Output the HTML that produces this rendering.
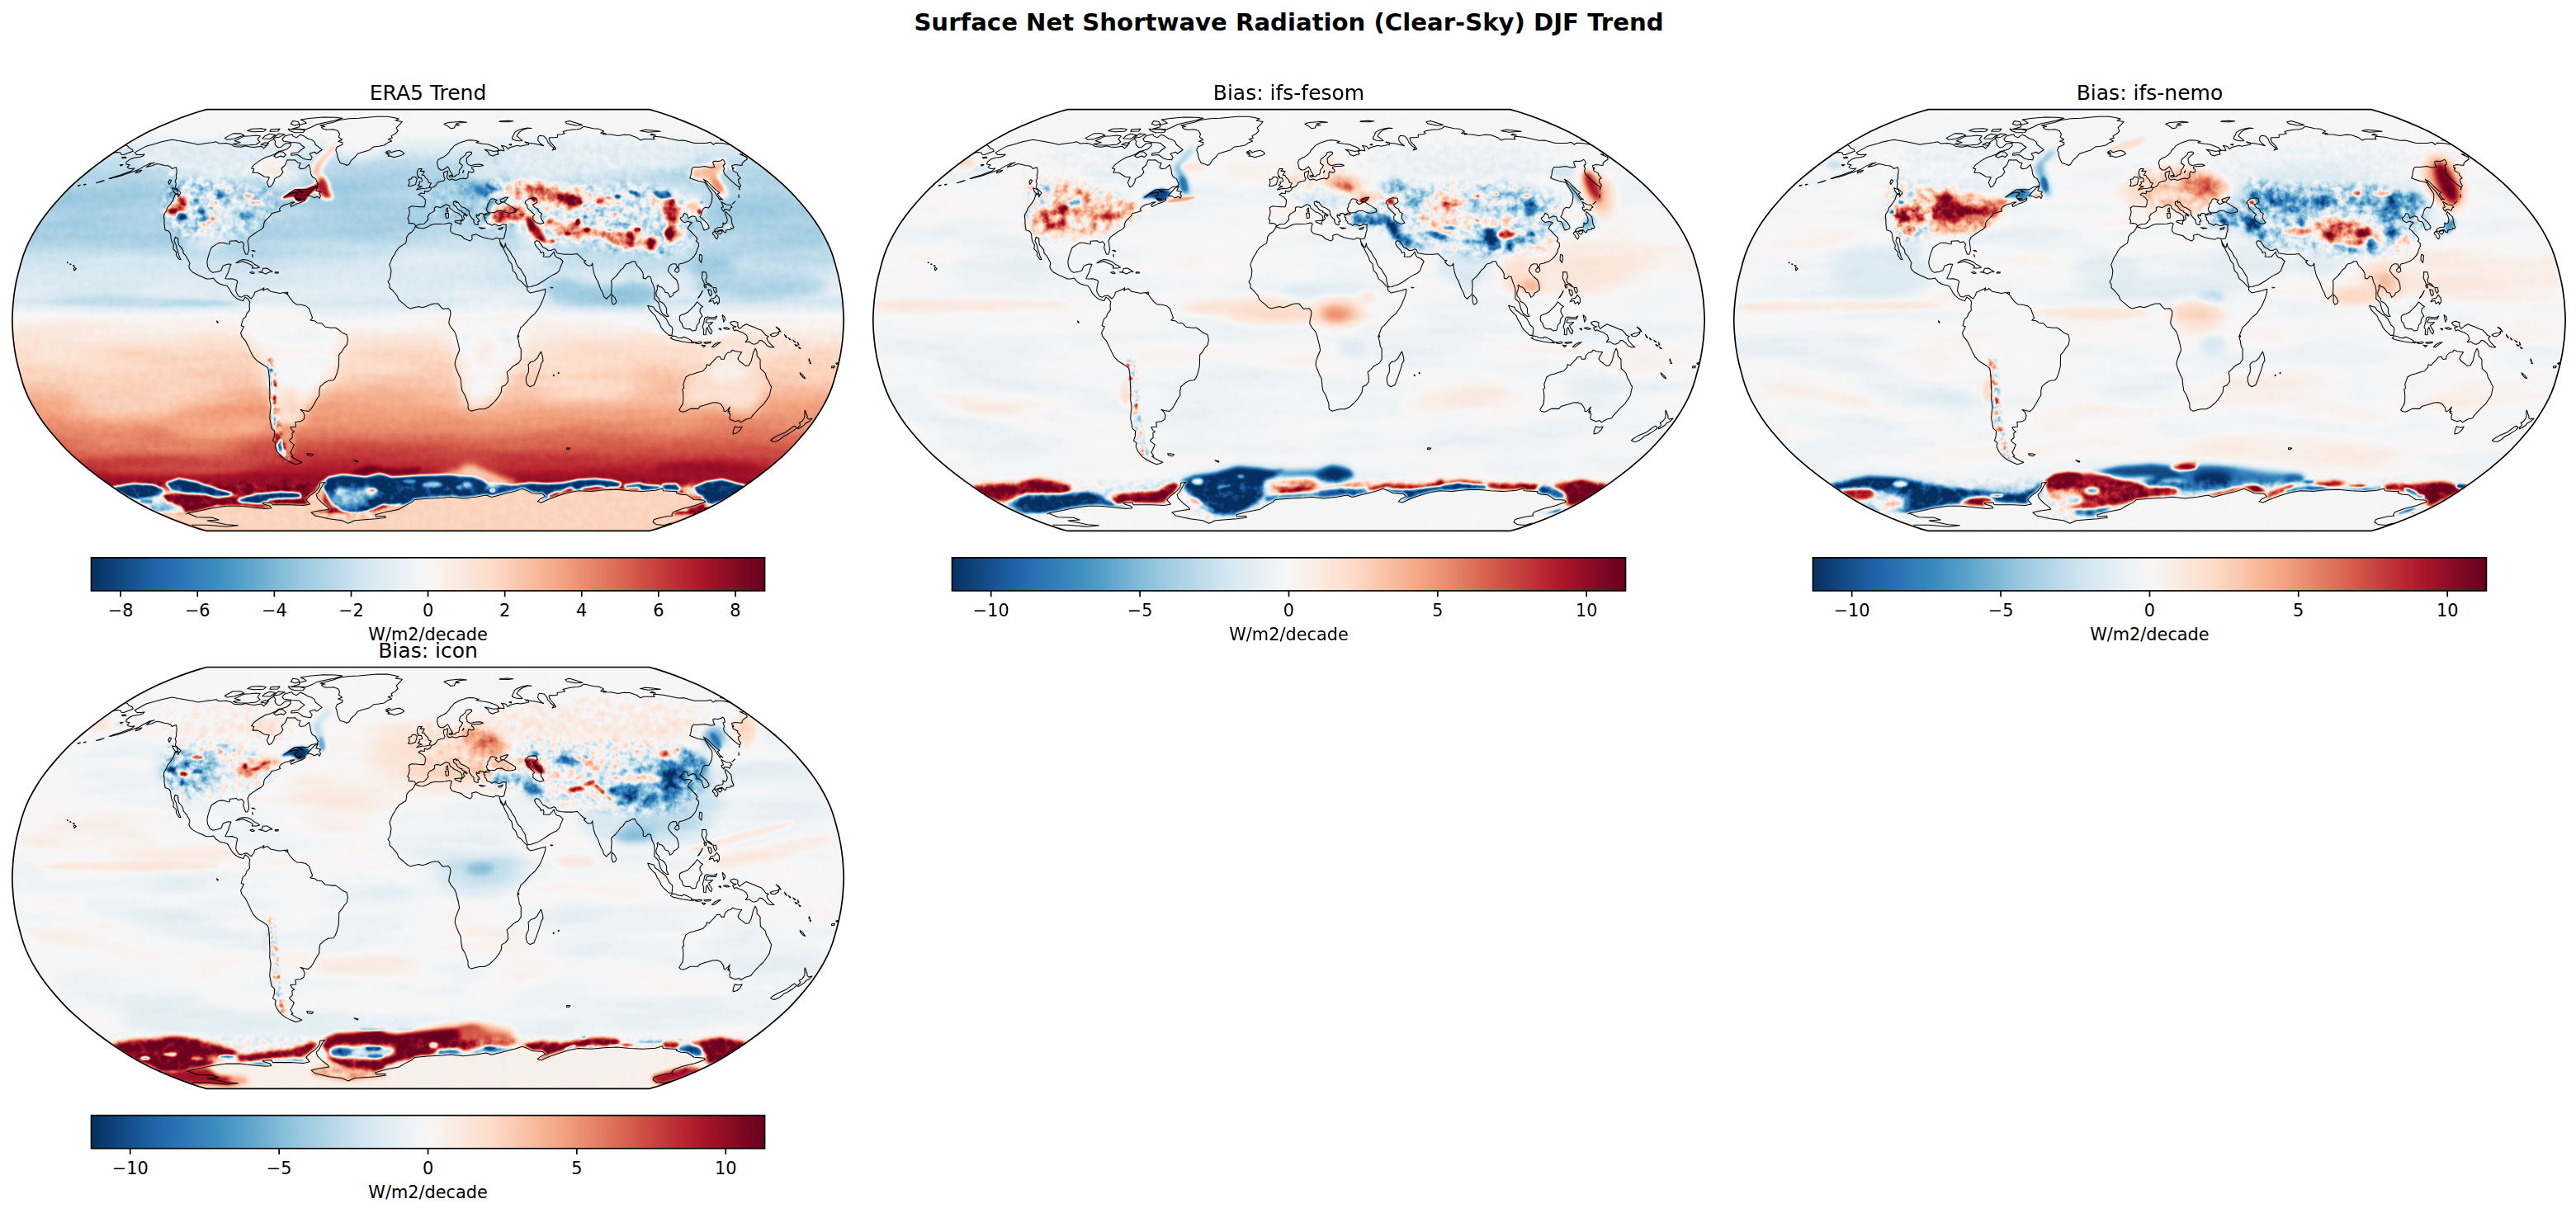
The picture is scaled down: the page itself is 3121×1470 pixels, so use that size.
<!DOCTYPE html>
<html><head><meta charset="utf-8"><title>Surface Net Shortwave Radiation (Clear-Sky) DJF Trend</title>
<style>
html,body{margin:0;padding:0;background:#fff;}
body{width:3121px;height:1470px;overflow:hidden;}
svg{display:block;font-family:"DejaVu Sans","Liberation Sans",sans-serif;fill:#000;}
.t{font-size:25px;text-anchor:middle;}
.k{font-size:20.83px;text-anchor:middle;}
.s{font-size:29.17px;font-weight:bold;text-anchor:middle;}
</style></head><body>
<svg width="3121" height="1470" viewBox="0 0 3121 1470">
<defs>
<clipPath id="rob"><path d="M771.7 0 L781.1 2.6 L791.9 6.1 L803.8 10.4 L816.6 15.5 L829.9 21.1 L842.7 27.2 L854.6 33.5 L865.6 40 L876.1 46.7 L886.3 53.6 L896.2 60.6 L905.9 67.8 L915.3 75.1 L924.2 82.5 L932.8 90 L940.8 97.7 L948.2 105.3 L955.1 113.1 L961.7 120.9 L967.9 128.8 L973.4 136.6 L978.5 144.5 L983.1 152.5 L987.2 160.4 L990.8 168.3 L993.8 176.2 L996.2 184.1 L998.4 192 L1000.5 200 L1002.3 207.9 L1003.8 215.8 L1005 223.7 L1006 231.6 L1006.6 239.5 L1007.1 247.5 L1007.4 255.4 L1007.1 263.3 L1006.6 271.2 L1006 279.1 L1005 287 L1003.8 295 L1002.3 302.9 L1000.5 310.8 L998.4 318.7 L996.2 326.6 L993.8 334.5 L990.8 342.5 L987.2 350.4 L983.1 358.3 L978.5 366.2 L973.4 374.1 L967.9 382 L961.7 389.8 L955.1 397.6 L948.2 405.4 L940.8 413.1 L932.8 420.7 L924.2 428.2 L915.3 435.7 L905.9 443 L896.2 450.2 L886.3 457.2 L876.1 464.1 L865.6 470.8 L854.6 477.3 L842.7 483.6 L829.9 489.6 L816.6 495.3 L803.8 500.3 L791.9 504.6 L781.1 508.2 L771.7 510.8 L235.6 510.8 L226.3 508.2 L215.5 504.6 L203.5 500.3 L190.7 495.3 L177.5 489.6 L164.6 483.6 L152.7 477.3 L141.7 470.8 L131.2 464.1 L121 457.2 L111.1 450.2 L101.4 443 L92.1 435.7 L83.1 428.2 L74.5 420.7 L66.5 413.1 L59.2 405.4 L52.3 397.6 L45.7 389.8 L39.5 382 L33.9 374.1 L28.9 366.2 L24.3 358.3 L20.1 350.4 L16.6 342.5 L13.6 334.5 L11.1 326.6 L9 318.7 L6.9 310.8 L5 302.9 L3.5 295 L2.3 287 L1.4 279.1 L0.7 271.2 L0.2 263.3 L0 255.4 L0.2 247.5 L0.7 239.5 L1.4 231.6 L2.3 223.7 L3.5 215.8 L5 207.9 L6.9 200 L9 192 L11.1 184.1 L13.6 176.2 L16.6 168.3 L20.1 160.4 L24.3 152.5 L28.9 144.5 L33.9 136.6 L39.5 128.8 L45.7 120.9 L52.3 113.1 L59.2 105.3 L66.5 97.7 L74.5 90 L83.1 82.5 L92.1 75.1 L101.4 67.8 L111.1 60.6 L121 53.6 L131.2 46.7 L141.7 40 L152.7 33.5 L164.6 27.2 L177.5 21.1 L190.7 15.5 L203.5 10.4 L215.5 6.1 L226.3 2.6 L235.6 0Z"/></clipPath>
<path id="bound" d="M771.7 0 L781.1 2.6 L791.9 6.1 L803.8 10.4 L816.6 15.5 L829.9 21.1 L842.7 27.2 L854.6 33.5 L865.6 40 L876.1 46.7 L886.3 53.6 L896.2 60.6 L905.9 67.8 L915.3 75.1 L924.2 82.5 L932.8 90 L940.8 97.7 L948.2 105.3 L955.1 113.1 L961.7 120.9 L967.9 128.8 L973.4 136.6 L978.5 144.5 L983.1 152.5 L987.2 160.4 L990.8 168.3 L993.8 176.2 L996.2 184.1 L998.4 192 L1000.5 200 L1002.3 207.9 L1003.8 215.8 L1005 223.7 L1006 231.6 L1006.6 239.5 L1007.1 247.5 L1007.4 255.4 L1007.1 263.3 L1006.6 271.2 L1006 279.1 L1005 287 L1003.8 295 L1002.3 302.9 L1000.5 310.8 L998.4 318.7 L996.2 326.6 L993.8 334.5 L990.8 342.5 L987.2 350.4 L983.1 358.3 L978.5 366.2 L973.4 374.1 L967.9 382 L961.7 389.8 L955.1 397.6 L948.2 405.4 L940.8 413.1 L932.8 420.7 L924.2 428.2 L915.3 435.7 L905.9 443 L896.2 450.2 L886.3 457.2 L876.1 464.1 L865.6 470.8 L854.6 477.3 L842.7 483.6 L829.9 489.6 L816.6 495.3 L803.8 500.3 L791.9 504.6 L781.1 508.2 L771.7 510.8 L235.6 510.8 L226.3 508.2 L215.5 504.6 L203.5 500.3 L190.7 495.3 L177.5 489.6 L164.6 483.6 L152.7 477.3 L141.7 470.8 L131.2 464.1 L121 457.2 L111.1 450.2 L101.4 443 L92.1 435.7 L83.1 428.2 L74.5 420.7 L66.5 413.1 L59.2 405.4 L52.3 397.6 L45.7 389.8 L39.5 382 L33.9 374.1 L28.9 366.2 L24.3 358.3 L20.1 350.4 L16.6 342.5 L13.6 334.5 L11.1 326.6 L9 318.7 L6.9 310.8 L5 302.9 L3.5 295 L2.3 287 L1.4 279.1 L0.7 271.2 L0.2 263.3 L0 255.4 L0.2 247.5 L0.7 239.5 L1.4 231.6 L2.3 223.7 L3.5 215.8 L5 207.9 L6.9 200 L9 192 L11.1 184.1 L13.6 176.2 L16.6 168.3 L20.1 160.4 L24.3 152.5 L28.9 144.5 L33.9 136.6 L39.5 128.8 L45.7 120.9 L52.3 113.1 L59.2 105.3 L66.5 97.7 L74.5 90 L83.1 82.5 L92.1 75.1 L101.4 67.8 L111.1 60.6 L121 53.6 L131.2 46.7 L141.7 40 L152.7 33.5 L164.6 27.2 L177.5 21.1 L190.7 15.5 L203.5 10.4 L215.5 6.1 L226.3 2.6 L235.6 0Z" fill="none" stroke="#000" stroke-width="1.67" stroke-linejoin="miter"/>
<path id="coast" d="M148.4 52.2 162.2 44.5 174 41.3 181.1 39.2 193.9 36.6 201 37.9 207.5 38.9 218.8 41 225 42.6 232.6 41.3 242.3 40 247.2 39.2 250.8 41.3 259.5 40.8 265.6 42.6 268.6 44.8 277.1 45.6 282.7 44 287.6 45.3 293.3 45.9 301.7 44.5 304.6 47.2 308.9 43.2 309.6 40 316.6 35.5 318.8 38.6 318.2 41.8 319.5 44 322 46.1 325.3 45.9 330.7 41.3 337.2 40.8 337.3 44 333.1 48 326.3 50.2 322.8 50.8 318.3 54.1 312.5 56.4 307.2 57.8 299.8 62 293.1 66.9 289.7 71.3 292.9 72.1 291.2 76.6 297 76.6 300.5 78.3 305.6 81.6 311.5 82.2 308.5 88.5 309.8 91.6 311.1 94 314 92.8 316.8 88.5 317.9 84 325 80.1 328.1 76 326.1 71.6 330.8 67.2 333.2 61.2 338.5 61.4 342.4 61.2 345.7 64.3 349.2 64.9 347.2 70.1 349.6 72.1 354.5 71.3 359.3 66.9 361 71.9 361.8 78 363.7 81.9 367.6 84 368.8 87 370.6 90 369.2 92.8 362.8 94 358.2 97 350.9 97 342.4 97 335.9 101.3 329.2 106.3 334.2 102.9 341.2 100.4 346 100.7 344.9 103.8 341.9 105.3 342.9 107.5 345.4 110 349.4 110.6 354.9 107.5 354.5 110.3 350.4 112.5 344 114.7 338 117.8 337 115.3 342.2 112.2 338.4 112.5 335.4 114 329.8 115.6 325.8 117.8 323.5 120.9 324.9 123.1 320.6 124.4 314.1 126.2 312.8 128.8 309.1 132.5 306.3 135.1 304.9 138.2 304.6 142.3 301.6 145.5 297 148 292.9 150.9 287.4 154.7 285.3 159.1 286.3 166.1 286.8 170.5 284.9 175.6 282.7 175.3 281.6 172.4 279.8 167.3 280.8 163.5 278.1 160.1 274.1 161.3 271.6 159.1 267.5 159.4 263.4 159.7 263.4 163.2 260 162.9 256.2 161.6 250.8 161.6 247.2 163.5 241.4 167.3 239.1 173 237.1 179.4 236 184.8 236.8 190.5 239.4 195.2 242.9 197.7 248.8 196.5 253.1 195.2 255.3 189.5 261.1 187.3 265.1 187.6 263.1 192.7 261.6 197.7 259.9 200.9 258 205 261.6 205.3 266.3 205 271.6 206.9 272.9 208.5 271.5 214.2 270.8 219.9 272.5 223.7 274.6 226.6 277.8 227.5 281.3 225.6 284.9 225.6 287.9 228.1 289.5 229.4 292.7 225.3 293.8 221.5 297.8 219.9 302.7 217.7 305 216.1 303.9 219.6 306.2 218 309.1 217.1 313 220.5 319.4 221.8 324.1 222.8 329.7 221.8 333.7 224.3 336.4 228.5 340.4 233.2 344.5 236.4 350.1 236.7 355.6 238 359.7 241.4 362.4 249 363.8 252.8 361 255.4 366.6 256.3 369.4 258.5 375 259.2 379.2 263.6 386.2 264.6 391.8 264.6 396 267.4 400.3 270.9 405.1 272.8 406.6 279.1 405.3 285.5 402.1 288.9 399.4 293.4 395.9 297.2 395.7 304.5 395.5 311.4 393.7 318.7 391.4 325 388.9 328.2 383.4 328.5 378.2 331.4 373.1 335.8 372 340.9 372.1 346.3 369.4 350.4 366.8 355.1 364.5 359.2 362 363 358.5 365.9 353.1 364.9 349.1 363.7 352.6 366.8 354.3 371 353.2 375.7 349.3 378.2 343 378.8 343.7 384.5 336.9 385.1 339.4 389.2 341.8 390.5 339 392.3 339.4 397.6 335.7 400.8 337.5 403.2 341.5 406.3 339.2 411.6 337.1 415.5 340.1 420.1 337.9 420.4 341.9 423.1 347.4 426.1 351.1 427.6 347.5 429.1 343.3 430 337.5 427.6 331.4 424.6 326.1 420.7 321 414.6 318.4 408.5 319.1 403.9 315.7 401.4 317.5 396.1 317.9 389.8 314.3 386.7 313.1 380.4 311.9 374.1 312.3 367.8 313.3 359.9 311.9 352 312.1 342.5 311.7 334.5 311.4 325 310.6 317.1 309.6 313.3 304.9 309.8 297.5 305.4 292 299.7 289.1 294 285.9 287 282.7 280.7 278 275 276.8 270.6 279.2 266.1 280.5 263 277.4 262 278.4 257.9 279.8 253.8 282.9 251.3 284.1 247.5 287.6 243.3 287.2 238 287.9 233.2 285.3 229.4 282 227.5 279.9 231.9 276.8 231 272.7 229.4 270.3 227.5 266.9 224.3 264.9 221.2 262.9 217.4 260.4 213.9 255.3 212.6 251.2 211.4 247.3 208.8 243.7 204.4 239.4 205.3 235.3 205.3 230.1 202.8 224.8 200.6 218.4 197.1 214.9 193.3 214 190.1 215.2 186.3 213.3 182.5 210.7 177.8 207.3 174.3 206.8 170.5 204.4 167 201.7 164.2 200.9 159.7 200.9 156.3 197.4 154.7 196.1 159.4 198.5 164.2 199.3 168 200.8 173 202.2 177.8 204.2 181.9 202.3 181.9 198.6 176.8 198.9 173 195 168.9 195.5 164.2 192.9 159.4 192.1 154.7 191.8 150.9 189.8 147.7 185.2 146.1 184.5 141.4 184.1 137.6 184.2 134.4 183.6 130.3 184 127.2 186.8 122.5 187.8 119.3 192.3 113.7 195.2 109.1 197.3 102.9 201.3 103.2 200.8 106 204 101.3 203 99.8 200.6 97.7 197.5 94.6 198.5 90 197.4 87 199 83.1 198.5 80.1 199.4 76.6 199.2 73 198.6 70.1 193.5 71.9 192.1 69.8 189.1 68.4 184.1 67.8 179.8 66.6 175.1 65.8 169 68.4 162.4 69.8 168 65.8 172.3 64.3 166.6 65.5 159 69.2 153.6 72.7 147 75.1 139.5 77.7 132 80.4 125.5 82.2 118 83.7 123.8 81.6 130.7 79.5 138.5 76.6 144.2 74.5 148.2 71.3 143.7 71.9 141 71.3 139.3 69.8 142.3 67.2 137.8 66.3 138.5 63.5 143.4 60 147.9 58.6 153.9 57.8 157.9 56.6 160.3 54.4 155.4 54.9 151.1 54.9 149.7 53.6 148.4 52.2ZM372.9 19.5 379.9 17.7 388.9 15.5 396.5 12.8 408.2 11 420.2 10.6 430.9 9.5 441.3 8.6 454.5 8.6 462.2 9.9 468.4 11.4 464.4 13.4 472.5 14.8 468.9 18.8 465.3 22.3 467.2 25.9 464.7 28.9 459.1 32.2 460.5 34.7 455.3 36 459.8 38.4 455.4 40 450.6 43.4 444.2 44.5 437.8 45.3 432.5 49.4 425.7 51.3 418.6 53.6 415.2 57.8 410.5 62 408 66.3 405.4 67.8 402.5 66.3 397.4 64.9 395.5 61.2 393.9 56.9 393.4 53 391.9 49.1 393.6 45.3 399.9 42.6 400.1 40 394.7 38.6 399.8 36.6 395.5 33.5 396.7 29.7 394.3 25.9 389 24.2 381.2 24.7 376.6 23.5 374.6 21.6 379 20.6 372.9 19.5ZM349.2 30.4 354.1 32.7 358.1 35.3 363 36.8 366.3 39.4 367.4 42.6 371.7 45.9 375.3 48.9 368.7 53.6 366.5 51.6 360.2 53.6 363.3 57.8 361.6 61.2 356.5 60.6 352.6 59.7 348.7 56.9 345.5 54.9 337.7 55.5 338.2 53 346.1 52.2 350.4 48.6 354.2 45.9 350.6 43.4 348.3 40.8 343.6 40.2 338.8 40 333.4 39.2 328.8 38.6 327 36 330.3 32.2 338.9 30.2 340 32.2 344.2 34.2 349.2 30.4ZM269.4 38.1 280.3 32.7 288.7 32.2 295.3 31.4 300.3 32.2 297.3 36 300.1 39.4 295.1 42.6 287.5 43.2 279.1 43.4 272.2 43.2 267.5 41.8 276.5 40 269.4 38.1ZM257.4 34.7 267.4 29.2 276.9 29.2 280.9 31.4 268.3 35.5 260.2 36.6 257.4 34.7ZM338.9 23.5 346.9 23.7 355.9 24 363.2 21.1 368.9 18.1 377.9 16.1 390.8 13.4 400.1 10.6 391.2 9.5 376.5 9.3 359.8 10.8 349.4 12.4 353.7 14.4 356.4 16.6 347.7 18.8 347.8 21.1 338.9 23.5ZM334.3 23.5 336.3 25.9 342.6 28.2 352.3 27.9 354.5 25.4 348.5 24 339.3 24 334.3 23.5ZM339.9 13.8 346.3 14.8 348.1 17.7 342.7 19.3 337.5 17.7 339.9 13.8ZM284.9 25.9 292.7 27.2 304.6 26.7 307.6 24.2 301.8 23 290.1 23.5 284.9 25.9ZM312.1 26.7 321.8 26.4 324.2 23.5 313.4 24 312.1 26.7ZM303 35.3 312.6 35.5 319 30.9 311.6 29.7 306.1 32.2 303 35.3ZM316.3 34.7 323.3 33.5 330.3 30.2 322.4 29.4 316.3 34.7ZM301.3 42.6 307.5 43.7 310.7 41 306.4 40.2 301.3 42.6ZM316.8 56.4 319.8 58.3 325.4 56.4 328.8 57.8 331.7 54.9 327.7 51.3 323.5 51.3 316.8 56.4ZM357.4 104.7 361.8 105 366.1 107.2 370.3 105.3 372.1 107.8 373.7 104.7 371.9 102.3 373.6 99.8 368 98.3 370.3 93.1 366 95.2 362.3 99.2 357.4 104.7ZM344.1 107.8 349.6 108.4 346.6 110 344.1 107.8ZM346.9 98 352.7 100.4 348.7 99.8 346.9 98ZM193.9 95.2 199.3 97 200.9 102 197.7 102 195.4 99.2 193.9 95.2ZM190.6 85.2 192.9 86.1 190.2 90.9 189 88.5 190.6 85.2ZM150.4 75.1 157 73.6 154 76 149.4 77.2 150.4 75.1ZM271.1 186 275.3 183.2 280.1 181.9 285 182.5 290.2 184.8 293.9 187.9 297.8 189.8 299.8 191.4 296.1 192.4 290.4 192.4 291.7 190.1 288.4 187.9 283.2 185.7 279.3 184.1 275.1 185.1 271.1 186ZM298.6 197.1 302.6 196.5 303.5 192.7 308.5 192.4 311.6 194.3 315.2 196.5 311.3 197.1 307 199.3 303 197.7 298.6 197.1ZM287.9 197.4 291.5 196.8 293.5 198.4 290.4 199 287.9 197.4ZM318.5 197.1 322.6 197.1 322.2 198.4 318.4 198.4 318.5 197.1ZM290.8 175.9 291.5 178.7 291.2 176.8 290.8 175.9ZM290 170.8 292.4 170.8 294.1 172.1 290 170.8ZM331.6 221.5 333.9 221.5 333.8 223.4 331.6 223.4 331.6 221.5ZM452.3 51.9 456.6 49.7 459.3 52.2 463.8 50.5 469.1 49.7 472.7 51.3 474.8 53.6 471.6 55.5 466 57.2 462.6 58 458.5 56.6 455.1 56.6 456.7 54.9 453 53.8 457.1 52.7 452.3 51.9ZM488.2 142 493.1 143.9 498.4 144.2 503.7 142 507.6 139.8 511.5 138.9 518.1 138.9 524.6 138.5 529.8 137.3 532.5 138.5 531.3 142 530.7 146.8 532.9 149.9 538.3 151.5 544.2 153.1 547.8 156.6 554.7 159.4 557.2 157.2 556.9 152.5 562.2 151.2 566.3 153.4 570.5 155 577.3 156.6 582.7 157.5 586.5 155.6 590.1 156.6 591 160.4 591.8 164.2 594.9 168.3 597.4 173.7 600.5 179.4 601.6 183.2 605.1 187.3 606.4 195.2 609.8 198.4 612.4 205.3 616.7 208.5 621.1 213.3 623.7 215.8 623.8 219 627.6 222.4 633.1 221.2 639.4 219.6 646 217.7 645.7 222.4 643.7 228.5 640.5 236.4 637.8 241.1 633.2 247.5 628.2 251.6 622.6 257.9 619.2 261.7 616.1 264.2 614.1 269.9 612 275.3 613.6 280.7 614.5 287 616.4 290.2 616.4 296.5 616.4 302.9 613.4 307.3 607.2 310.8 602.8 315.2 599.3 318.4 600.4 323.5 600.6 329.8 597.6 333.9 593.1 336.1 592.4 342.5 589.9 346.9 586.3 352 582.4 356.1 577.5 360.5 572 363 565.9 363 560.5 364.3 556.5 365.6 553.4 364 552.2 361.5 552.2 356.7 549.9 350.4 548.2 345.9 545.1 340.9 544 334.5 543.4 326.6 540.7 321.2 538.1 314.9 536.3 309.2 536.9 304.5 539.2 298.1 541.8 291.8 540.7 285.5 538.6 277.5 537.8 273.7 535.8 269 531.6 264.2 528.9 259.2 529.7 253.8 531.1 248.4 530.8 244 528.3 241.1 524.6 241.4 521.8 241.8 519 238.9 516.2 235.4 510.7 235.4 506.5 236.7 500.9 238.9 496.7 240.2 492.5 238.9 486.9 240.2 482.4 241.4 478.5 239.5 474.4 235.7 471.6 233.5 468 230.4 466.6 226.2 463.3 222.1 460.6 219 457.3 216.1 457.1 211.7 455.2 208.8 457.5 205.3 458.4 201.5 459.1 195.2 457.8 190.5 457 188.2 459.1 183.2 460.6 179.4 463.4 175.3 464.9 172.1 468.5 167.3 473.2 164.2 476.8 162 477.7 157.8 477.8 154.7 480.3 150.9 484.3 148.3 486.5 145.5 488.2 142ZM640.7 293.4 642.4 299.1 643.2 304.5 641.1 307.6 639.9 312.4 637.8 318.7 635 326.6 632.2 333.9 627.4 336.1 624.1 333.9 622.5 329.2 622.6 324.4 625.4 318.7 625.7 314 625.2 309.2 628.2 306 632.4 304.8 636.2 301.3 638.3 297.2 640.7 293.4ZM489.2 141.4 486.9 138.5 484.1 137.9 480.4 138.2 480.8 134.1 479 132.5 480.7 128.1 481.4 124 480.3 119.3 483.5 117.2 488.5 117.5 494.1 118.1 499.1 118.1 500.4 114.4 500.7 110 498.2 106.6 495 104.7 492.1 103.2 495.1 101.3 499.5 102 499.5 98.6 502.9 99.8 506.6 97.7 507.8 94.9 511.4 93.7 514 90.9 515.1 88.5 519 87 523 86.4 524.3 84 522.8 81 522.5 76.6 526.1 75.1 527.9 74.5 527.4 78 526.5 81.6 527.6 84 529.6 85.5 533 84.3 537.2 85.8 542.4 84 547 83.4 549.5 84.3 552.2 81.9 552.1 78 553.1 75.1 556.5 76.6 559.3 75.7 558.8 72.7 556.8 71.6 556.5 69.8 560.9 68.9 566.5 68.9 570.7 67.8 567.1 66.3 561.6 66.6 555.1 68.1 551.4 66 550.5 62.6 550.3 59.2 553.1 56.4 556.8 53.6 556.4 51.6 553.2 51.3 550.2 52.2 549.2 54.9 545.8 57.8 542.5 60.6 541.7 64.9 545.7 67.8 544.3 70.7 541.7 73.6 541.6 76.6 540.7 78.9 537.3 79.5 536.7 81.3 533.7 81.3 533 78.6 530.7 75.1 529 71.3 527.5 69.2 525.1 71.3 521.9 73.3 519.1 73.3 516.3 71.3 515.3 67.8 514.7 64.3 515.7 61.4 518.9 59.2 522.7 57.5 526.1 55.2 529.1 52.2 530.8 49.1 533.6 46.4 535.4 44 539.2 41.8 542.9 40 547.6 38.6 551.4 37.3 554.9 37.1 559.3 37.3 565.3 38.9 562 40 565.2 40.8 570.5 41.6 576.8 42.4 582.6 44.5 587.4 46.4 589.7 48.9 587.6 50.2 583.6 50.8 577.9 49.4 572.5 48.6 576.4 51.3 578 54.9 582.1 56.4 585 55.2 589.3 54.1 587.8 50.8 591.5 49.4 596 50.2 595.1 46.7 592.6 43.7 598.1 44.8 600.4 48 602.8 46.1 607.4 44.8 612 43.7 615.4 44.5 621.1 43.4 625.7 42.6 625.6 40.5 632.1 41.3 637.9 42.6 643.8 44 639.3 40.8 636.8 37.3 637.2 33.5 638.9 31.7 644.3 32.4 647.4 36 649.1 40 652.6 44 656.4 46.7 654.3 49.4 658.7 48 656.1 44 652.1 40 650.2 35.3 651.3 34 656.3 34.2 660.6 33.5 660.3 30.7 665.6 30.2 669.5 29.2 667.3 26.9 671.7 25.7 677.8 24.5 684.7 24 689.1 23 692.1 20.6 697.3 21.6 703.7 23 711.1 23.7 716.5 26.4 713 28.9 719.2 30.2 726.2 30.4 733.9 31.9 741 30.7 748 30.9 756.8 34 761 37.3 765 35.8 769.9 35.8 778.1 36 776.6 33.5 778.5 32.7 788.7 33.7 799.9 36 807 37.6 813.6 37.3 826.5 40.8 832.6 40.8 840.7 40.8 846.1 39.7 849.5 42.6 852.4 40.5 861.3 41 870.3 42.9 885.9 53.3 884.7 54.7 881.4 54.1 889.7 57.8 890.4 60.3 886.9 62.6 884.4 64.9 884.2 67.8 875.8 66.9 871.6 68.1 872.8 71.6 873.1 74.2 879 77.5 878.7 79.2 882.4 83.1 879.7 84.6 880.1 88.5 882.6 91.9 881.5 94.6 875.1 90 868.5 84 862.8 78 861.7 74.2 862.8 72.1 861.2 67.8 863.5 66.3 862.7 62.6 860.9 60.6 858.8 62 855.4 62.9 850.7 62.6 848.8 63.5 850 67.8 851.2 69.8 846.5 70.7 839 68.9 832.1 69.8 825.3 69.8 823.7 71.6 822.7 75.1 822.2 79.5 820.8 83.1 827.6 85.5 831 86.7 835.4 87.6 839.2 88.5 841.9 93.1 844.9 97.7 847.9 102.3 848 106.9 847.5 111.5 846.1 115.3 843.7 119.3 839.5 118.7 837.4 120.3 836.6 121.5 835.8 124 834.5 127.8 833.1 130 836.8 133.2 841 137 843.9 141.4 844.2 143.9 841.2 145.5 838.2 146.4 836.3 142 835.6 138.9 833.5 136 829.2 135.1 827.9 130.3 824.4 129.1 821.7 130.3 819.1 131.9 817.5 127.2 814.3 125.9 812.3 129.7 809.3 131.6 810.6 134.4 814.4 137 818.5 135.7 823.7 137.3 821.2 139.5 819.7 141.4 818.4 144.5 822 147.7 825.3 151.5 829 155 830 157.8 828.4 159.4 831.4 162 831.7 165.8 830 169.2 828.7 173.7 826.5 177.2 823.2 181 819.6 183.5 816.3 184.8 812.7 186.3 808 187.3 806.9 190.8 805.2 190.8 804.4 187.3 800.5 187 797.2 188.9 795.1 192.7 794.8 195.8 797.6 199.6 800.8 203.1 804.9 206.6 807 212.6 807.4 218.3 804.3 221.2 801.6 222.4 800.4 225.3 797 227.8 795.6 224.3 794.6 222.4 791.2 221.5 789.5 218 786.5 215.2 784 215.2 782.6 212.6 781.3 213.3 781.7 217.4 779.9 222.1 780.4 225.9 783.4 229.1 784.2 232.6 787.6 234.2 790.5 237 792.7 241.1 792.8 246.8 795.2 250.9 792.9 250.9 789 248.4 787 246.2 785.2 242.7 783.9 238 783.2 234.8 780.5 231.6 777.9 229.4 778.1 224.3 778.2 219 777.2 214.2 774.7 208.5 773.5 203.1 770.3 202.2 767.4 205.3 764.5 204.7 764.4 199 762.5 195.2 759.8 192 756.6 188.9 754.6 184.1 751.3 184.1 747.5 186.3 743.5 187.3 741.9 189.5 740.1 192.4 737.1 194.6 734 199 731.1 202.5 727.8 205.3 725.8 207.2 726.3 212.9 725.9 218 725.9 222.8 723.8 225.9 721.7 227.5 719.9 229.7 716.9 226.9 715.3 222.1 712.7 217.4 711 212.6 709.2 207.9 706.9 204.1 705 199 704 194.6 703.2 189.5 702.9 186.3 701.8 188.9 698.5 189.5 695.7 188.2 692.6 184.8 695.1 183.2 692.3 182.5 689.9 180.3 687.1 177.5 684.6 174.9 679.2 175.6 673.8 175.6 669.7 175.6 664.2 174.9 660 174 658.1 169.9 656.1 169.2 652.8 170.8 649.6 170.8 646 168.3 642.9 167 640.6 163.5 637.9 159.7 634.9 159.1 632.7 161 633.9 164.5 636.8 168.3 639.5 170.8 640.4 174 642.2 173 643.6 173 644.2 176.2 643.3 178.4 646.9 178.7 650.9 178.7 654.1 175.3 656.3 172.4 657.3 176.5 659.7 179.4 663.7 180.6 667.3 184.1 665.5 187.9 664.3 190.8 662.8 195.2 659.5 198.4 656 200 651.5 202.5 648.1 204.7 643.6 207.9 639.6 210.4 635.5 212.6 630 214.2 628.7 214.8 624.5 215.2 623.6 212.6 622.2 207.9 621.7 203.1 619 199 615.9 193.6 612.4 190.5 610.5 186.3 608.9 181.6 605.9 177.8 603.6 173 599.7 168.3 598.2 166.1 597.6 162 596.6 166.1 596.1 167.3 594.1 165.4 591.9 162 591 160.4 590.1 156.6 593.3 156.9 595.4 156.3 596.5 153.4 597.1 149.9 598.3 146.1 598.1 142 598.5 139.2 596.7 139.5 594 138.9 591.6 140.7 589 141.1 586.2 139.5 583.8 138.9 581.1 140.7 578.3 138.9 575.3 138.2 574.6 135.7 572.5 133.5 573 131 571.4 130.3 571.4 128.1 574.4 127.5 578.3 127.2 578 125.3 581.8 125 584.4 125 587.9 122.8 593 122.5 597.2 124.7 601.2 125.6 605 125.3 609.9 124 609.5 120.9 606.3 118.7 602.6 116.5 598.6 114 595.8 112.5 598.3 109.4 600.9 106.3 597.8 106.6 594.3 107.8 591.3 109.1 591.7 111.5 595 112.2 592.7 113.1 589.2 115 587.9 114.4 585.2 111.9 587.4 110 583.2 108.4 580.2 108.4 578.5 110.6 578.1 112.5 576.1 114.7 576 117.8 574.5 120 575.5 123.7 578 125 575.5 125.6 573.1 126.6 571.1 127.8 570.4 126.2 566.6 125.9 564.9 127.2 566.1 128.4 564.3 129.1 562.6 127.2 562 128.8 563.2 131.3 565.5 133.5 566.2 135.7 564.1 135.7 564.5 139.8 562.7 139.8 560.5 138.9 558.9 135.7 559.6 134.1 557.3 132.2 555.3 129.7 553.6 127.2 553.5 123.1 550.7 120.9 547.5 119 544.2 117.8 542 115.3 540 112.2 537.8 113.1 537.9 110.9 534.5 112.2 534.9 115.6 538.1 117.8 539.8 120.9 542.5 122.8 545.1 123.1 544.6 124.4 547.8 125.9 551.3 128.1 550.7 129.4 547.4 127.2 546.5 129.7 548 131.9 546.6 133.8 544.6 135.1 545.2 132.5 544.2 128.8 541.7 126.9 539 125 535.7 124 533 121.5 530.3 119.7 529.4 116.5 525.8 115 522.6 116.8 518.9 119 515.8 118.1 513.3 118.1 511.5 119.3 511.8 122.8 508.8 124.7 505.7 126.2 503.2 130 504.2 132.5 501.9 135.7 498.4 138.9 494.5 139.2 491.9 139.5 489.2 141.4ZM137.1 42.9 139.5 44 141.6 46.7 145.4 48.3 146.5 50.5 142.1 52.2 135.1 54.9 132.2 54.7 131.1 52.4 126.6 51.9 123.3 52.7 121.4 53.3M622.3 110.9 625.4 108.4 630.1 107.2 635.1 107.5 636.3 111.9 633.1 114.4 630.3 115.3 632.9 118.7 636.7 120.6 638.3 124.4 641.8 126.2 640.4 128.8 640.5 131.9 644.2 137.3 639.8 138.9 635 137 631 133.8 630.9 129.4 633.1 127.5 630.7 125.6 627.4 122.5 624.2 119.3 623.1 114.7 621.2 113.7 622.3 110.9ZM489.8 97.3 492.8 96.7 496.4 95.8 501.3 95.5 506.8 94.3 505.4 93.1 507.7 89.4 504.4 88.5 504.1 86.7 503.2 84.9 500.6 82.5 499 79.8 496.3 79.5 497.9 77.7 499.3 74.8 495.7 74.5 494.1 74.8 496.4 71.9 492.4 71.9 491.1 74.2 490.4 76.6 491 78.9 490.9 81 492.5 81 492 83.1 495.5 82.8 496.6 85.5 496.6 87.3 493 87.6 493.7 90 491.2 92.2 494.5 93.1 496.5 93.7 493.3 94.3 489.8 97.3ZM479.7 92.8 483.3 92.8 488.6 90.9 489.5 87.6 490.5 84 488.5 81.9 484.5 81.9 483.7 84 480.2 84.9 481.2 87.9 481 90 479.7 92.8ZM523.1 17.7 528 20.4 531.2 23 535.6 22.3 536.8 19.3 542.1 19 537.3 17.7 542.1 16.1 550.6 15.5 543.4 14.6 534.9 15.3 528.1 15.9 523.1 17.7ZM605.6 35.8 610.1 37.6 614.3 38.1 618.2 37.9 614.5 34.7 611.2 32.2 612.6 29.7 614.8 27.2 618.7 24.7 624.6 22.8 629.2 22.8 624.2 22.3 617.8 23.5 612 25.7 608.7 27.9 607.6 30.9 606 33.5 605.6 35.8ZM671.9 17.2 682.5 19.3 690.9 18.8 684.2 16.6 675.2 13.8 670 15 671.9 17.2ZM760.8 25.9 770.1 27.7 776.8 27.2 785.4 26.7 775.8 25.4 767.2 24.7 760.8 25.9ZM773 30.9 779.5 31.4 775 29.7 773 30.9ZM590.2 14.8 600.7 15 606.9 14.2 599.6 13.6 591.3 14 590.2 14.8ZM857.9 37.1 861.7 37.6 859.1 36 857.9 37.1ZM536.2 135.1 544 134.4 543.5 139.2 536.3 136.3 536.2 135.1ZM524.7 125.9 528.6 125.6 528.5 131.3 525.7 131.9 524.7 125.9ZM525.8 120.9 527.5 119.3 528 124 526.2 124 525.8 120.9ZM565.5 143 573 143.9 568.3 144.5 565.5 143ZM588.9 144.5 594.5 142.6 592.9 145.2 589.5 145.5 588.9 144.5ZM850.3 147.7 852 144.9 855.1 143 860.2 142.6 861.3 140.4 861 137.3 863.1 138.9 865.5 137.3 866.4 134.1 865.1 129.4 863.4 126.6 864.4 124 867.6 127.2 870.8 130.3 871.6 134.1 871.7 136.6 872.8 140.4 874.2 142.6 873 144.5 870.7 143.6 870.3 145.5 867 145.8 865.3 146.1 864.4 149 862 148.3 860.4 145.8 856.7 146.4 854.1 147.7 850.3 147.7ZM862.2 123.7 862.6 121.2 865 120.9 869.3 122.5 870.3 119.3 872.2 118.4 869.5 115.6 865 115.3 858.9 111.9 860.5 115.3 861.6 118.4 859.2 118.7 859.6 120.9 862.2 123.7ZM848.6 149.3 850.7 148 853.5 150.2 855.3 154 854.1 156.3 853.6 157.2 851.3 154.7 850.5 152.5 848.5 150.9 848.6 149.3ZM854.5 148 857 147.1 859.9 147.1 859.8 149.3 857.5 151.5 855.3 149.9 854.5 148ZM837.4 84.6 842.5 87.6 847.9 93.1 852.7 97.7 857 100.7 854.5 102.3 857 106.3 860.9 109.4 858.1 108.1 857.6 110 854.3 105.3 851.4 100.7 847.3 96.1 843 91.6 837.4 84.6ZM833 175.6 835.7 176.8 835.5 181 834.8 185.7 832.3 182.5 832.5 178.4 833 175.6ZM802.8 194.3 804.6 192 807.6 192 808 195.8 805.5 197.7 803.1 196.2 802.8 194.3ZM726.5 224.3 730.1 228.1 732 232.6 730.7 235.4 727.9 236.4 726.4 233.2 726.2 228.5 726.5 224.3ZM835.7 196.8 840.4 197.1 841.7 203.1 840 206.3 841.1 210.1 844.9 211.7 848.2 215.2 846.1 214.2 843.1 212.3 838.8 211.7 837.6 208.8 835.3 204.1 836 200 835.7 196.8ZM844.2 233.2 846.7 229.4 850.9 228.5 853.3 224.7 856.4 228.5 856.8 233.2 854.7 236.4 854 233.2 850.5 235.4 849.1 231.6 844.2 233.2ZM849.1 215.8 852.4 215.8 853.5 220.5 851.8 222.8 850 219.6 849.1 215.8ZM842.9 218 846.4 219 847.7 223.7 845.9 226.2 844.3 223.7 842.9 218ZM830.5 228.8 833.8 224.3 836.4 219.6 835 222.8 832.1 227.5 830.5 228.8ZM837.9 212.9 840.7 213.6 840.5 216.4 839.1 216.1 837.9 212.9ZM808.6 250.6 810.5 249 814.7 247.5 818.3 245.9 821 243.3 823.7 240.5 826.3 238 829.7 233.2 832.3 235.4 834.1 237.3 836.7 238.9 833.5 241.4 833.1 245.2 836 250.6 833.8 252.5 832.5 255.4 832.4 258.5 829.8 261.1 828.9 264.9 828 267.7 824 268.4 821 265.8 816.8 266.1 813.5 264.9 811.9 261.7 811.4 259.2 809.2 257 808.4 253.8 808.6 250.6ZM769.9 237.6 773.3 238.6 777 239.5 779 243.3 782.8 245.9 785.6 248.4 788.4 250 791.9 253.2 794.1 257 796 261.1 799.6 264.2 800 266.5 799.2 273.7 795.6 273.7 792.9 271.2 789.4 268 786.1 263.9 784.3 259.2 781.2 254.7 779.2 250 775.8 246.8 772 242.7 769.9 237.6ZM797.4 276.9 800.3 274.4 803.9 275 806.6 276.6 811.6 277.2 813.3 275.6 817.7 277.2 823.1 280.1 822.6 282.9 817.4 282 811.9 281.3 806.4 280.1 800.9 278.8 797.4 276.9ZM838.9 252.8 841.6 251.3 846.4 252.2 850.6 252.2 853.9 250.3 852 254.1 846.4 253.8 841.7 253.8 840 258.2 843.6 258.5 848.7 257.9 845.8 260.8 843.5 261.7 845.7 265.5 848 268.7 846.8 272.2 844.6 270.3 842.8 266.5 842.1 263.9 840.6 266.5 840.3 273.1 837.5 272.8 837.8 266.5 836.2 263.6 838 257.9 838.9 252.8ZM823 281.3 826.1 281.7 824.8 283.2 823 281.3ZM829.4 282.3 832.8 281.7 835.5 282 834 283.6 829.8 283.9 829.4 282.3ZM826.9 282 828.8 282 828.2 283.6 826.9 282ZM838 282.3 842.5 282 846.7 281.7 845.2 283.2 839.6 283.6 838 282.3ZM835.3 285.5 839.9 286.1 837.8 288 835.3 285.5ZM847.6 288 850.6 284.8 855 282.6 858.4 282 854.9 284.5 850.4 287.7 847.6 288ZM860.3 249 863.2 251.6 863.8 254.4 861.8 257.6 861.3 253.8 860.3 249ZM861.6 264.9 865.8 264.2 869.4 266.1 865.7 266.5 861.6 264.9ZM856 265.5 858.8 265.5 858.2 267.4 856 265.5ZM870.2 257.9 874.4 256.6 879.1 258.2 879 262.7 881.2 265.8 885.5 262.3 889.2 260.1 893.9 262 898 263.6 903.5 266.1 907.6 267.4 911.1 271.2 912.9 273.7 916.4 275 914.1 276.9 915.2 280.1 917.7 283.2 921 286.4 923 288 918.6 288 914.6 286.4 912.1 283.2 908.2 280.1 905.5 279.8 902.9 283.2 899.4 284.5 896.7 284.2 892.8 281.3 888.5 282 891.1 278.2 889.7 273.7 885.1 270.3 881 269 876.9 267.1 874.9 268.4 872.8 264.6 877.1 263 873.7 262.3 870.2 259.8 870.2 257.9ZM918.2 273.1 922.8 271.2 927 270.9 929.4 268.7 928.3 272.2 924 275 920.6 275 918.2 273.1ZM925.4 263.6 928.7 265.5 931.3 269.6 930 268 926.8 264.9 925.4 263.6ZM935.6 272.8 938.6 276.6 937 276 935.6 272.8ZM940.6 276.9 943.2 279.1 941.8 279.1 940.6 276.9ZM948.2 284.8 951.6 286.4 949.4 286.7 948.2 284.8ZM945.9 279.4 949.3 282 947.7 281.7 945.9 279.4ZM951.8 282 953.1 285.5 952.1 284.8 951.8 282ZM952.8 288 955.4 289.6 953.7 289.6 952.8 288ZM965.3 302.2 966.5 304.5 965.3 305.1 965.3 302.2ZM966.5 306 967.8 307.6 966.3 307.9 966.5 306ZM954.3 319 957.8 321.9 960.8 326 958.3 325 955.1 321.6 954.3 319ZM992.9 311.1 996.6 310.8 995.8 313 992.7 313 992.9 311.1ZM997.9 307.6 1001.5 306.7 999 308.9 997.9 307.6ZM816 324.4 820.6 321.6 824.9 320.6 830.7 318.7 836.5 317.1 840.9 312.4 841.2 309.2 844.6 310.2 847.4 307 851.3 302.9 853.7 300 857.3 299.7 858.9 302.6 862.5 302.6 863.7 298.1 867.2 294.6 870.6 294 872.5 291.5 876.3 293.1 880.3 293.7 883.9 294 881.2 297.8 879.1 302.2 881.4 305.4 885.1 307.9 888.7 310.8 892.4 310.2 895.4 304.5 896.8 299.1 897.7 295 900.3 289.6 902.1 293.4 902.4 299.1 904.3 300.7 906.2 302.9 906.2 308.6 906.5 314 909.5 316.8 912.4 319.7 913.7 325 915.9 328.2 918 333 919.8 336.1 918.5 341.8 917.5 346.6 914 352 910.3 357.3 905.7 361.5 901.2 366.2 896.9 371 894.9 374.1 889.2 375.4 885.6 377.3 882.6 379.2 880.5 376.9 875.9 378.2 872.7 376.9 869.5 375.7 869.1 372.5 870.1 369.4 868.1 368.1 869.3 365.6 866.9 366.8 869.7 360.5 867 363.7 863.7 366.2 862.2 365.6 862 362.4 860.4 359.9 858.4 357 853.8 355.1 848.4 355.4 842.3 357.3 837.8 358.6 833.3 359.9 830.9 362.7 825.6 362.7 821.6 362.7 816.6 365.3 813.5 366.5 809.8 365.9 807.9 364 809.4 361.5 812.4 356.7 812.9 352 813 347.2 812.7 342.5 811.8 338.7 813.9 337.7 813 333 814.8 328.2 816 324.4ZM875.5 384.2 879.3 385.4 884.3 384.5 882.1 388.3 878 392 873.3 393.3 873.4 389.8 875.5 384.2ZM960.3 364.3 961.3 366.2 962.1 369.4 963.3 371.6 962.9 373.5 964.8 375.4 969.1 374.4 965.4 378.2 961.7 379.8 959.4 382.6 954.7 385.8 951.9 387 951.1 386.1 954.5 382.9 954.4 381 953.4 379.8 957 377.6 959.6 374.1 960.3 371 960 367.2 960.3 364.3ZM947.9 383.6 949.8 384.8 949.6 386.7 946.4 389.2 942.1 392 939.3 393.9 934.8 395.8 931.7 398.6 928.7 400.8 924.6 402.6 921.6 402.6 918.7 401.1 922 398.3 927.5 395.2 932.5 393 937.5 390.8 941.8 387.6 945.9 384.5 947.9 383.6ZM75.1 191.4 77.5 192.7 75.3 195.2 74.6 193.3 75.1 191.4ZM73.7 188.9 75.5 189.5 74.3 190.1 73.7 188.9ZM70.1 187 71.3 187.6 70.1 187.9 70.1 187ZM66.4 185.1 67.5 185.4 66.8 186 66.4 185.1ZM356.9 417.1 361.8 417.4 364.9 418 362.8 420.1 357.7 419.2 356.9 417.1ZM414.2 425.2 419.1 426.4 418.3 427.6 414.2 425.2ZM671.9 410 676 410.3 674 412.2 671.7 411.9 671.9 410ZM247.7 256.3 249.6 257.9 248.5 258.5 247.7 256.3ZM652 215.5 655.1 215.8 653.2 216.4 652 215.5ZM613.2 273.7 614 275.3 613.4 275.6 613.2 273.7ZM655.4 321.6 656.7 322.2 655.8 323.1 655.4 321.6ZM661.4 318.7 662.5 319.3 661.6 320.3 661.4 318.7ZM545.5 76.6 547 73.9 546.7 75.7 545.5 76.6ZM529.2 80.4 532.6 79.5 532.4 81.9 529.8 81.9 529.2 80.4ZM716.7 30.4 719.6 29.7 716.2 28.4 716.7 30.4ZM601.9 42.6 604.6 41.8 604.7 43.4 601.9 42.6ZM621 39.4 625.3 40 623.7 40.8 621 39.4ZM132.6 58 137 57.5 138.1 58.6 133.7 59.2 132.6 58ZM130.5 67.2 134.2 66.9 132 68.4 130.5 67.2ZM101.7 89.1 109 86.7 111.3 86.1 106.5 87.9 101.7 89.1ZM79.4 92.2 82.5 91.6 80 92.8 79.4 92.2ZM86.7 90.9 89.4 90.6 87.2 91.6 86.7 90.9ZM117.3 83.7 122.4 82.5 120.4 83.7 117.3 83.7ZM872.2 114.7 875.7 111.5 873.8 113.4 872.2 114.7ZM880.2 106.9 880.3 103.2 880.5 105.7 880.2 106.9ZM881 97.3 881.1 95.5 880.5 96.4 881 97.3ZM873.7 72.1 873.9 70.4 873.9 71.6 873.7 72.1ZM210.7 490.3 213 489.2 228.5 486.1 242.5 483 259.6 480.6 275.1 480.6 290.6 482.2 306.2 483.8 314 483 312.4 480.6 304.6 478.3 303.1 476.8 313.9 476.3 315.5 479.1 321.7 479.1 337.2 479.1 352.8 479.9 360.5 478.3 355.9 472.9 360.5 468.2 366.7 463.6 369.8 460.5 372.2 457.3 372.9 452.7 379.1 451.7 376.1 455 371.4 463.6 368.3 466.7 369.8 471.3 376.1 477.5 382.3 482.2 383.8 484.5 368.3 486.9 362.1 488.4 366.7 492.3 383.8 496.2 399.3 498 407.1 501.6 414.9 498 430.4 496.9 440.8 496.2 452.5 494.6 451.7 492.7 440.8 493.4 440 491.2 453.3 487.6 468.8 484.5 475 480.6 484.3 476 487.4 472.9 503 471.6 521.6 470.5 530.9 469.5 546.4 471.3 561.9 469.5 574.4 467.4 580.6 469.8 593 466.7 608.5 462.8 617.9 459.7 624.1 462 630.3 465.1 642.7 465.9 645.8 469 639.6 472.1 636.5 475.2 641.1 476.3 650.5 472.1 661.3 468.2 673.8 464.3 686.2 462 701.7 462.8 717.2 461.2 732.7 460.5 748.3 462 763.8 462.8 779.3 461.7 787.8 459.3 788.7 462 796.2 462.5 805.5 463 804.6 464.8 810.1 466.7 817.6 467.2 821.3 469.5 826 472.8 832.5 473.2 838.1 473.7 839.9 475.6 834.4 477.4 826.9 480.2 821.3 481.6 812.9 483.5 806.4 485.8 800.8 488.1 799 490.9 799.9 492.3 791.5 493.3 782.2 495.6 777.8 496.9 776.2 500.1 780.9 503.2 790.2 503.9 794.9 502.4 798.8 501.4M213 489.5 223.9 494 242.5 494.6 250.3 497.4 236.3 498.3 248.7 500.8 259.6 503.2 273.6 504.2 259.6 505.6 236.3 503.6 217.7 503.6" fill="none" stroke="#000" stroke-width="1.05" stroke-linejoin="round"/>
<linearGradient id="cb" x1="0" x2="1" y1="0" y2="0"><stop offset="0%" stop-color="#053061"/><stop offset="3.1%" stop-color="#0e4179"/><stop offset="6.2%" stop-color="#175290"/><stop offset="9.4%" stop-color="#1f63a8"/><stop offset="12.5%" stop-color="#2a71b2"/><stop offset="15.6%" stop-color="#3480b9"/><stop offset="18.8%" stop-color="#3f8ec0"/><stop offset="21.9%" stop-color="#529dc8"/><stop offset="25%" stop-color="#6bacd1"/><stop offset="28.1%" stop-color="#84bcd9"/><stop offset="31.2%" stop-color="#9bc9e0"/><stop offset="34.4%" stop-color="#aed3e6"/><stop offset="37.5%" stop-color="#c2ddec"/><stop offset="40.6%" stop-color="#d4e6f1"/><stop offset="43.8%" stop-color="#e0ecf3"/><stop offset="46.9%" stop-color="#ecf2f5"/><stop offset="50%" stop-color="#f7f6f6"/><stop offset="53.1%" stop-color="#f9eee7"/><stop offset="56.2%" stop-color="#fbe5d8"/><stop offset="59.4%" stop-color="#fddcc9"/><stop offset="62.5%" stop-color="#fbccb4"/><stop offset="65.6%" stop-color="#f8bb9e"/><stop offset="68.8%" stop-color="#f5aa89"/><stop offset="71.9%" stop-color="#ee9677"/><stop offset="75%" stop-color="#e48066"/><stop offset="78.1%" stop-color="#db6b55"/><stop offset="81.2%" stop-color="#d05548"/><stop offset="84.4%" stop-color="#c53e3d"/><stop offset="87.5%" stop-color="#ba2832"/><stop offset="90.6%" stop-color="#ab162a"/><stop offset="93.8%" stop-color="#930e26"/><stop offset="96.9%" stop-color="#7c0722"/><stop offset="100%" stop-color="#67001f"/></linearGradient>
<filter id="b1_0" x="-60" y="-60" width="1130" height="635" filterUnits="userSpaceOnUse" color-interpolation-filters="sRGB"><feGaussianBlur stdDeviation="1.0"/></filter>
<filter id="b1_5" x="-60" y="-60" width="1130" height="635" filterUnits="userSpaceOnUse" color-interpolation-filters="sRGB"><feGaussianBlur stdDeviation="1.5"/></filter>
<filter id="b2_0" x="-60" y="-60" width="1130" height="635" filterUnits="userSpaceOnUse" color-interpolation-filters="sRGB"><feGaussianBlur stdDeviation="2.0"/></filter>
<filter id="b2_5" x="-60" y="-60" width="1130" height="635" filterUnits="userSpaceOnUse" color-interpolation-filters="sRGB"><feGaussianBlur stdDeviation="2.5"/></filter>
<filter id="b3_0" x="-60" y="-60" width="1130" height="635" filterUnits="userSpaceOnUse" color-interpolation-filters="sRGB"><feGaussianBlur stdDeviation="3.0"/></filter>
<filter id="b3_5" x="-60" y="-60" width="1130" height="635" filterUnits="userSpaceOnUse" color-interpolation-filters="sRGB"><feGaussianBlur stdDeviation="3.5"/></filter>
<filter id="b4_0" x="-60" y="-60" width="1130" height="635" filterUnits="userSpaceOnUse" color-interpolation-filters="sRGB"><feGaussianBlur stdDeviation="4.0"/></filter>
<filter id="b5_0" x="-60" y="-60" width="1130" height="635" filterUnits="userSpaceOnUse" color-interpolation-filters="sRGB"><feGaussianBlur stdDeviation="5.0"/></filter>
<filter id="b6_0" x="-60" y="-60" width="1130" height="635" filterUnits="userSpaceOnUse" color-interpolation-filters="sRGB"><feGaussianBlur stdDeviation="6.0"/></filter>
<filter id="b7_0" x="-60" y="-60" width="1130" height="635" filterUnits="userSpaceOnUse" color-interpolation-filters="sRGB"><feGaussianBlur stdDeviation="7.0"/></filter>
<filter id="b8_0" x="-60" y="-60" width="1130" height="635" filterUnits="userSpaceOnUse" color-interpolation-filters="sRGB"><feGaussianBlur stdDeviation="8.0"/></filter>
<filter id="b9_0" x="-60" y="-60" width="1130" height="635" filterUnits="userSpaceOnUse" color-interpolation-filters="sRGB"><feGaussianBlur stdDeviation="9.0"/></filter>
<filter id="b10_0" x="-60" y="-60" width="1130" height="635" filterUnits="userSpaceOnUse" color-interpolation-filters="sRGB"><feGaussianBlur stdDeviation="10.0"/></filter>
<filter id="b12_0" x="-60" y="-60" width="1130" height="635" filterUnits="userSpaceOnUse" color-interpolation-filters="sRGB"><feGaussianBlur stdDeviation="12.0"/></filter>
<filter id="b14_0" x="-60" y="-60" width="1130" height="635" filterUnits="userSpaceOnUse" color-interpolation-filters="sRGB"><feGaussianBlur stdDeviation="14.0"/></filter>
<linearGradient id="z1" gradientUnits="userSpaceOnUse" x1="0" y1="0" x2="0" y2="510.8"><stop offset="0.0000" stop-color="#800000"/><stop offset="0.0581" stop-color="#800000"/><stop offset="0.0782" stop-color="#780000"/><stop offset="0.0994" stop-color="#6e0000"/><stop offset="0.1214" stop-color="#630000"/><stop offset="0.1557" stop-color="#5c0000"/><stop offset="0.2214" stop-color="#590000"/><stop offset="0.3016" stop-color="#5b0000"/><stop offset="0.3388" stop-color="#600000"/><stop offset="0.3760" stop-color="#690000"/><stop offset="0.4070" stop-color="#700000"/><stop offset="0.4318" stop-color="#740000"/><stop offset="0.4473" stop-color="#710000"/><stop offset="0.4566" stop-color="#6c0000"/><stop offset="0.4690" stop-color="#730000"/><stop offset="0.4814" stop-color="#790000"/><stop offset="0.4938" stop-color="#800000"/><stop offset="0.5124" stop-color="#880000"/><stop offset="0.5372" stop-color="#900000"/><stop offset="0.5868" stop-color="#990000"/><stop offset="0.6364" stop-color="#a20000"/><stop offset="0.6736" stop-color="#aa0000"/><stop offset="0.7170" stop-color="#b40000"/><stop offset="0.7602" stop-color="#c10000"/><stop offset="0.8028" stop-color="#d00000"/><stop offset="0.8326" stop-color="#db0000"/><stop offset="0.8559" stop-color="#e60000"/><stop offset="0.8730" stop-color="#ee0000"/><stop offset="0.8897" stop-color="#f60000"/><stop offset="0.9006" stop-color="#fa0000"/><stop offset="1.0000" stop-color="#fa0000"/></linearGradient>
<filter id="cm0" x="-10" y="-10" width="1030" height="535" filterUnits="userSpaceOnUse" color-interpolation-filters="sRGB"><feTurbulence type="fractalNoise" baseFrequency="0.11" numOctaves="3" seed="3" result="t"/><feColorMatrix in="t" type="matrix" values="1 0 0 0 0 1 0 0 0 0 1 0 0 0 0 0 0 0 0 1" result="tn"/><feTurbulence type="fractalNoise" baseFrequency="0.006 0.035" numOctaves="3" seed="103" result="u"/><feColorMatrix in="u" type="matrix" values="1 0 0 0 0 1 0 0 0 0 1 0 0 0 0 0 0 0 0 1" result="un"/><feColorMatrix in="SourceGraphic" type="matrix" values="0 1 0 0 0 0 1 0 0 0 0 1 0 0 0 0 0 0 0 1" result="m"/><feColorMatrix in="SourceGraphic" type="matrix" values="0 0 1 0 0 0 0 1 0 0 0 0 1 0 0 0 0 0 0 1" result="mb"/><feColorMatrix in="SourceGraphic" type="matrix" values="1 0 0 0 0 1 0 0 0 0 1 0 0 0 0 0 0 0 0 1" result="s"/><feComposite in="tn" in2="m" operator="arithmetic" k1="4.0" k2="0" k3="-2.0" k4="0.5" result="nz"/><feComposite in="un" in2="mb" operator="arithmetic" k1="1.0" k2="0" k3="-0.5" k4="0.5" result="nz2"/><feComposite in="s" in2="nz" operator="arithmetic" k1="0" k2="1" k3="1" k4="-0.5" result="v1"/><feComposite in="v1" in2="nz2" operator="arithmetic" k1="0" k2="1" k3="1" k4="-0.51" result="v"/><feComponentTransfer in="v"><feFuncR type="table" tableValues="0.020 0.037 0.054 0.071 0.089 0.106 0.123 0.142 0.163 0.184 0.205 0.226 0.247 0.275 0.323 0.372 0.421 0.469 0.518 0.566 0.606 0.645 0.684 0.723 0.761 0.800 0.831 0.855 0.878 0.901 0.925 0.948 0.969 0.973 0.976 0.980 0.984 0.988 0.991 0.988 0.982 0.977 0.971 0.966 0.960 0.950 0.931 0.913 0.895 0.876 0.858 0.839 0.817 0.795 0.773 0.751 0.728 0.706 0.669 0.623 0.577 0.531 0.485 0.439 0.404"/><feFuncG type="table" tableValues="0.188 0.221 0.255 0.288 0.321 0.354 0.388 0.417 0.445 0.473 0.500 0.528 0.556 0.584 0.615 0.646 0.676 0.707 0.738 0.769 0.790 0.809 0.829 0.849 0.869 0.888 0.904 0.915 0.926 0.937 0.948 0.959 0.966 0.949 0.932 0.915 0.898 0.880 0.863 0.834 0.801 0.767 0.734 0.701 0.668 0.631 0.589 0.546 0.504 0.461 0.419 0.376 0.332 0.288 0.244 0.199 0.155 0.111 0.085 0.070 0.055 0.041 0.026 0.011 0.000"/><feFuncB type="table" tableValues="0.380 0.427 0.473 0.519 0.565 0.611 0.657 0.683 0.698 0.712 0.726 0.740 0.754 0.769 0.785 0.802 0.819 0.835 0.852 0.869 0.880 0.891 0.902 0.913 0.925 0.936 0.943 0.948 0.952 0.956 0.961 0.965 0.965 0.935 0.906 0.876 0.847 0.817 0.788 0.749 0.706 0.664 0.621 0.579 0.536 0.498 0.465 0.432 0.400 0.367 0.335 0.302 0.281 0.260 0.239 0.218 0.197 0.176 0.164 0.157 0.149 0.142 0.134 0.127 0.122"/></feComponentTransfer></filter>
<filter id="cm1" x="-10" y="-10" width="1030" height="535" filterUnits="userSpaceOnUse" color-interpolation-filters="sRGB"><feTurbulence type="fractalNoise" baseFrequency="0.11" numOctaves="3" seed="11" result="t"/><feColorMatrix in="t" type="matrix" values="1 0 0 0 0 1 0 0 0 0 1 0 0 0 0 0 0 0 0 1" result="tn"/><feTurbulence type="fractalNoise" baseFrequency="0.006 0.035" numOctaves="3" seed="111" result="u"/><feColorMatrix in="u" type="matrix" values="1 0 0 0 0 1 0 0 0 0 1 0 0 0 0 0 0 0 0 1" result="un"/><feColorMatrix in="SourceGraphic" type="matrix" values="0 1 0 0 0 0 1 0 0 0 0 1 0 0 0 0 0 0 0 1" result="m"/><feColorMatrix in="SourceGraphic" type="matrix" values="0 0 1 0 0 0 0 1 0 0 0 0 1 0 0 0 0 0 0 1" result="mb"/><feColorMatrix in="SourceGraphic" type="matrix" values="1 0 0 0 0 1 0 0 0 0 1 0 0 0 0 0 0 0 0 1" result="s"/><feComposite in="tn" in2="m" operator="arithmetic" k1="4.0" k2="0" k3="-2.0" k4="0.5" result="nz"/><feComposite in="un" in2="mb" operator="arithmetic" k1="1.0" k2="0" k3="-0.5" k4="0.5" result="nz2"/><feComposite in="s" in2="nz" operator="arithmetic" k1="0" k2="1" k3="1" k4="-0.5" result="v1"/><feComposite in="v1" in2="nz2" operator="arithmetic" k1="0" k2="1" k3="1" k4="-0.51" result="v"/><feComponentTransfer in="v"><feFuncR type="table" tableValues="0.020 0.037 0.054 0.071 0.089 0.106 0.123 0.142 0.163 0.184 0.205 0.226 0.247 0.275 0.323 0.372 0.421 0.469 0.518 0.566 0.606 0.645 0.684 0.723 0.761 0.800 0.831 0.855 0.878 0.901 0.925 0.948 0.969 0.973 0.976 0.980 0.984 0.988 0.991 0.988 0.982 0.977 0.971 0.966 0.960 0.950 0.931 0.913 0.895 0.876 0.858 0.839 0.817 0.795 0.773 0.751 0.728 0.706 0.669 0.623 0.577 0.531 0.485 0.439 0.404"/><feFuncG type="table" tableValues="0.188 0.221 0.255 0.288 0.321 0.354 0.388 0.417 0.445 0.473 0.500 0.528 0.556 0.584 0.615 0.646 0.676 0.707 0.738 0.769 0.790 0.809 0.829 0.849 0.869 0.888 0.904 0.915 0.926 0.937 0.948 0.959 0.966 0.949 0.932 0.915 0.898 0.880 0.863 0.834 0.801 0.767 0.734 0.701 0.668 0.631 0.589 0.546 0.504 0.461 0.419 0.376 0.332 0.288 0.244 0.199 0.155 0.111 0.085 0.070 0.055 0.041 0.026 0.011 0.000"/><feFuncB type="table" tableValues="0.380 0.427 0.473 0.519 0.565 0.611 0.657 0.683 0.698 0.712 0.726 0.740 0.754 0.769 0.785 0.802 0.819 0.835 0.852 0.869 0.880 0.891 0.902 0.913 0.925 0.936 0.943 0.948 0.952 0.956 0.961 0.965 0.965 0.935 0.906 0.876 0.847 0.817 0.788 0.749 0.706 0.664 0.621 0.579 0.536 0.498 0.465 0.432 0.400 0.367 0.335 0.302 0.281 0.260 0.239 0.218 0.197 0.176 0.164 0.157 0.149 0.142 0.134 0.127 0.122"/></feComponentTransfer></filter>
<filter id="cm2" x="-10" y="-10" width="1030" height="535" filterUnits="userSpaceOnUse" color-interpolation-filters="sRGB"><feTurbulence type="fractalNoise" baseFrequency="0.11" numOctaves="3" seed="23" result="t"/><feColorMatrix in="t" type="matrix" values="1 0 0 0 0 1 0 0 0 0 1 0 0 0 0 0 0 0 0 1" result="tn"/><feTurbulence type="fractalNoise" baseFrequency="0.006 0.035" numOctaves="3" seed="123" result="u"/><feColorMatrix in="u" type="matrix" values="1 0 0 0 0 1 0 0 0 0 1 0 0 0 0 0 0 0 0 1" result="un"/><feColorMatrix in="SourceGraphic" type="matrix" values="0 1 0 0 0 0 1 0 0 0 0 1 0 0 0 0 0 0 0 1" result="m"/><feColorMatrix in="SourceGraphic" type="matrix" values="0 0 1 0 0 0 0 1 0 0 0 0 1 0 0 0 0 0 0 1" result="mb"/><feColorMatrix in="SourceGraphic" type="matrix" values="1 0 0 0 0 1 0 0 0 0 1 0 0 0 0 0 0 0 0 1" result="s"/><feComposite in="tn" in2="m" operator="arithmetic" k1="4.0" k2="0" k3="-2.0" k4="0.5" result="nz"/><feComposite in="un" in2="mb" operator="arithmetic" k1="1.0" k2="0" k3="-0.5" k4="0.5" result="nz2"/><feComposite in="s" in2="nz" operator="arithmetic" k1="0" k2="1" k3="1" k4="-0.5" result="v1"/><feComposite in="v1" in2="nz2" operator="arithmetic" k1="0" k2="1" k3="1" k4="-0.51" result="v"/><feComponentTransfer in="v"><feFuncR type="table" tableValues="0.020 0.037 0.054 0.071 0.089 0.106 0.123 0.142 0.163 0.184 0.205 0.226 0.247 0.275 0.323 0.372 0.421 0.469 0.518 0.566 0.606 0.645 0.684 0.723 0.761 0.800 0.831 0.855 0.878 0.901 0.925 0.948 0.969 0.973 0.976 0.980 0.984 0.988 0.991 0.988 0.982 0.977 0.971 0.966 0.960 0.950 0.931 0.913 0.895 0.876 0.858 0.839 0.817 0.795 0.773 0.751 0.728 0.706 0.669 0.623 0.577 0.531 0.485 0.439 0.404"/><feFuncG type="table" tableValues="0.188 0.221 0.255 0.288 0.321 0.354 0.388 0.417 0.445 0.473 0.500 0.528 0.556 0.584 0.615 0.646 0.676 0.707 0.738 0.769 0.790 0.809 0.829 0.849 0.869 0.888 0.904 0.915 0.926 0.937 0.948 0.959 0.966 0.949 0.932 0.915 0.898 0.880 0.863 0.834 0.801 0.767 0.734 0.701 0.668 0.631 0.589 0.546 0.504 0.461 0.419 0.376 0.332 0.288 0.244 0.199 0.155 0.111 0.085 0.070 0.055 0.041 0.026 0.011 0.000"/><feFuncB type="table" tableValues="0.380 0.427 0.473 0.519 0.565 0.611 0.657 0.683 0.698 0.712 0.726 0.740 0.754 0.769 0.785 0.802 0.819 0.835 0.852 0.869 0.880 0.891 0.902 0.913 0.925 0.936 0.943 0.948 0.952 0.956 0.961 0.965 0.965 0.935 0.906 0.876 0.847 0.817 0.788 0.749 0.706 0.664 0.621 0.579 0.536 0.498 0.465 0.432 0.400 0.367 0.335 0.302 0.281 0.260 0.239 0.218 0.197 0.176 0.164 0.157 0.149 0.142 0.134 0.127 0.122"/></feComponentTransfer></filter>
<filter id="cm3" x="-10" y="-10" width="1030" height="535" filterUnits="userSpaceOnUse" color-interpolation-filters="sRGB"><feTurbulence type="fractalNoise" baseFrequency="0.11" numOctaves="3" seed="42" result="t"/><feColorMatrix in="t" type="matrix" values="1 0 0 0 0 1 0 0 0 0 1 0 0 0 0 0 0 0 0 1" result="tn"/><feTurbulence type="fractalNoise" baseFrequency="0.006 0.035" numOctaves="3" seed="142" result="u"/><feColorMatrix in="u" type="matrix" values="1 0 0 0 0 1 0 0 0 0 1 0 0 0 0 0 0 0 0 1" result="un"/><feColorMatrix in="SourceGraphic" type="matrix" values="0 1 0 0 0 0 1 0 0 0 0 1 0 0 0 0 0 0 0 1" result="m"/><feColorMatrix in="SourceGraphic" type="matrix" values="0 0 1 0 0 0 0 1 0 0 0 0 1 0 0 0 0 0 0 1" result="mb"/><feColorMatrix in="SourceGraphic" type="matrix" values="1 0 0 0 0 1 0 0 0 0 1 0 0 0 0 0 0 0 0 1" result="s"/><feComposite in="tn" in2="m" operator="arithmetic" k1="4.0" k2="0" k3="-2.0" k4="0.5" result="nz"/><feComposite in="un" in2="mb" operator="arithmetic" k1="1.0" k2="0" k3="-0.5" k4="0.5" result="nz2"/><feComposite in="s" in2="nz" operator="arithmetic" k1="0" k2="1" k3="1" k4="-0.5" result="v1"/><feComposite in="v1" in2="nz2" operator="arithmetic" k1="0" k2="1" k3="1" k4="-0.51" result="v"/><feComponentTransfer in="v"><feFuncR type="table" tableValues="0.020 0.037 0.054 0.071 0.089 0.106 0.123 0.142 0.163 0.184 0.205 0.226 0.247 0.275 0.323 0.372 0.421 0.469 0.518 0.566 0.606 0.645 0.684 0.723 0.761 0.800 0.831 0.855 0.878 0.901 0.925 0.948 0.969 0.973 0.976 0.980 0.984 0.988 0.991 0.988 0.982 0.977 0.971 0.966 0.960 0.950 0.931 0.913 0.895 0.876 0.858 0.839 0.817 0.795 0.773 0.751 0.728 0.706 0.669 0.623 0.577 0.531 0.485 0.439 0.404"/><feFuncG type="table" tableValues="0.188 0.221 0.255 0.288 0.321 0.354 0.388 0.417 0.445 0.473 0.500 0.528 0.556 0.584 0.615 0.646 0.676 0.707 0.738 0.769 0.790 0.809 0.829 0.849 0.869 0.888 0.904 0.915 0.926 0.937 0.948 0.959 0.966 0.949 0.932 0.915 0.898 0.880 0.863 0.834 0.801 0.767 0.734 0.701 0.668 0.631 0.589 0.546 0.504 0.461 0.419 0.376 0.332 0.288 0.244 0.199 0.155 0.111 0.085 0.070 0.055 0.041 0.026 0.011 0.000"/><feFuncB type="table" tableValues="0.380 0.427 0.473 0.519 0.565 0.611 0.657 0.683 0.698 0.712 0.726 0.740 0.754 0.769 0.785 0.802 0.819 0.835 0.852 0.869 0.880 0.891 0.902 0.913 0.925 0.936 0.943 0.948 0.952 0.956 0.961 0.965 0.965 0.935 0.906 0.876 0.847 0.817 0.788 0.749 0.706 0.664 0.621 0.579 0.536 0.498 0.465 0.432 0.400 0.367 0.335 0.302 0.281 0.260 0.239 0.218 0.197 0.176 0.164 0.157 0.149 0.142 0.134 0.127 0.122"/></feComponentTransfer></filter>
</defs>
<rect width="3121" height="1470" fill="#fff"/>
<text class="s" x="1561.5" y="37.3">Surface Net Shortwave Radiation (Clear-Sky) DJF Trend</text>
<g transform="translate(14.85,132.65)">
<g clip-path="url(#rob)" filter="url(#cm0)">
<rect x="-5" y="-5" width="1020" height="525" fill="url(#z1)"/>
<g filter="url(#b8_0)"><ellipse cx="260.2" cy="64.9" rx="70.8" ry="23" fill="#730000"/></g>
<g filter="url(#b4_0)"><ellipse cx="181.5" cy="56.4" rx="30.1" ry="11.2" fill="#750000"/></g>
<g filter="url(#b8_0)"><ellipse cx="329.9" cy="79.5" rx="23.2" ry="17.8" fill="#730000"/><ellipse cx="421.3" cy="34.7" rx="29.4" ry="22.9" fill="#800000"/><ellipse cx="709.8" cy="59.2" rx="119.4" ry="19.8" fill="#770000"/></g>
<g filter="url(#b6_0)"><ellipse cx="637.8" cy="67.8" rx="44.7" ry="14.5" fill="#730000"/></g>
<g filter="url(#b12_0)"><ellipse cx="403.4" cy="113.1" rx="45.1" ry="24.8" fill="#580000"/><ellipse cx="95.4" cy="122.5" rx="76.5" ry="28.1" fill="#580000"/><ellipse cx="942.1" cy="128.8" rx="64.5" ry="25.1" fill="#580000"/><ellipse cx="531.1" cy="185.7" rx="71.2" ry="25.3" fill="#700000"/></g>
<g filter="url(#b8_0)"><ellipse cx="626.7" cy="182.5" rx="21.9" ry="19" fill="#730000"/><ellipse cx="565" cy="230" rx="44.6" ry="19" fill="#750000"/><path d="M531.6 249 615.6 249 614.6 299.7 599.5 325 584.3 350.4 556.8 359.9 546.9 344 539.6 306 531.6 268Z" fill="#810000"/></g>
<g filter="url(#b6_0)"><ellipse cx="573.3" cy="287" rx="16.7" ry="15.8" fill="#8a0000"/></g>
<g filter="url(#b8_0)"><path d="M285.8 236.4 336.1 236.4 363.8 255.4 397.5 274.4 393.4 312.4 373 334.5 356.9 356.7 342.2 375.7 328.3 382 313.1 334.5 304.5 306 280.1 271.2Z" fill="#810000"/></g>
<g filter="url(#b6_0)"><ellipse cx="338.2" cy="356.7" rx="13.3" ry="22.2" fill="#950000"/></g>
<g filter="url(#b3_0)"><ellipse cx="334.2" cy="400.8" rx="7.5" ry="18.6" fill="#b80000"/></g>
<g filter="url(#b8_0)"><path d="M818.6 325 864.3 299.7 898 296.5 912.9 331.4 897.7 369.4 869.2 363 846.4 353.5 812.1 359.9Z" fill="#930000"/></g>
<g filter="url(#b6_0)"><ellipse cx="866.5" cy="318.7" rx="22" ry="12.7" fill="#850000"/><ellipse cx="825.4" cy="261.7" rx="50.3" ry="15.8" fill="#780000"/><ellipse cx="712.7" cy="226.9" rx="61.3" ry="14.2" fill="#540000"/><ellipse cx="754.4" cy="223.7" rx="27.9" ry="15.8" fill="#500000"/><ellipse cx="670.5" cy="217.4" rx="27.8" ry="12.7" fill="#570000"/><ellipse cx="906.4" cy="214.2" rx="83.3" ry="15.8" fill="#550000"/><ellipse cx="847.2" cy="192" rx="27.5" ry="15.8" fill="#570000"/></g>
<g filter="url(#b2_0)"><ellipse cx="191" cy="234.8" rx="78.2" ry="5.1" fill="#5d0000"/></g>
<g filter="url(#b3_0)"><ellipse cx="112.9" cy="233.2" rx="69.8" ry="6.3" fill="#630000"/></g>
<g filter="url(#b12_0)"><ellipse cx="695.4" cy="325" rx="68.5" ry="25.3" fill="#950000"/></g>
<g filter="url(#b6_0)"><ellipse cx="131.4" cy="312.4" rx="68.9" ry="15.8" fill="#930000" transform="rotate(18 131.4 312.4)"/><ellipse cx="58.9" cy="293.4" rx="38.9" ry="12.7" fill="#930000"/></g>
<g filter="url(#b4_0)"><ellipse cx="845.1" cy="437.1" rx="68.3" ry="11.7" fill="#ed0000"/><ellipse cx="643.9" cy="428.2" rx="70.1" ry="12" fill="#de0000"/></g>
<g filter="url(#b3_0)"><ellipse cx="284.5" cy="448.7" rx="109.6" ry="7.1" fill="#f20000"/></g>
<g filter="url(#b5_0)"><ellipse cx="315.1" cy="69.2" rx="13.5" ry="11.6" fill="#860000"/></g>
<g filter="url(#b2_0)"><ellipse cx="335.4" cy="50.8" rx="10.5" ry="5.5" fill="#850000"/></g>
<g filter="url(#b10_0)"><ellipse cx="247.1" cy="125.6" rx="51.3" ry="25.1" fill="#6c0000"/></g>
<g filter="url(#b6_0)"><ellipse cx="236.9" cy="154" rx="26.7" ry="15.8" fill="#730000"/></g>
<g filter="url(#b12_0)"><ellipse cx="718.1" cy="116.2" rx="121.1" ry="34.2" fill="#700000"/></g>
<g filter="url(#b8_0)"><ellipse cx="649.9" cy="150.9" rx="37.2" ry="19" fill="#700000"/><ellipse cx="785.7" cy="160.4" rx="37.6" ry="19" fill="#6b0000"/></g>
<g filter="url(#b12_0)"><ellipse cx="165.9" cy="344" rx="94.6" ry="31.7" fill="#9f0000"/></g>
<g filter="url(#b8_0)"><ellipse cx="169.2" cy="403.9" rx="111.5" ry="21.6" fill="#c10000"/></g>
<g filter="url(#b4_0)"><ellipse cx="190.9" cy="431.2" rx="104.3" ry="11.9" fill="#d90000"/></g>
<g filter="url(#b8_0)"><ellipse cx="245.8" cy="382" rx="64.5" ry="18.9" fill="#b20000"/></g>
<g filter="url(#b6_0)"><ellipse cx="540.1" cy="97.7" rx="38.9" ry="15.3" fill="#540000"/></g>
<g filter="url(#b4_0)"><ellipse cx="561.8" cy="96.1" rx="21.8" ry="9.2" fill="#3d0000"/></g>
<g filter="url(#b2_0)"><ellipse cx="571.7" cy="97.7" rx="12.1" ry="5.5" fill="#240000"/></g>
<g filter="url(#b4_0)"><ellipse cx="592" cy="116.2" rx="15.1" ry="9.4" fill="#540000"/><ellipse cx="572" cy="73.6" rx="22.8" ry="11.7" fill="#6e0000"/></g>
<g filter="url(#b5_0)"><path d="M591.1 90 614.8 85 644.5 87 674.2 94.9 698.9 98.9 703.8 112.7 694 122.6 664.3 120.7 634.6 116.7 614.8 112.7 595 104.8Z" fill="#990000"/></g>
<g filter="url(#b3_0)"><path d="M622.7 96.9 629.7 90.5 640.5 93 654.4 98.9 674.2 102.8 687 106.8 689 116.7 679.1 118.9 664.3 114.9 654.4 112.9 644.5 109 632.6 107 624.7 104Z" fill="#cc0000"/></g>
<g filter="url(#b2_5)"><path d="M660.3 105.8 669.2 103.8 679.1 105.8 687 107.8 688.2 113.7 679.1 114.9 669.2 112.9 661.3 111Z" fill="#ff0000" stroke="#ff0000" stroke-width="2.6" stroke-linejoin="round"/></g>
<g filter="url(#b1_0)"><ellipse cx="630.6" cy="108.8" rx="3.5" ry="2.2" fill="#ff0000"/></g>
<g filter="url(#b3_0)"><path d="M581.2 121.6 595 116.7 604.9 113.7 614.8 118.7 622.7 120.7 624.9 128.6 619.8 132.7 609.9 136.7 600 134.7 591.1 138.7 581.2 139.4Z" fill="#d10000"/></g>
<g filter="url(#b1_0)"><ellipse cx="591.1" cy="124.6" rx="4" ry="2" fill="#fa0000"/><ellipse cx="601" cy="129.6" rx="3" ry="2.5" fill="#fa0000"/><ellipse cx="609.9" cy="121.6" rx="3" ry="1.8" fill="#f20000"/><ellipse cx="617.8" cy="126.6" rx="2" ry="3" fill="#e60000"/><ellipse cx="589.1" cy="135.5" rx="4" ry="1.8" fill="#e60000"/></g>
<g filter="url(#b2_0)"><path d="M621.7 129.6 626.9 130.5 632.8 138.5 638.8 146.4 644.7 156.3 648.7 161.4 640.5 158.4 632.6 152.5 626.7 146.6 623.5 138.5Z" fill="#ff0000" stroke="#ff0000" stroke-width="2.6" stroke-linejoin="round"/></g>
<g filter="url(#b3_0)"><path d="M644.5 132.5 654.4 132.5 664.3 138.7 684.1 134.5 689 139.4 698.9 142.6 713.7 146.6 728.6 144.6 743.4 151.5 758.2 144.4 763.4 146.6 753.3 156.3 768.1 156.3 779 157.3 781.2 166.2 773.1 171.3 763.2 164.4 753.3 166.4 743.4 168.3 728.6 164.4 713.7 156.5 698.9 152.5 684.1 156.5 672.2 152.5 660.3 146.6 649.4 141.6Z" fill="#bd0000"/></g>
<g filter="url(#b1_0)"><ellipse cx="685.1" cy="136" rx="2.8" ry="4" fill="#ff0000"/><ellipse cx="672.7" cy="150.3" rx="4.5" ry="2.5" fill="#fa0000"/></g>
<g filter="url(#b2_0)"><ellipse cx="748.4" cy="157.3" rx="4.9" ry="8.4" fill="#ff0000"/></g>
<g filter="url(#b2_5)"><ellipse cx="773.1" cy="163.2" rx="6.9" ry="6.4" fill="#ff0000"/></g>
<g filter="url(#b1_0)"><ellipse cx="757.3" cy="145.6" rx="4.5" ry="2.5" fill="#fa0000"/><ellipse cx="696.9" cy="145.6" rx="4" ry="2.8" fill="#f20000"/><ellipse cx="651.4" cy="136.5" rx="3" ry="2.5" fill="#f20000"/><ellipse cx="682.1" cy="149.3" rx="4" ry="2.5" fill="#e60000"/></g>
<g filter="url(#b2_0)"><ellipse cx="712.7" cy="109.8" rx="5.4" ry="5.4" fill="#d90000"/></g>
<g filter="url(#b1_0)"><ellipse cx="723.6" cy="106.8" rx="5.4" ry="2.5" fill="#b80000"/><ellipse cx="713.7" cy="132.5" rx="7.9" ry="2.5" fill="#9e0000"/><ellipse cx="728.6" cy="126.6" rx="5.9" ry="2.5" fill="#990000"/><ellipse cx="654.4" cy="160.2" rx="4" ry="2.5" fill="#cc0000"/><ellipse cx="664.3" cy="151.3" rx="5.9" ry="3" fill="#a60000"/></g>
<g filter="url(#b3_0)"><path d="M790.9 112.7 802.8 110.8 808.7 126.6 805.7 146.4 808.7 156.3 797.8 161.4 792.9 151.5 794.8 136.5 788.9 126.6Z" fill="#e00000"/><path d="M773.1 108.8 802.8 109.8 803.7 114.2 775.1 112.7Z" fill="#b80000"/></g>
<g filter="url(#b1_5)"><ellipse cx="795.8" cy="150.3" rx="4.5" ry="4" fill="#ff0000"/></g>
<g filter="url(#b2_0)"><ellipse cx="798.8" cy="120.7" rx="4.9" ry="5.9" fill="#fa0000"/></g>
<g filter="url(#b1_0)"><ellipse cx="733.5" cy="105.8" rx="4" ry="2.4" fill="#140000"/><ellipse cx="753.3" cy="101.1" rx="7.1" ry="2.8" fill="#1f0000" transform="rotate(25 753.3 101.1)"/></g>
<g filter="url(#b1_5)"><ellipse cx="786.9" cy="103" rx="11.1" ry="4" fill="#210000" transform="rotate(15 786.9 103)"/></g>
<g filter="url(#b1_0)"><ellipse cx="694" cy="116.7" rx="4.2" ry="2" fill="#470000"/><ellipse cx="708.8" cy="122.8" rx="3" ry="1.5" fill="#330000"/><ellipse cx="694.9" cy="130.7" rx="3" ry="2.5" fill="#470000"/><ellipse cx="739.5" cy="138.7" rx="5.1" ry="2" fill="#470000"/><ellipse cx="786.9" cy="171.3" rx="3" ry="4.2" fill="#380000"/><ellipse cx="628.7" cy="111.4" rx="2" ry="1.5" fill="#400000"/><ellipse cx="718.7" cy="98.9" rx="5.9" ry="2.5" fill="#660000"/></g>
<g filter="url(#b2_0)"><ellipse cx="768.1" cy="132.5" rx="11.9" ry="5.9" fill="#6b0000"/></g>
<g filter="url(#b1_0)"><ellipse cx="723.6" cy="146.4" rx="4" ry="2" fill="#4c0000"/></g>
<g filter="url(#b3_0)"><path d="M820.9 81.2 823.2 70.8 839.4 68.5 849.8 63.9 860.2 60.4 865 63.9 862.5 74.3 856.7 76.8 854.4 83.5 861.3 92.8 866.2 102 864.8 106.8 859 105.7 852.1 97.6 845.2 89.5 838.2 84.9 829 86.1Z" fill="#ab0000"/></g>
<g filter="url(#b2_0)"><ellipse cx="854.4" cy="91.6" rx="4.6" ry="10.4" fill="#bd0000" transform="rotate(-35 854.4 91.6)"/></g>
<g filter="url(#b1_0)"><ellipse cx="872.9" cy="70.2" rx="3.5" ry="2.9" fill="#9e0000"/></g>
<g filter="url(#b4_0)"><ellipse cx="824.4" cy="118.1" rx="11.5" ry="8.1" fill="#ad0000"/></g>
<g filter="url(#b1_0)"><ellipse cx="832.7" cy="124.1" rx="2.8" ry="3.5" fill="#f20000"/></g>
<g filter="url(#b3_0)"><ellipse cx="796.7" cy="120.5" rx="7.2" ry="10.6" fill="#db0000"/></g>
<g filter="url(#b2_0)"><ellipse cx="796.7" cy="150.7" rx="4.8" ry="7.2" fill="#f50000"/></g>
<g filter="url(#b1_5)"><ellipse cx="799" cy="112.4" rx="3.5" ry="3.5" fill="#ff0000"/><ellipse cx="789.8" cy="103.4" rx="7.2" ry="3.5" fill="#1a0000"/></g>
<g filter="url(#b1_0)"><ellipse cx="835" cy="112.6" rx="2.3" ry="1.7" fill="#330000"/><ellipse cx="866.8" cy="141.9" rx="1.4" ry="1.7" fill="#eb0000"/></g>
<g filter="url(#b1_5)"><ellipse cx="839.4" cy="138.9" rx="3.5" ry="4.6" fill="#8c0000"/></g>
<g filter="url(#b3_0)"><path d="M290.9 70.8 303.6 62.7 318.6 54.7 331.3 60.4 326.7 75.4 317.5 83.5 316.6 91.6 311.7 93 310.6 85.8 303.6 79.1 292.1 73.4Z" fill="#850000"/></g>
<g filter="url(#b2_0)"><ellipse cx="322.1" cy="75.7" rx="4.6" ry="4.6" fill="#910000"/></g>
<g filter="url(#b2_5)"><path d="M187.1 125.1 195.2 115.8 203.2 106.6 211.3 102 215 106.6 209 115.8 213.6 120.7 203.2 125.3 195.2 128.8Z" fill="#cc0000" stroke="#cc0000" stroke-width="2.6" stroke-linejoin="round"/></g>
<g filter="url(#b1_0)"><ellipse cx="193.4" cy="123.9" rx="3" ry="2.2" fill="#ff0000"/></g>
<g filter="url(#b1_5)"><ellipse cx="202.3" cy="117" rx="5.8" ry="3.5" fill="#c70000"/></g>
<g filter="url(#b2_0)"><ellipse cx="205.5" cy="129.7" rx="6" ry="4.8" fill="#050000"/><ellipse cx="230" cy="123" rx="6" ry="4.2" fill="#0a0000"/></g>
<g filter="url(#b1_5)"><ellipse cx="231.2" cy="133.4" rx="4.2" ry="3.5" fill="#240000"/></g>
<g filter="url(#b1_0)"><ellipse cx="222.9" cy="110.3" rx="2.9" ry="2.9" fill="#330000"/></g>
<g filter="url(#b1_5)"><ellipse cx="230" cy="95.3" rx="4.8" ry="3.5" fill="#400000"/></g>
<g filter="url(#b2_0)"><ellipse cx="253.1" cy="103.4" rx="5.3" ry="4.2" fill="#2e0000"/></g>
<g filter="url(#b1_5)"><ellipse cx="260" cy="111.4" rx="4.8" ry="3.5" fill="#4c0000"/></g>
<g filter="url(#b2_0)"><ellipse cx="284.2" cy="127.6" rx="10.6" ry="5.8" fill="#330000"/></g>
<g filter="url(#b1_5)"><ellipse cx="269.2" cy="126.4" rx="6" ry="3.5" fill="#540000"/><ellipse cx="217.3" cy="146.1" rx="7.2" ry="3.5" fill="#540000"/></g>
<g filter="url(#b1_0)"><ellipse cx="243.9" cy="113.7" rx="7.2" ry="2.9" fill="#a80000" transform="rotate(-25 243.9 113.7)"/><ellipse cx="240.4" cy="134.5" rx="6" ry="2.9" fill="#b00000" transform="rotate(-40 240.4 134.5)"/><ellipse cx="286.6" cy="104.5" rx="7.2" ry="2.9" fill="#b00000"/><ellipse cx="295.8" cy="112.6" rx="7.2" ry="2.3" fill="#a80000"/><ellipse cx="263.5" cy="98.7" rx="4.2" ry="2.3" fill="#a10000"/><ellipse cx="253.1" cy="93" rx="4.2" ry="2.3" fill="#9c0000"/><ellipse cx="211.5" cy="151.8" rx="4.6" ry="1.7" fill="#990000"/><ellipse cx="236.9" cy="89.5" rx="2.9" ry="1.7" fill="#960000"/><ellipse cx="192.8" cy="77.7" rx="2.3" ry="2.3" fill="#940000"/></g>
<g filter="url(#b3_0)"><path d="M361.3 75.4 366 66.2 372.9 58.1 384.4 46.6 391.3 39.7 395 42 384.4 55.8 375.2 69.7 372.9 76.8 376.3 82.4 370.6 86.1 364.8 81.2Z" fill="#ad0000"/></g>
<g filter="url(#b2_5)"><path d="M368.3 91.6 371.7 85.8 376.3 82.4 381.2 89.3 383.5 99.7 387 106.8 378.7 106.8 374 102.2 369.4 98.7Z" fill="#ed0000" stroke="#ed0000" stroke-width="2.6" stroke-linejoin="round"/></g>
<g filter="url(#b1_5)"><path d="M327.9 107.2 336 102 344 97.4 354.4 96.8 363.6 93.9 369.7 91.6 366 97.4 359 103.4 355.6 109.1 348.6 111.4 343.5 109.1 342.9 104.5 336 105.7Z" fill="#ff0000" stroke="#ff0000" stroke-width="2.6" stroke-linejoin="round"/></g>
<g filter="url(#b1_0)"><ellipse cx="310.3" cy="309.2" rx="1.9" ry="3.8" fill="#4c0000"/><ellipse cx="313.7" cy="315.5" rx="1.7" ry="2.5" fill="#400000"/><ellipse cx="318.1" cy="331.4" rx="2.5" ry="4.4" fill="#f20000"/><ellipse cx="317.6" cy="353.5" rx="1.9" ry="6.3" fill="#d90000"/><ellipse cx="317.7" cy="366.2" rx="1.6" ry="4.7" fill="#c70000"/><ellipse cx="317.9" cy="377.3" rx="2.1" ry="6.3" fill="#260000"/><ellipse cx="324.6" cy="408.5" rx="2.9" ry="9.2" fill="#330000"/><ellipse cx="328.9" cy="416.2" rx="2.4" ry="4.6" fill="#730000"/></g>
<g filter="url(#b3_0)"><path d="M121.5 457.8 266.8 466.9 278.9 474 226.4 487.1 206.3 490.1 180 491.1 151.8 477Z" fill="#780000"/></g>
<g filter="url(#b2_0)"><ellipse cx="180" cy="483" rx="14.1" ry="5" fill="#450000"/></g>
<g filter="url(#b1_0)"><ellipse cx="161.9" cy="475" rx="8.1" ry="2.8" fill="#330000"/></g>
<g filter="url(#b1_5)"><path d="M123.5 458.8 145.7 455 169.9 456 182 461.4 177 467.1 161.9 468.7 151.8 471.1 141.7 468.3Z" fill="#000000" stroke="#000000" stroke-width="2.6" stroke-linejoin="round"/><path d="M188.1 453.4 202.2 448.5 222.4 452.6 238.6 458 264.8 466.3 246.6 467.9 226.4 464.1 206.3 463.1 193.3 459.8Z" fill="#000000" stroke="#000000" stroke-width="2.6" stroke-linejoin="round"/><path d="M184.1 468.3 198.2 465.9 214.3 468.3 234.5 467.9 246.6 472.3 266.8 469.9 275.9 472.3 266.8 477.2 246.6 478.4 238.6 482.4 226.4 486.5 211.3 488.5 206.3 480.4 190.1 474.4Z" fill="#ff0000" stroke="#ff0000" stroke-width="2.6" stroke-linejoin="round"/><path d="M274.9 473.2 297.1 467.1 327.4 464.7 347.6 466.3 348.6 470.9 323.3 473.2 299.1 476.2 282.2 478Z" fill="#000000" stroke="#000000" stroke-width="2.6" stroke-linejoin="round"/><path d="M311.2 474 327.4 473 351.6 471.9 366.7 475 363.7 479.4 347.6 480.4 327.4 478.4 311.2 477.4Z" fill="#ff0000" stroke="#ff0000" stroke-width="2.6" stroke-linejoin="round"/><path d="M252.7 479 266.8 477.2 287 478 307.2 481.2 313.2 484.5 287 483.5 266.8 482.4Z" fill="#ff0000" stroke="#ff0000" stroke-width="2.6" stroke-linejoin="round"/><path d="M210.3 488.1 224.4 486.5 230.5 489.1 216.4 491.7Z" fill="#fa0000" stroke="#fa0000" stroke-width="2.6" stroke-linejoin="round"/><path d="M352.6 466.3 367.7 457.8 376.2 450.1 378.9 455.8 366.1 466.3 357.7 470.3Z" fill="#f70000" stroke="#f70000" stroke-width="2.6" stroke-linejoin="round"/></g>
<g filter="url(#b4_0)"><path d="M513.1 443.7 533.3 438.6 557.5 433.2 573.6 438 585.8 443.1 610 451.2 610 458.8 577.7 453.4 555.5 447.3 529.2 444.5Z" fill="#9e0000"/></g>
<g filter="url(#b1_5)"><path d="M375 454.2 383.9 446.9 400 443.9 428.3 445.9 444.5 440.5 458.6 446.9 488.9 444.9 529.2 443.9 555.5 446.9 577.7 453 610 458 610 464.7 569.6 469.1 545.4 471.1 519.1 475.2 488.9 477.2 468.7 479.2 448.5 477.2 436.4 483.2 418.2 489.3 399.2 484.9 387.1 474.4 381.1 464.3Z" fill="#000000" stroke="#000000" stroke-width="2.6" stroke-linejoin="round"/></g>
<g filter="url(#b4_0)"><ellipse cx="406.1" cy="471.9" rx="22.2" ry="11.1" fill="#4c0000"/></g>
<g filter="url(#b3_0)"><ellipse cx="428.3" cy="464.9" rx="14.1" ry="6.1" fill="#5c0000"/></g>
<g filter="url(#b2_0)"><ellipse cx="400" cy="463.9" rx="8.1" ry="5" fill="#660000"/></g>
<g filter="url(#b1_5)"><ellipse cx="435.4" cy="461.9" rx="7.7" ry="3.2" fill="#8f0000"/></g>
<g filter="url(#b1_0)"><ellipse cx="436.8" cy="461.4" rx="3.2" ry="1.4" fill="#d90000"/></g>
<g filter="url(#b1_5)"><ellipse cx="509" cy="455" rx="12.1" ry="3.6" fill="#540000"/></g>
<g filter="url(#b1_0)"><ellipse cx="545.4" cy="457.8" rx="8.1" ry="2.8" fill="#4c0000"/><ellipse cx="480.8" cy="450.7" rx="8.1" ry="2.4" fill="#400000"/></g>
<g filter="url(#b2_0)"><path d="M412.2 439.6 432.3 432.6 448.5 435.6 468.7 437.6 493.9 435.6 490.9 439.6 468.7 441.3 444.5 439.6 428.3 442.9Z" fill="#ff0000" stroke="#ff0000" stroke-width="2.6" stroke-linejoin="round"/></g>
<g filter="url(#b1_0)"><ellipse cx="450.5" cy="485.3" rx="7.1" ry="2.2" fill="#f20000"/><ellipse cx="437.4" cy="488.1" rx="6.1" ry="1.6" fill="#e60000"/></g>
<g filter="url(#b4_0)"><path d="M545.1 432.6 557.3 431.2 565.3 438.6 585.5 448.1 597.6 455.8 575.4 458.2 565.3 450.7 545.1 445.7Z" fill="#a30000"/></g>
<g filter="url(#b1_5)"><path d="M545.1 446.7 557.3 446.7 569.4 450.7 575.4 455.8 565.3 462.3 555.2 467.9 545.1 468.9Z" fill="#050000" stroke="#050000" stroke-width="2.6" stroke-linejoin="round"/><ellipse cx="551.2" cy="454.8" rx="6.1" ry="3.6" fill="#4c0000"/></g>
<g filter="url(#b1_0)"><ellipse cx="581.9" cy="461.9" rx="3.2" ry="1.6" fill="#e60000"/></g>
<g filter="url(#b1_5)"><path d="M592.8 461 611.8 456 625.9 454 650.1 455 666.3 454 686.4 449.9 706.6 448.9 726.8 451 736.1 453.4 733.7 458.6 716.7 457.8 698.6 459 686.4 463.1 670.3 462.1 654.2 465.1 647.7 472.3 640 476 635.2 472.3 641.6 466.3 629.9 464.7 619.8 460.6 605.7 463.1Z" fill="#000000" stroke="#000000" stroke-width="2.6" stroke-linejoin="round"/><path d="M666.3 463.1 676.4 459.4 680.8 461.9 670.3 465.1Z" fill="#ff0000" stroke="#ff0000" stroke-width="2.6" stroke-linejoin="round"/><path d="M690.5 460.2 706.6 457.4 717.1 458.2 706.6 462.1 692.5 462.5Z" fill="#ff0000" stroke="#ff0000" stroke-width="2.6" stroke-linejoin="round"/><path d="M722.8 459.4 739.3 458.8 739.3 461.4 724.8 462.1Z" fill="#ff0000" stroke="#ff0000" stroke-width="2.6" stroke-linejoin="round"/><path d="M650.1 467.9 662.2 463.9 664.2 466.3 652.1 469.9Z" fill="#f20000" stroke="#f20000" stroke-width="2.6" stroke-linejoin="round"/><path d="M743 456.4 759.1 454.2 767.2 456.2 783.3 457.2 788.2 460.2 767.2 462.5 747 461Z" fill="#050000" stroke="#050000" stroke-width="2.6" stroke-linejoin="round"/><path d="M747 460.2 759.1 459.4 759.1 461.9 749 462.5Z" fill="#f20000" stroke="#f20000" stroke-width="2.6" stroke-linejoin="round"/><path d="M788.6 455.4 804.3 455 808.6 461 801.5 463.5 789 462.5Z" fill="#000000" stroke="#000000" stroke-width="2.6" stroke-linejoin="round"/></g>
<g filter="url(#b3_0)"><path d="M807.6 457.8 827.7 455.8 837.8 467.9 831.8 469.9 813.6 465.9Z" fill="#8c0000"/></g>
<g filter="url(#b1_0)"><ellipse cx="810" cy="462.9" rx="2.8" ry="1.8" fill="#eb0000"/></g>
<g filter="url(#b1_5)"><path d="M826.9 458.2 841.9 452.2 860 449.7 873.2 453 887.5 456.8 879 464.7 860 473.2 847.9 478 841.5 476.8 837 467.9 831 463.9Z" fill="#000000" stroke="#000000" stroke-width="2.6" stroke-linejoin="round"/></g>
<g filter="url(#b1_0)"><ellipse cx="826.1" cy="487.3" rx="6.1" ry="1.8" fill="#f70000"/><ellipse cx="812.6" cy="485.1" rx="6.5" ry="1.6" fill="#800000"/><ellipse cx="843.9" cy="480" rx="6.1" ry="1.6" fill="#800000"/></g>
<g filter="url(#b1_5)"><path d="M235.6 510.8 180.1 490.8 210.7 490.3 213 489.2 228.5 486.1 242.5 483 259.6 480.6 275.1 480.6 290.6 482.2 306.2 483.8 314 483 312.4 480.6 304.6 478.3 303.1 476.8 313.9 476.3 315.5 479.1 321.7 479.1 337.2 479.1 352.8 479.9 360.5 478.3 355.9 472.9 360.5 468.2 366.7 463.6 369.8 460.5 372.2 457.3 372.9 452.7 379.1 451.7 376.1 455 371.4 463.6 368.3 466.7 369.8 471.3 376.1 477.5 382.3 482.2 383.8 484.5 368.3 486.9 362.1 488.4 366.7 492.3 383.8 496.2 399.3 498 407.1 501.6 414.9 498 430.4 496.9 440.8 496.2 452.5 494.6 451.7 492.7 440.8 493.4 440 491.2 453.3 487.6 468.8 484.5 475 480.6 484.3 476 487.4 472.9 503 471.6 521.6 470.5 530.9 469.5 546.4 471.3 561.9 469.5 574.4 467.4 580.6 469.8 593 466.7 608.5 462.8 617.9 459.7 624.1 462 630.3 465.1 642.7 465.9 645.8 469 639.6 472.1 636.5 475.2 641.1 476.3 650.5 472.1 661.3 468.2 673.8 464.3 686.2 462 701.7 462.8 717.2 461.2 732.7 460.5 748.3 462 763.8 462.8 779.3 461.7 787.8 459.3 788.7 462 796.2 462.5 805.5 463 804.6 464.8 810.1 466.7 817.6 467.2 821.3 469.5 826 472.8 832.5 473.2 838.1 473.7 839.9 475.6 834.4 477.4 826.9 480.2 821.3 481.6 812.9 483.5 806.4 485.8 800.8 488.1 799 490.9 799.9 492.3 825.1 491.7 771.7 510.8Z" fill="#9d0000" stroke="#9d0000" stroke-width="2.6" stroke-linejoin="round"/></g>
<g filter="url(#b2_0)"><ellipse cx="373.5" cy="468.1" rx="4.5" ry="12" fill="#a10000"/></g>
<g filter="url(#b1_5)"><path d="M366.1 488.6 386.9 490.2 412.3 490.2 437.6 487.9 470 478.2 453.8 496.7 407.6 502.5 377.6 496.7Z" fill="#9d0000" stroke="#9d0000" stroke-width="2.6" stroke-linejoin="round"/></g>
<g style="mix-blend-mode:lighten"><rect x="-5" y="-5" width="1020" height="525" fill="#000200"/></g>
<g filter="url(#b4_0)" style="mix-blend-mode:lighten"><path d="M570.3 87 614.8 82.1 674.2 90 733.5 87 792.9 94.9 822.5 106.8 822.5 166.2 792.9 176 733.5 174.1 674.2 162.2 634.6 164.2 614.8 142.4 570.3 146.4Z" fill="#002100"/></g>
<g filter="url(#b5_0)" style="mix-blend-mode:lighten"><path d="M506 87 570.3 87 570.3 136.5 506 132.5Z" fill="#000d00"/></g>
<g filter="url(#b6_0)" style="mix-blend-mode:lighten"><path d="M562.5 34.7 624.3 40 697.4 32.2 778.4 34.7 853.5 45.3 830.8 82.5 741.2 88.5 645 85.5 573.2 79.5Z" fill="#000600"/><path d="M164.2 45.3 222.2 40 297.9 45.3 328.3 62 360.1 91.6 309.4 97.7 200.1 97.7 168.5 67.8Z" fill="#000600"/></g>
<g filter="url(#b4_0)" style="mix-blend-mode:lighten"><path d="M182.5 89.3 222.9 81.2 269 85.8 315.2 97.4 326.7 111.2 309.4 135.4 280.6 152.8 222.9 158.5 194 147 180.2 127.4Z" fill="#001700"/><path d="M182.5 95.1 217.1 85.8 251.7 89.3 257.5 118.1 245.9 147 211.3 152.8 188.2 138.9Z" fill="#002600"/></g>
<g filter="url(#b1_5)" style="mix-blend-mode:lighten"><path d="M308.4 302.9 316.7 302.9 320.8 340.9 322.4 369.4 327.9 400.8 335.2 425.2 328.2 425.2 318.3 394.5 314.3 363 311.7 334.5Z" fill="#003300" stroke="#003300" stroke-width="2.6" stroke-linejoin="round"/></g>
<g filter="url(#b3_0)" style="mix-blend-mode:lighten"><path d="M113.1 451.6 134.8 451.6 156.5 451.6 178.2 451.6 199.9 451.6 221.6 451.6 243.3 451.6 265 451.6 286.7 451.6 308.4 451.6 330.1 451.6 351.8 451.6 373.5 451.6 395.2 451.6 416.9 451.6 438.6 451.6 460.3 451.6 482 451.6 503.7 451.6 525.4 451.6 547.1 451.6 568.8 451.6 590.5 451.6 612.2 451.6 633.9 451.6 655.6 451.6 677.3 451.6 699 451.6 720.7 451.6 742.4 451.6 764.1 451.6 785.8 451.6 807.5 451.6 829.2 451.6 850.9 451.6 872.6 451.6 894.3 451.6 825.1 491.7 799.9 492.3 799 490.9 800.8 488.1 806.4 485.8 812.9 483.5 821.3 481.6 826.9 480.2 834.4 477.4 839.9 475.6 838.1 473.7 832.5 473.2 826 472.8 821.3 469.5 817.6 467.2 810.1 466.7 804.6 464.8 805.5 463 796.2 462.5 788.7 462 787.8 459.3 779.3 461.7 763.8 462.8 748.3 462 732.7 460.5 717.2 461.2 701.7 462.8 686.2 462 673.8 464.3 661.3 468.2 650.5 472.1 641.1 476.3 636.5 475.2 639.6 472.1 645.8 469 642.7 465.9 630.3 465.1 624.1 462 617.9 459.7 608.5 462.8 593 466.7 580.6 469.8 574.4 467.4 561.9 469.5 546.4 471.3 530.9 469.5 521.6 470.5 503 471.6 487.4 472.9 484.3 476 475 480.6 468.8 484.5 453.3 487.6 440 491.2 440.8 493.4 451.7 492.7 452.5 494.6 440.8 496.2 430.4 496.9 414.9 498 407.1 501.6 399.3 498 383.8 496.2 366.7 492.3 362.1 488.4 368.3 486.9 383.8 484.5 382.3 482.2 376.1 477.5 369.8 471.3 368.3 466.7 371.4 463.6 376.1 455 379.1 451.7 372.9 452.7 372.2 457.3 369.8 460.5 366.7 463.6 360.5 468.2 355.9 472.9 360.5 478.3 352.8 479.9 337.2 479.1 321.7 479.1 315.5 479.1 313.9 476.3 303.1 476.8 304.6 478.3 312.4 480.6 314 483 306.2 483.8 290.6 482.2 275.1 480.6 259.6 480.6 242.5 483 228.5 486.1 213 489.2 210.7 490.3 180.1 490.8Z" fill="#001200"/></g>
<g filter="url(#b12_0)" style="mix-blend-mode:lighten"><rect x="-40" y="67.8" width="1087.3" height="381" fill="#000014"/></g>
</g>
<use href="#coast"/><use href="#bound"/>
<text class="t" x="503.7" y="-12">ERA5 Trend</text>
<rect x="95.7" y="543.2" width="816" height="40.1" fill="url(#cb)" stroke="#000" stroke-width="1.67"/>
<path d="M131.3 583.3 v7.3" stroke="#000" stroke-width="1.67"/><text class="k" x="131.3" y="614.1">−8</text>
<path d="M224.4 583.3 v7.3" stroke="#000" stroke-width="1.67"/><text class="k" x="224.4" y="614.1">−6</text>
<path d="M317.5 583.3 v7.3" stroke="#000" stroke-width="1.67"/><text class="k" x="317.5" y="614.1">−4</text>
<path d="M410.6 583.3 v7.3" stroke="#000" stroke-width="1.67"/><text class="k" x="410.6" y="614.1">−2</text>
<path d="M503.7 583.3 v7.3" stroke="#000" stroke-width="1.67"/><text class="k" x="503.7" y="614.1">0</text>
<path d="M596.8 583.3 v7.3" stroke="#000" stroke-width="1.67"/><text class="k" x="596.8" y="614.1">2</text>
<path d="M689.9 583.3 v7.3" stroke="#000" stroke-width="1.67"/><text class="k" x="689.9" y="614.1">4</text>
<path d="M783 583.3 v7.3" stroke="#000" stroke-width="1.67"/><text class="k" x="783" y="614.1">6</text>
<path d="M876.1 583.3 v7.3" stroke="#000" stroke-width="1.67"/><text class="k" x="876.1" y="614.1">8</text>
<text class="k" x="503.7" y="643">W/m2/decade</text>
</g>
<g transform="translate(1057.8,132.65)">
<g clip-path="url(#rob)" filter="url(#cm1)">
<rect x="-5" y="-5" width="1020" height="525" fill="#800000"/>
<g filter="url(#b8_0)"><ellipse cx="284.5" cy="62" rx="76.7" ry="22.8" fill="#7a0000"/><ellipse cx="711.9" cy="62" rx="109.6" ry="19.9" fill="#7a0000"/></g>
<g filter="url(#b14_0)"><ellipse cx="160.1" cy="192" rx="68.7" ry="31.7" fill="#770000"/></g>
<g filter="url(#b3_0)"><ellipse cx="112.7" cy="236.4" rx="125.7" ry="7.9" fill="#8b0000"/></g>
<g filter="url(#b6_0)"><ellipse cx="85.2" cy="280.7" rx="111.6" ry="12.7" fill="#790000"/><ellipse cx="204.2" cy="334.5" rx="136.1" ry="15.8" fill="#780000" transform="rotate(15 204.2 334.5)"/></g>
<g filter="url(#b8_0)"><ellipse cx="127.5" cy="397.6" rx="87.8" ry="18.7" fill="#780000" transform="rotate(15 127.5 397.6)"/></g>
<g filter="url(#b4_0)"><ellipse cx="131.5" cy="359.9" rx="79.8" ry="9.5" fill="#870000" transform="rotate(15 131.5 359.9)"/><ellipse cx="447.8" cy="239.5" rx="78.2" ry="9.5" fill="#910000"/></g>
<g filter="url(#b14_0)"><ellipse cx="424.5" cy="366.2" rx="79.1" ry="31.6" fill="#7a0000"/></g>
<g filter="url(#b12_0)"><ellipse cx="670.8" cy="287" rx="83.6" ry="25.3" fill="#7a0000"/></g>
<g filter="url(#b6_0)"><ellipse cx="705.1" cy="350.4" rx="67.2" ry="15.8" fill="#880000" transform="rotate(-10 705.1 350.4)"/></g>
<g filter="url(#b12_0)"><ellipse cx="754.4" cy="397.6" rx="100.3" ry="24.8" fill="#7a0000"/></g>
<g filter="url(#b8_0)"><ellipse cx="871.2" cy="334.5" rx="32.7" ry="22.2" fill="#770000"/></g>
<g filter="url(#b14_0)"><ellipse cx="939.3" cy="176.2" rx="81.7" ry="31.7" fill="#870000"/></g>
<g filter="url(#b10_0)"><ellipse cx="862.2" cy="198.4" rx="49.6" ry="25.3" fill="#8e0000"/></g>
<g filter="url(#b14_0)"><ellipse cx="396.2" cy="160.4" rx="67.2" ry="31.6" fill="#7c0000"/></g>
<g filter="url(#b8_0)"><ellipse cx="456.9" cy="82.5" rx="32.7" ry="17.9" fill="#850000"/></g>
<g filter="url(#b4_0)"><ellipse cx="503.7" cy="443" rx="134.1" ry="8.7" fill="#7a0000"/></g>
<g filter="url(#b3_0)"><ellipse cx="306.4" cy="344" rx="6.8" ry="15.8" fill="#940000"/></g>
<g filter="url(#b1_0)"><ellipse cx="312" cy="325" rx="2.2" ry="3.8" fill="#e60000"/><ellipse cx="318.9" cy="359.9" rx="1.9" ry="4.7" fill="#e60000"/><ellipse cx="327.6" cy="413.1" rx="2.4" ry="6.1" fill="#cc0000"/><ellipse cx="308.9" cy="309.2" rx="1.7" ry="2.5" fill="#d90000"/></g>
<g filter="url(#b4_0)"><path d="M220.7 92.6 240.5 90.7 260.2 96.6 280 106.5 309.7 112.4 324.5 120.3 305.7 138.1 280 148.4 250.4 150.4 224.6 150.4 208.8 154.4 196.9 138.5 198.9 122.7 210.8 110.8Z" fill="#990000"/></g>
<g filter="url(#b3_0)"><path d="M184.1 122.3 193 106.5 208.8 91.6 219.1 94.6 216.7 110.4 208.8 120.7 200.9 130.6 189 130.6Z" fill="#610000"/><ellipse cx="111.9" cy="63.9" rx="12" ry="7.5" fill="#990000"/></g>
<g filter="url(#b1_5)"><ellipse cx="129.7" cy="72.5" rx="9.3" ry="3.7" fill="#6e0000"/></g>
<g filter="url(#b5_0)"><ellipse cx="200.9" cy="110.4" rx="12" ry="24" fill="#6b0000" transform="rotate(25 200.9 110.4)"/></g>
<g filter="url(#b1_5)"><ellipse cx="204.9" cy="114.4" rx="3.7" ry="3.2" fill="#140000"/></g>
<g filter="url(#b1_0)"><ellipse cx="193" cy="124.3" rx="3.7" ry="2.9" fill="#140000"/><ellipse cx="211.2" cy="96.6" rx="4.3" ry="2.7" fill="#4c0000"/><ellipse cx="213.2" cy="118.7" rx="2.7" ry="2.1" fill="#260000"/><ellipse cx="200.9" cy="120.3" rx="4.8" ry="2.7" fill="#400000"/><ellipse cx="218.7" cy="106.5" rx="3.7" ry="2.7" fill="#4c0000"/></g>
<g filter="url(#b10_0)"><ellipse cx="232.5" cy="130.2" rx="48.1" ry="29.4" fill="#950000"/></g>
<g filter="url(#b2_5)"><ellipse cx="207.2" cy="130.2" rx="7.5" ry="6.4" fill="#ff0000"/><ellipse cx="230.2" cy="121.9" rx="6.4" ry="8" fill="#ff0000"/></g>
<g filter="url(#b3_0)"><ellipse cx="218.7" cy="142.5" rx="11.2" ry="6.4" fill="#e60000"/></g>
<g filter="url(#b2_0)"><ellipse cx="229" cy="135.2" rx="4.3" ry="5.9" fill="#eb0000"/><ellipse cx="216.7" cy="126.3" rx="5.3" ry="4" fill="#d90000"/><ellipse cx="200.9" cy="135.2" rx="6.7" ry="4" fill="#bf0000"/><ellipse cx="231" cy="99" rx="5.3" ry="11.2" fill="#b20000" transform="rotate(15 231 99)"/><ellipse cx="256.7" cy="104.9" rx="13.9" ry="4.8" fill="#b20000" transform="rotate(32 256.7 104.9)"/></g>
<g filter="url(#b3_0)"><ellipse cx="280" cy="122.7" rx="40.1" ry="6.4" fill="#ad0000" transform="rotate(-8 280 122.7)"/></g>
<g filter="url(#b2_0)"><ellipse cx="286" cy="128.6" rx="16" ry="5.3" fill="#cc0000" transform="rotate(-10 286 128.6)"/><ellipse cx="260.2" cy="142.5" rx="34.7" ry="4.8" fill="#a10000" transform="rotate(-8 260.2 142.5)"/></g>
<g filter="url(#b1_5)"><ellipse cx="242.8" cy="124.7" rx="10.7" ry="3.7" fill="#bd0000"/></g>
<g filter="url(#b2_0)"><ellipse cx="303.8" cy="120.3" rx="13.4" ry="5.3" fill="#a80000"/></g>
<g filter="url(#b1_5)"><ellipse cx="244.8" cy="112.8" rx="8" ry="3.2" fill="#330000"/></g>
<g filter="url(#b4_0)"><ellipse cx="208.8" cy="155.9" rx="16" ry="8" fill="#8c0000"/></g>
<g filter="url(#b1_5)"><path d="M327.5 106.9 341.3 98.6 351.2 96.6 359.5 100.5 355.2 106.9 347.3 110.8 342.9 106.9 335.4 105.7Z" fill="#0d0000" stroke="#0d0000" stroke-width="2.6" stroke-linejoin="round"/></g>
<g filter="url(#b3_0)"><path d="M384.9 45.5 390 46.7 373 66.9 379.3 84.7 385.3 102.5 378.9 103.7 368.6 84.7 363.9 69.9Z" fill="#450000"/></g>
<g filter="url(#b2_0)"><ellipse cx="376" cy="90.7" rx="4.8" ry="10.7" fill="#210000" transform="rotate(-12 376 90.7)"/></g>
<g filter="url(#b1_0)"><ellipse cx="373" cy="108.9" rx="18.2" ry="2.9" fill="#b80000" transform="rotate(-8 373 108.9)"/></g>
<g filter="url(#b2_0)"><ellipse cx="387.8" cy="69.9" rx="14.7" ry="5.3" fill="#8f0000"/><ellipse cx="280" cy="76.8" rx="16" ry="5.3" fill="#750000"/></g>
<g filter="url(#b5_0)"><path d="M579.6 126.4 609 122.2 621.5 86.5 650.9 86.5 671.8 97 724.3 97 755.7 92.8 808.1 101.2 831.2 112.1 833.3 135.2 808.1 168.7 776.7 177.1 734.7 172.9 671.8 164.5 650.9 168.7 629.9 160.3 617.3 143.6 588 143.6Z" fill="#6f0000"/></g>
<g filter="url(#b4_0)"><path d="M684.4 168.3 751.5 176.7 741 195.5 720.1 227 703.3 201.8Z" fill="#6e0000"/><ellipse cx="514.6" cy="88.6" rx="24.1" ry="11.3" fill="#8f0000"/></g>
<g filter="url(#b3_0)"><ellipse cx="550.3" cy="66" rx="6.8" ry="11.9" fill="#940000" transform="rotate(20 550.3 66)"/></g>
<g filter="url(#b6_0)"><ellipse cx="569.1" cy="90.7" rx="26.9" ry="12.7" fill="#a80000" transform="rotate(20 569.1 90.7)"/></g>
<g filter="url(#b2_0)"><ellipse cx="571.2" cy="93.2" rx="11.9" ry="5.7" fill="#c70000" transform="rotate(20 571.2 93.2)"/></g>
<g filter="url(#b3_0)"><ellipse cx="609" cy="105.4" rx="34" ry="6.2" fill="#9e0000"/></g>
<g filter="url(#b1_0)"><ellipse cx="594.7" cy="109.6" rx="6.2" ry="2.5" fill="#f20000" transform="rotate(-15 594.7 109.6)"/></g>
<g filter="url(#b1_5)"><ellipse cx="627.8" cy="112.1" rx="4.8" ry="4" fill="#e60000"/></g>
<g filter="url(#b4_0)"><ellipse cx="546.1" cy="110.6" rx="34" ry="10.8" fill="#700000"/></g>
<g filter="url(#b3_0)"><ellipse cx="598.5" cy="131.6" rx="21.2" ry="6.8" fill="#380000"/></g>
<g filter="url(#b1_0)"><ellipse cx="592.2" cy="135.2" rx="5.7" ry="2.8" fill="#0d0000"/></g>
<g filter="url(#b2_0)"><ellipse cx="610" cy="135.2" rx="11.3" ry="5.1" fill="#240000"/></g>
<g filter="url(#b2_5)"><path d="M620.5 130.6 629.9 134.3 640.8 151.5 651.3 162 645 164.5 632 154 623.2 141.5Z" fill="#050000" stroke="#050000" stroke-width="2.6" stroke-linejoin="round"/></g>
<g filter="url(#b2_0)"><ellipse cx="650.9" cy="159.9" rx="14.2" ry="5.7" fill="#400000" transform="rotate(35 650.9 159.9)"/></g>
<g filter="url(#b4_0)"><ellipse cx="629.9" cy="93.2" rx="15.6" ry="9.1" fill="#4c0000"/></g>
<g filter="url(#b3_0)"><ellipse cx="668.7" cy="105.8" rx="24.1" ry="6.8" fill="#400000"/></g>
<g filter="url(#b1_5)"><ellipse cx="650.9" cy="115.9" rx="8.5" ry="3.4" fill="#4c0000"/></g>
<g filter="url(#b4_0)"><ellipse cx="692.8" cy="110" rx="26.9" ry="11.3" fill="#990000"/></g>
<g filter="url(#b1_5)"><ellipse cx="694.9" cy="115.9" rx="6.2" ry="4" fill="#eb0000"/></g>
<g filter="url(#b1_0)"><ellipse cx="704.3" cy="115.9" rx="11.3" ry="2" fill="#c70000"/></g>
<g filter="url(#b6_0)"><ellipse cx="697" cy="136.8" rx="34" ry="17" fill="#990000"/></g>
<g filter="url(#b4_0)"><ellipse cx="766.2" cy="101.6" rx="45.3" ry="11.3" fill="#690000"/><ellipse cx="789.2" cy="115.9" rx="17.5" ry="8.5" fill="#400000"/></g>
<g filter="url(#b3_0)"><ellipse cx="798" cy="118.4" rx="6.8" ry="11.3" fill="#0f0000"/></g>
<g filter="url(#b1_0)"><ellipse cx="732.6" cy="105.4" rx="2.5" ry="2" fill="#d90000"/><ellipse cx="755.7" cy="102.5" rx="2.5" ry="1.7" fill="#cc0000"/><ellipse cx="791.8" cy="104.6" rx="7.4" ry="2.3" fill="#b80000"/></g>
<g filter="url(#b3_0)"><ellipse cx="734.7" cy="118" rx="22.6" ry="7.1" fill="#610000"/><ellipse cx="747.3" cy="155.7" rx="11.3" ry="12.5" fill="#000000"/></g>
<g filter="url(#b1_5)"><ellipse cx="751.9" cy="166.6" rx="9.1" ry="4" fill="#050000"/><ellipse cx="730.5" cy="162.4" rx="17.5" ry="4" fill="#1a0000" transform="rotate(10 730.5 162.4)"/><ellipse cx="682.3" cy="151.9" rx="14.7" ry="4" fill="#1a0000" transform="rotate(15 682.3 151.9)"/></g>
<g filter="url(#b2_5)"><ellipse cx="772.9" cy="164.5" rx="5.7" ry="9.6" fill="#050000"/></g>
<g filter="url(#b1_5)"><ellipse cx="796" cy="151.9" rx="5.7" ry="4" fill="#1a0000"/></g>
<g filter="url(#b2_0)"><ellipse cx="798" cy="160.3" rx="4.2" ry="4.2" fill="#260000"/></g>
<g filter="url(#b1_0)"><ellipse cx="699.5" cy="143.6" rx="8.5" ry="2.8" fill="#330000"/></g>
<g filter="url(#b3_0)"><ellipse cx="785.1" cy="162" rx="11.3" ry="7.1" fill="#4c0000"/></g>
<g filter="url(#b4_0)"><ellipse cx="663.5" cy="162" rx="8.5" ry="11.3" fill="#590000" transform="rotate(-20 663.5 162)"/></g>
<g filter="url(#b2_0)"><ellipse cx="766.6" cy="151.5" rx="11.3" ry="4.8" fill="#fa0000"/></g>
<g filter="url(#b1_0)"><ellipse cx="732.6" cy="134.8" rx="2.8" ry="1.7" fill="#e60000"/></g>
<g filter="url(#b2_0)"><ellipse cx="759.9" cy="136.8" rx="19.8" ry="5.7" fill="#990000"/></g>
<g filter="url(#b8_0)"><ellipse cx="715.9" cy="185.1" rx="34" ry="25.5" fill="#6e0000"/></g>
<g filter="url(#b4_0)"><ellipse cx="726.4" cy="177.1" rx="22.6" ry="10.8" fill="#610000"/></g>
<g filter="url(#b8_0)"><ellipse cx="789.2" cy="201.8" rx="26" ry="22.6" fill="#9e0000"/></g>
<g filter="url(#b4_0)"><ellipse cx="797.6" cy="210.6" rx="11.3" ry="9.6" fill="#b20000"/></g>
<g filter="url(#b12_0)"><ellipse cx="860.5" cy="185.1" rx="84.9" ry="25.5" fill="#8e0000"/></g>
<g filter="url(#b5_0)"><ellipse cx="818.6" cy="115.9" rx="11.9" ry="14.7" fill="#6b0000"/></g>
<g filter="url(#b3_0)"><ellipse cx="867.2" cy="137.3" rx="6.2" ry="11.9" fill="#400000" transform="rotate(32 867.2 137.3)"/></g>
<g filter="url(#b2_0)"><ellipse cx="837.9" cy="139.4" rx="5.1" ry="8.5" fill="#5c0000"/></g>
<g filter="url(#b6_0)"><ellipse cx="878.3" cy="101.2" rx="17.5" ry="26.9" fill="#a80000" transform="rotate(-25 878.3 101.2)"/></g>
<g filter="url(#b3_0)"><ellipse cx="871.4" cy="93.2" rx="6.8" ry="20.4" fill="#ed0000" transform="rotate(-25 871.4 93.2)"/></g>
<g filter="url(#b1_5)"><ellipse cx="850.5" cy="101.6" rx="3.7" ry="14.7" fill="#4c0000" transform="rotate(-28 850.5 101.6)"/></g>
<g filter="url(#b3_0)"><ellipse cx="835.8" cy="76.5" rx="14.2" ry="6.8" fill="#6b0000"/><ellipse cx="552.3" cy="219" rx="59.4" ry="7.9" fill="#750000"/></g>
<g filter="url(#b8_0)"><ellipse cx="562.8" cy="246.3" rx="29.7" ry="16.4" fill="#a80000"/></g>
<g filter="url(#b4_0)"><ellipse cx="560.7" cy="248" rx="14.2" ry="8.5" fill="#b50000"/></g>
<g filter="url(#b6_0)"><ellipse cx="483.2" cy="248" rx="56.6" ry="12.7" fill="#940000"/></g>
<g filter="url(#b4_0)"><ellipse cx="598.5" cy="227" rx="11.3" ry="8.5" fill="#910000"/><ellipse cx="579.6" cy="289.9" rx="17" ry="9.9" fill="#700000"/><path d="M118.5 455.8 175.1 452.8 203.3 445.7 243.7 454.8 243.7 465.9 175.1 476 148.8 476Z" fill="#9e0000"/></g>
<g filter="url(#b2_0)"><path d="M122.6 457.8 148.8 454.8 173 455.8 187.2 450.7 199.3 448.7 219.5 452.8 235.6 456.8 240.1 460.8 231.6 465.1 211.4 466.1 195.2 464.1 177.1 465.1 171 470.1 162.9 474.2 148.8 472.1 138.7 468.1Z" fill="#ff0000" stroke="#ff0000" stroke-width="2.6" stroke-linejoin="round"/></g>
<g filter="url(#b4_0)"><path d="M239.6 459.4 284.1 458.2 324.4 455.4 364.8 448.3 369.8 452.8 344.6 462.3 304.2 466.3 274 466.3Z" fill="#6b0000"/></g>
<g filter="url(#b3_0)"><path d="M158.9 476 177.1 471.9 203.3 490.1 187.2 491.7 169 485.1Z" fill="#400000"/></g>
<g filter="url(#b2_0)"><path d="M177.1 471.9 187.2 467.9 207.4 467.9 227.5 467.9 243.7 465.9 263.9 465.9 276 469.9 284.1 476 300.2 479 310.7 483.2 296.2 482.2 276 479.2 259.8 480.2 243.7 483.2 231.6 487.3 223.5 489.3 211.4 487.3 203.3 490.3 187.2 490.3 177.1 484.3 171 478.2Z" fill="#000000" stroke="#000000" stroke-width="2.6" stroke-linejoin="round"/><path d="M290.1 471.9 300.2 466.9 324.4 464.9 344.6 463.9 354.7 457.8 364.8 452.8 369.2 455.8 364.8 465.9 358.7 474.2 344.6 476.2 324.4 475.2 304.2 477.2 294.1 478.2Z" fill="#ff0000" stroke="#ff0000" stroke-width="2.6" stroke-linejoin="round"/></g>
<g filter="url(#b4_0)"><path d="M372.9 449.7 389 443.7 413.2 440.7 441.5 432.6 465.7 434.6 487.9 437.6 498 436.6 487.9 444.1 474.8 448.1 470.8 459.8 472.8 467.9 466.7 474.4 454.6 482.4 442.5 488.7 425.4 490.7 413.2 488.5 397.1 476.4 385 466.3 378.9 458.2Z" fill="#4c0000"/></g>
<g filter="url(#b2_0)"><path d="M374.9 450.7 389 444.9 413.2 441.9 441.5 433.8 465.7 435.8 485.9 438.8 496 437.8 485.9 443.9 473.8 447.9 469.8 459.8 471.8 467.9 465.7 474.2 453.6 482.2 441.5 488.3 425.4 490.3 413.2 488.3 397.1 476.2 385 466.1 378.9 458Z" fill="#000000" stroke="#000000" stroke-width="2.6" stroke-linejoin="round"/></g>
<g filter="url(#b1_5)"><ellipse cx="393.1" cy="450.7" rx="6.9" ry="3.8" fill="#800000"/></g>
<g filter="url(#b1_0)"><ellipse cx="425.4" cy="456.8" rx="9.1" ry="1.8" fill="#4c0000" transform="rotate(-10 425.4 456.8)"/><ellipse cx="445.5" cy="444.7" rx="4" ry="2" fill="#4c0000"/></g>
<g filter="url(#b1_5)"><ellipse cx="391" cy="475" rx="10.5" ry="3.4" fill="#a80000" transform="rotate(32 391 475)"/></g>
<g filter="url(#b1_0)"><ellipse cx="405.2" cy="483.7" rx="10.1" ry="2.8" fill="#4c0000" transform="rotate(15 405.2 483.7)"/></g>
<g filter="url(#b3_0)"><path d="M485.9 437.6 536.4 436 542.8 446.1 496 444.9Z" fill="#2e0000"/></g>
<g filter="url(#b2_5)"><path d="M536.4 440.7 556.6 433.2 576.7 437.6 581.2 443.7 562.6 448.9 542.4 446.9Z" fill="#050000" stroke="#050000" stroke-width="2.6" stroke-linejoin="round"/></g>
<g filter="url(#b3_0)"><path d="M477.8 455.8 496 450.7 526.3 447.7 538.8 450.7 540.8 459.8 526.3 466.1 502.1 466.1 483.9 463.1Z" fill="#c20000"/></g>
<g filter="url(#b1_5)"><ellipse cx="512.2" cy="461" rx="20.2" ry="3.4" fill="#f50000" transform="rotate(-8 512.2 461)"/></g>
<g filter="url(#b1_0)"><ellipse cx="496" cy="454.8" rx="10.1" ry="2.2" fill="#8c0000"/><ellipse cx="576.7" cy="456.8" rx="27.3" ry="2.8" fill="#b20000" transform="rotate(-5 576.7 456.8)"/></g>
<g filter="url(#b2_0)"><path d="M475.8 469.9 506.1 467.9 546.5 464.9 607 461.4 607 465.9 546.5 469.1 506.1 472.1 477.8 474.2Z" fill="#1a0000" stroke="#1a0000" stroke-width="2.6" stroke-linejoin="round"/></g>
<g filter="url(#b4_0)"><ellipse cx="558.3" cy="441.7" rx="18.6" ry="8.9" fill="#0d0000"/></g>
<g filter="url(#b2_0)"><ellipse cx="558.3" cy="440.7" rx="10.1" ry="5" fill="#000000"/></g>
<g filter="url(#b1_0)"><ellipse cx="572.5" cy="455.8" rx="30.3" ry="2.8" fill="#ad0000" transform="rotate(-8 572.5 455.8)"/></g>
<g filter="url(#b2_0)"><path d="M542.2 463.9 562.4 460.2 578.5 460.2 592.7 464.1 578.5 467.1 554.3 469.1 542.2 470.1Z" fill="#140000" stroke="#140000" stroke-width="2.6" stroke-linejoin="round"/><path d="M598.7 458.8 622.9 454.2 647.2 455.8 667.4 455.8 683.5 452.8 687.5 448.7 691.6 452.8 713.8 450.1 736 452.2 740.4 455.8 719.8 454.4 703.7 453.6 683.5 458 663.3 460.4 647.2 461 631 461.6 618.9 459 602.8 462.1Z" fill="#ff0000" stroke="#ff0000" stroke-width="2.6" stroke-linejoin="round"/></g>
<g filter="url(#b1_5)"><path d="M620.9 459.4 631 461.9 651.2 462.3 667.4 460.2 687.5 457.4 707.7 453.4 723.9 455.4 742.4 456.8 740 459.6 723.9 462.1 715.8 459 695.6 461 675.4 463.1 663.3 468.1 651.2 472.1 643.1 473.2 645.1 467.9 629 465.1Z" fill="#000000" stroke="#000000" stroke-width="2.6" stroke-linejoin="round"/></g>
<g filter="url(#b2_0)"><path d="M744.1 455.8 754.1 453.8 768.3 455.4 788.5 454.2 804.6 455.8 807 460.2 790.5 462.1 774.3 460.4 754.1 459Z" fill="#ff0000" stroke="#ff0000" stroke-width="2.6" stroke-linejoin="round"/><path d="M824.8 456.8 840.9 452.8 857.1 449.7 873.2 452.8 889.4 455.8 879.3 464.9 861.1 474.4 845 479.2 838.9 476.2 840.9 467.9 828.8 461.9Z" fill="#ff0000" stroke="#ff0000" stroke-width="2.6" stroke-linejoin="round"/><path d="M804.6 460.8 812.7 457.8 824.8 460.2 837.3 465.9 834.9 470.5 820.8 468.1 808.7 465.1Z" fill="#0d0000" stroke="#0d0000" stroke-width="2.6" stroke-linejoin="round"/></g>
<g filter="url(#b1_0)"><ellipse cx="824.8" cy="487.3" rx="9.3" ry="1.8" fill="#260000" transform="rotate(-15 824.8 487.3)"/></g>
<g filter="url(#b4_0)"><ellipse cx="784.4" cy="433.6" rx="50.5" ry="10.1" fill="#780000"/></g>
<g filter="url(#b1_5)"><path d="M235.6 510.8 180.1 490.8 210.7 490.3 213 489.2 228.5 486.1 242.5 483 259.6 480.6 275.1 480.6 290.6 482.2 306.2 483.8 314 483 312.4 480.6 304.6 478.3 303.1 476.8 313.9 476.3 315.5 479.1 321.7 479.1 337.2 479.1 352.8 479.9 360.5 478.3 355.9 472.9 360.5 468.2 366.7 463.6 369.8 460.5 372.2 457.3 372.9 452.7 379.1 451.7 376.1 455 371.4 463.6 368.3 466.7 369.8 471.3 376.1 477.5 382.3 482.2 383.8 484.5 368.3 486.9 362.1 488.4 366.7 492.3 383.8 496.2 399.3 498 407.1 501.6 414.9 498 430.4 496.9 440.8 496.2 452.5 494.6 451.7 492.7 440.8 493.4 440 491.2 453.3 487.6 468.8 484.5 475 480.6 484.3 476 487.4 472.9 503 471.6 521.6 470.5 530.9 469.5 546.4 471.3 561.9 469.5 574.4 467.4 580.6 469.8 593 466.7 608.5 462.8 617.9 459.7 624.1 462 630.3 465.1 642.7 465.9 645.8 469 639.6 472.1 636.5 475.2 641.1 476.3 650.5 472.1 661.3 468.2 673.8 464.3 686.2 462 701.7 462.8 717.2 461.2 732.7 460.5 748.3 462 763.8 462.8 779.3 461.7 787.8 459.3 788.7 462 796.2 462.5 805.5 463 804.6 464.8 810.1 466.7 817.6 467.2 821.3 469.5 826 472.8 832.5 473.2 838.1 473.7 839.9 475.6 834.4 477.4 826.9 480.2 821.3 481.6 812.9 483.5 806.4 485.8 800.8 488.1 799 490.9 799.9 492.3 825.1 491.7 771.7 510.8Z" fill="#800000" stroke="#800000" stroke-width="2.6" stroke-linejoin="round"/></g>
<g style="mix-blend-mode:lighten"><rect x="-5" y="-5" width="1020" height="525" fill="#000100"/></g>
<g filter="url(#b4_0)" style="mix-blend-mode:lighten"><path d="M571.2 122.2 609 118 621.5 82.3 671.8 88.6 755.7 86.5 818.6 97 839.6 113.8 835.4 143.1 810.2 176.7 734.7 178.8 671.8 168.3 642.5 170.4 617.3 147.3 579.6 147.3Z" fill="#001f00"/></g>
<g filter="url(#b5_0)" style="mix-blend-mode:lighten"><path d="M483.2 69.8 567 65.6 609 101.2 567 126.4 493.6 118Z" fill="#000a00"/></g>
<g filter="url(#b6_0)" style="mix-blend-mode:lighten"><path d="M562.5 34.7 624.3 40 697.4 32.2 778.4 34.7 853.5 45.3 830.8 82.5 741.2 88.5 645 85.5 573.2 79.5Z" fill="#000500"/><path d="M164.2 45.3 222.2 40 297.9 45.3 328.3 62 360.1 91.6 309.4 97.7 200.1 97.7 168.5 67.8Z" fill="#000500"/></g>
<g filter="url(#b4_0)" style="mix-blend-mode:lighten"><path d="M185.1 86.7 240.5 84.7 309.7 106.5 331.5 120.3 305.7 146 250.4 155.9 204.9 161.9 181.1 138.1Z" fill="#001f00"/></g>
<g filter="url(#b1_5)" style="mix-blend-mode:lighten"><path d="M308.4 302.9 316.7 302.9 320.8 340.9 322.4 369.4 327.9 400.8 335.2 425.2 328.2 425.2 318.3 394.5 314.3 363 311.7 334.5Z" fill="#003300" stroke="#003300" stroke-width="2.6" stroke-linejoin="round"/></g>
<g filter="url(#b3_0)" style="mix-blend-mode:lighten"><path d="M109.1 448.7 131.1 448.7 153 448.7 174.9 448.7 196.8 448.7 218.7 448.7 240.7 448.7 262.6 448.7 284.5 448.7 306.4 448.7 328.3 448.7 350.2 448.7 372.2 448.7 394.1 448.7 416 448.7 437.9 448.7 459.8 448.7 481.8 448.7 503.7 448.7 525.6 448.7 547.5 448.7 569.4 448.7 591.3 448.7 613.3 448.7 635.2 448.7 657.1 448.7 679 448.7 700.9 448.7 722.9 448.7 744.8 448.7 766.7 448.7 788.6 448.7 810.5 448.7 832.4 448.7 854.4 448.7 876.3 448.7 898.2 448.7 825.1 491.7 799.9 492.3 799 490.9 800.8 488.1 806.4 485.8 812.9 483.5 821.3 481.6 826.9 480.2 834.4 477.4 839.9 475.6 838.1 473.7 832.5 473.2 826 472.8 821.3 469.5 817.6 467.2 810.1 466.7 804.6 464.8 805.5 463 796.2 462.5 788.7 462 787.8 459.3 779.3 461.7 763.8 462.8 748.3 462 732.7 460.5 717.2 461.2 701.7 462.8 686.2 462 673.8 464.3 661.3 468.2 650.5 472.1 641.1 476.3 636.5 475.2 639.6 472.1 645.8 469 642.7 465.9 630.3 465.1 624.1 462 617.9 459.7 608.5 462.8 593 466.7 580.6 469.8 574.4 467.4 561.9 469.5 546.4 471.3 530.9 469.5 521.6 470.5 503 471.6 487.4 472.9 484.3 476 475 480.6 468.8 484.5 453.3 487.6 440 491.2 440.8 493.4 451.7 492.7 452.5 494.6 440.8 496.2 430.4 496.9 414.9 498 407.1 501.6 399.3 498 383.8 496.2 366.7 492.3 362.1 488.4 368.3 486.9 383.8 484.5 382.3 482.2 376.1 477.5 369.8 471.3 368.3 466.7 371.4 463.6 376.1 455 379.1 451.7 372.9 452.7 372.2 457.3 369.8 460.5 366.7 463.6 360.5 468.2 355.9 472.9 360.5 478.3 352.8 479.9 337.2 479.1 321.7 479.1 315.5 479.1 313.9 476.3 303.1 476.8 304.6 478.3 312.4 480.6 314 483 306.2 483.8 290.6 482.2 275.1 480.6 259.6 480.6 242.5 483 228.5 486.1 213 489.2 210.7 490.3 180.1 490.8Z" fill="#001200"/></g>
<g filter="url(#b12_0)" style="mix-blend-mode:lighten"><rect x="-40" y="62" width="1087.3" height="386.7" fill="#000016"/></g>
</g>
<use href="#coast"/><use href="#bound"/>
<text class="t" x="503.7" y="-12">Bias: ifs-fesom</text>
<rect x="95.7" y="543.2" width="816" height="40.1" fill="url(#cb)" stroke="#000" stroke-width="1.67"/>
<path d="M142.9 583.3 v7.3" stroke="#000" stroke-width="1.67"/><text class="k" x="142.9" y="614.1">−10</text>
<path d="M323.3 583.3 v7.3" stroke="#000" stroke-width="1.67"/><text class="k" x="323.3" y="614.1">−5</text>
<path d="M503.7 583.3 v7.3" stroke="#000" stroke-width="1.67"/><text class="k" x="503.7" y="614.1">0</text>
<path d="M684 583.3 v7.3" stroke="#000" stroke-width="1.67"/><text class="k" x="684" y="614.1">5</text>
<path d="M864.4 583.3 v7.3" stroke="#000" stroke-width="1.67"/><text class="k" x="864.4" y="614.1">10</text>
<text class="k" x="503.7" y="643">W/m2/decade</text>
</g>
<g transform="translate(2100.75,132.65)">
<g clip-path="url(#rob)" filter="url(#cm2)">
<rect x="-5" y="-5" width="1020" height="525" fill="#800000"/>
<g filter="url(#b12_0)"><ellipse cx="284.5" cy="62" rx="83.3" ry="25.6" fill="#780000"/></g>
<g filter="url(#b8_0)"><ellipse cx="707.7" cy="56.4" rx="118.1" ry="19.6" fill="#7c0000"/></g>
<g filter="url(#b12_0)"><ellipse cx="178.3" cy="198.4" rx="60.7" ry="38" fill="#710000"/></g>
<g filter="url(#b3_0)"><ellipse cx="126.5" cy="238" rx="125.7" ry="7" fill="#8e0000"/></g>
<g filter="url(#b6_0)"><ellipse cx="85.9" cy="287" rx="111.4" ry="15.8" fill="#790000"/><ellipse cx="175" cy="325" rx="123.2" ry="15.8" fill="#770000" transform="rotate(15 175 325)"/></g>
<g filter="url(#b4_0)"><ellipse cx="98.3" cy="344" rx="81.1" ry="9.5" fill="#880000" transform="rotate(12 98.3 344)"/></g>
<g filter="url(#b8_0)"><ellipse cx="146.5" cy="388.3" rx="102.1" ry="18.8" fill="#790000" transform="rotate(12 146.5 388.3)"/></g>
<g filter="url(#b3_0)"><ellipse cx="433.8" cy="245.9" rx="72.7" ry="7.9" fill="#8e0000"/></g>
<g filter="url(#b10_0)"><ellipse cx="443" cy="198.4" rx="33.1" ry="28.5" fill="#750000"/></g>
<g filter="url(#b12_0)"><ellipse cx="438.6" cy="375.7" rx="78.1" ry="25.2" fill="#870000"/></g>
<g filter="url(#b8_0)"><ellipse cx="490.2" cy="344" rx="54" ry="19" fill="#790000"/><ellipse cx="667" cy="334.5" rx="81.7" ry="19" fill="#870000"/><ellipse cx="673.7" cy="413.1" rx="121.4" ry="18.3" fill="#870000"/></g>
<g filter="url(#b10_0)"><ellipse cx="879.8" cy="350.4" rx="37.6" ry="25.3" fill="#860000"/></g>
<g filter="url(#b14_0)"><ellipse cx="917.3" cy="198.4" rx="96.5" ry="38" fill="#8a0000"/></g>
<g filter="url(#b12_0)"><ellipse cx="371.8" cy="144.5" rx="52.8" ry="25.3" fill="#7c0000"/></g>
<g filter="url(#b2_0)"><ellipse cx="307.2" cy="340.9" rx="6" ry="15.8" fill="#990000"/></g>
<g filter="url(#b1_0)"><ellipse cx="318.1" cy="353.5" rx="1.9" ry="5.7" fill="#eb0000"/><ellipse cx="311.3" cy="318.7" rx="1.6" ry="3.2" fill="#4c0000"/><ellipse cx="327.6" cy="413.1" rx="2.4" ry="6.1" fill="#b20000"/><ellipse cx="310.3" cy="309.2" rx="1.4" ry="2.5" fill="#d90000"/></g>
<g filter="url(#b3_0)"><path d="M228.6 96.6 250.4 93.6 280.1 104.5 319.6 108.5 327.6 115.4 309.7 136.2 297.9 147 244.5 149 220.7 154 196 144.1 196 124.3 210.8 110.4Z" fill="#a10000"/></g>
<g filter="url(#b2_0)"><ellipse cx="121.8" cy="66.9" rx="9.3" ry="5.4" fill="#660000"/></g>
<g filter="url(#b8_0)"><ellipse cx="260.3" cy="76.8" rx="62.3" ry="18.7" fill="#780000"/></g>
<g filter="url(#b6_0)"><ellipse cx="272.2" cy="122.3" rx="47.8" ry="18.7" fill="#a80000"/></g>
<g filter="url(#b3_0)"><ellipse cx="270.2" cy="143.1" rx="39.5" ry="7.1" fill="#ab0000" transform="rotate(-5 270.2 143.1)"/><path d="M240.5 120.3 246.4 106.5 254.4 100.5 264.2 104.5 272.2 114.4 288 116.4 299.9 120.3 311.7 118.3 319.6 114.4 324 120.3 309.7 130.6 299.9 134.6 280.1 132.6 264.2 136.5 250.4 135.4 240.5 128.6Z" fill="#ff0000"/><ellipse cx="303.8" cy="124.3" rx="22.8" ry="7.9" fill="#e00000" transform="rotate(-12 303.8 124.3)"/></g>
<g filter="url(#b3_5)"><ellipse cx="205.3" cy="128.2" rx="10.8" ry="9.6" fill="#f20000"/></g>
<g filter="url(#b3_0)"><ellipse cx="220.7" cy="122.7" rx="8.7" ry="6.2" fill="#db0000"/><ellipse cx="229" cy="134.6" rx="6.6" ry="6.2" fill="#d10000"/></g>
<g filter="url(#b2_0)"><ellipse cx="217.2" cy="142.5" rx="10.8" ry="5.8" fill="#c20000"/></g>
<g filter="url(#b4_0)"><ellipse cx="232.6" cy="106.5" rx="8.3" ry="10.4" fill="#a30000"/></g>
<g filter="url(#b1_0)"><ellipse cx="237.5" cy="130.2" rx="2.9" ry="12.5" fill="#8c0000"/><ellipse cx="202.9" cy="112.4" rx="3.3" ry="2.3" fill="#1a0000"/><ellipse cx="192" cy="124.3" rx="3.1" ry="2.3" fill="#260000"/></g>
<g filter="url(#b2_0)"><ellipse cx="229" cy="146.4" rx="10.8" ry="4.6" fill="#5c0000" transform="rotate(-30 229 146.4)"/></g>
<g filter="url(#b1_0)"><ellipse cx="197.4" cy="86.7" rx="1.9" ry="8.7" fill="#5e0000"/></g>
<g filter="url(#b2_0)"><ellipse cx="320.6" cy="114.8" rx="12.9" ry="5" fill="#c20000" transform="rotate(-25 320.6 114.8)"/></g>
<g filter="url(#b1_0)"><ellipse cx="345.8" cy="106.9" rx="6.2" ry="2.1" fill="#a80000"/><ellipse cx="367.5" cy="103.7" rx="4.2" ry="2.1" fill="#a80000"/></g>
<g filter="url(#b1_5)"><path d="M327.6 106.9 341.4 98.6 351.3 96.6 359.6 100.5 355.2 106.9 347.3 110.8 343 106.9 335.5 105.7Z" fill="#330000" stroke="#330000" stroke-width="2.6" stroke-linejoin="round"/><ellipse cx="347.7" cy="102.9" rx="4.2" ry="3.1" fill="#1a0000"/></g>
<g filter="url(#b3_0)"><path d="M384.5 48.7 390.9 50.7 375 66.9 379.4 84.7 385.3 104.5 377 105.7 368.7 84.7 363.2 69.9Z" fill="#400000"/></g>
<g filter="url(#b1_5)"><ellipse cx="376.4" cy="90.7" rx="3.9" ry="9.6" fill="#1c0000" transform="rotate(-12 376.4 90.7)"/></g>
<g filter="url(#b6_0)"><ellipse cx="211.2" cy="170.2" rx="12.9" ry="17" fill="#6e0000"/></g>
<g filter="url(#b8_0)"><ellipse cx="181.2" cy="201.4" rx="54" ry="16.6" fill="#700000"/></g>
<g filter="url(#b1_0)"><ellipse cx="468" cy="45.2" rx="20.8" ry="2.3" fill="#960000" transform="rotate(-15 468 45.2)"/></g>
<g filter="url(#b8_0)"><ellipse cx="468" cy="205.4" rx="27" ry="18.7" fill="#750000"/></g>
<g filter="url(#b5_0)"><path d="M579.7 126.4 609 122.2 621.6 88.6 650.9 86.5 671.9 92.8 724.3 94.9 755.8 90.7 808.2 99.1 835.4 109.6 837.5 135.2 810.3 168.7 776.7 177.1 734.8 175 671.9 166.6 650.9 168.7 630 160.3 617.4 143.6 588 143.6Z" fill="#5e0000"/><path d="M493.7 80.2 531.4 67.7 558.7 76.1 596.4 86.5 598.5 107.5 579.7 115.9 558.7 126.4 525.1 118 495.8 109.6Z" fill="#9c0000"/></g>
<g filter="url(#b2_0)"><ellipse cx="479" cy="42.5" rx="22.3" ry="5.2" fill="#940000" transform="rotate(-20 479 42.5)"/></g>
<g filter="url(#b9_0)"><ellipse cx="525.1" cy="99.5" rx="55" ry="22.3" fill="#990000"/></g>
<g filter="url(#b4_0)"><ellipse cx="498.3" cy="82.8" rx="9.4" ry="10.5" fill="#940000"/></g>
<g filter="url(#b3_0)"><ellipse cx="531.9" cy="76.5" rx="11" ry="7.9" fill="#9e0000"/></g>
<g filter="url(#b6_0)"><ellipse cx="571.3" cy="95.3" rx="30.1" ry="16.2" fill="#ba0000" transform="rotate(20 571.3 95.3)"/></g>
<g filter="url(#b4_0)"><ellipse cx="575.9" cy="97.4" rx="14.7" ry="8.9" fill="#db0000" transform="rotate(25 575.9 97.4)"/></g>
<g filter="url(#b3_0)"><ellipse cx="552.8" cy="116.3" rx="18.9" ry="7.9" fill="#9e0000"/></g>
<g filter="url(#b12_0)"><ellipse cx="713.8" cy="118" rx="138.9" ry="35.4" fill="#620000"/></g>
<g filter="url(#b5_0)"><ellipse cx="640.9" cy="105.8" rx="24.1" ry="10.5" fill="#330000"/></g>
<g filter="url(#b4_0)"><ellipse cx="672.3" cy="110" rx="26.2" ry="9.4" fill="#260000"/></g>
<g filter="url(#b3_0)"><ellipse cx="714.2" cy="110" rx="13.6" ry="7.9" fill="#1f0000"/><ellipse cx="693.3" cy="118.4" rx="21.5" ry="7.9" fill="#420000"/></g>
<g filter="url(#b4_0)"><ellipse cx="798.1" cy="116.3" rx="10.5" ry="13.6" fill="#120000"/></g>
<g filter="url(#b5_0)"><ellipse cx="819.1" cy="112.1" rx="13.6" ry="10.5" fill="#330000"/></g>
<g filter="url(#b3_0)"><ellipse cx="766.7" cy="107.9" rx="26.2" ry="7.9" fill="#4c0000"/><ellipse cx="796" cy="147.7" rx="7.9" ry="10.5" fill="#1a0000"/><ellipse cx="787.6" cy="131" rx="11" ry="7.9" fill="#330000"/><ellipse cx="598.9" cy="131" rx="21.5" ry="6.3" fill="#380000"/></g>
<g filter="url(#b1_0)"><ellipse cx="592.2" cy="135.2" rx="5.2" ry="2.4" fill="#140000"/></g>
<g filter="url(#b2_5)"><path d="M620.5 130.6 630 133.9 640.9 151.5 651.3 162 645.1 164.5 632.1 154 622.8 141.5Z" fill="#080000" stroke="#080000" stroke-width="2.6" stroke-linejoin="round"/></g>
<g filter="url(#b3_0)"><ellipse cx="627.9" cy="139.4" rx="7.3" ry="7.9" fill="#050000"/></g>
<g filter="url(#b2_0)"><ellipse cx="655.5" cy="160.3" rx="11" ry="5.2" fill="#420000" transform="rotate(30 655.5 160.3)"/></g>
<g filter="url(#b1_5)"><ellipse cx="627.9" cy="112.7" rx="3.9" ry="3.1" fill="#cc0000"/></g>
<g filter="url(#b1_0)"><ellipse cx="594.7" cy="109.2" rx="5.2" ry="2.1" fill="#b20000"/></g>
<g filter="url(#b6_0)"><ellipse cx="741.5" cy="147.7" rx="48.5" ry="15.7" fill="#ad0000" transform="rotate(8 741.5 147.7)"/></g>
<g filter="url(#b3_0)"><ellipse cx="722.6" cy="154" rx="9.4" ry="6.6" fill="#f20000"/></g>
<g filter="url(#b2_0)"><ellipse cx="762.5" cy="149.8" rx="9.4" ry="5.2" fill="#ff0000"/><ellipse cx="735.2" cy="141.5" rx="13.6" ry="5.2" fill="#db0000"/><ellipse cx="682.8" cy="147.7" rx="16.2" ry="5.2" fill="#ba0000"/></g>
<g filter="url(#b1_5)"><ellipse cx="752" cy="160.3" rx="11" ry="3.7" fill="#d10000"/><ellipse cx="735.2" cy="168.7" rx="21.5" ry="3.7" fill="#260000" transform="rotate(8 735.2 168.7)"/></g>
<g filter="url(#b2_0)"><ellipse cx="772.9" cy="164.5" rx="5.2" ry="9.4" fill="#0d0000"/><ellipse cx="687" cy="137.3" rx="5.2" ry="5.2" fill="#1a0000"/></g>
<g filter="url(#b1_5)"><ellipse cx="754.1" cy="101.6" rx="5.2" ry="3.1" fill="#d10000"/></g>
<g filter="url(#b1_0)"><ellipse cx="733.1" cy="105.8" rx="3.1" ry="2.1" fill="#c20000"/></g>
<g filter="url(#b1_5)"><ellipse cx="785.5" cy="101.6" rx="11" ry="3.7" fill="#a10000"/></g>
<g filter="url(#b6_0)"><ellipse cx="860.6" cy="89" rx="21.5" ry="35.4" fill="#b20000" transform="rotate(-25 860.6 89)"/></g>
<g filter="url(#b3_5)"><ellipse cx="863.1" cy="89" rx="10" ry="26.2" fill="#ff0000" transform="rotate(-25 863.1 89)"/></g>
<g filter="url(#b2_0)"><ellipse cx="867.3" cy="141.5" rx="5.2" ry="10.5" fill="#330000" transform="rotate(30 867.3 141.5)"/><ellipse cx="837.9" cy="139.4" rx="4.7" ry="7.3" fill="#660000"/></g>
<g filter="url(#b8_0)"><ellipse cx="714.2" cy="185.5" rx="31.4" ry="21" fill="#730000"/></g>
<g filter="url(#b12_0)"><ellipse cx="630" cy="185.1" rx="52.4" ry="31.4" fill="#780000"/></g>
<g filter="url(#b6_0)"><ellipse cx="535.6" cy="216.9" rx="94.3" ry="13.6" fill="#6e0000"/></g>
<g filter="url(#b3_0)"><ellipse cx="578" cy="227.4" rx="16.2" ry="7.9" fill="#590000"/></g>
<g filter="url(#b8_0)"><ellipse cx="561.2" cy="248.4" rx="30.1" ry="16.2" fill="#9e0000"/><ellipse cx="789.7" cy="206.4" rx="26.7" ry="24.1" fill="#990000"/></g>
<g filter="url(#b4_0)"><ellipse cx="791.8" cy="206.4" rx="11" ry="10.5" fill="#aa0000"/><ellipse cx="752" cy="227.4" rx="32.8" ry="10.5" fill="#990000"/></g>
<g filter="url(#b14_0)"><ellipse cx="871.1" cy="195.5" rx="78.6" ry="31.4" fill="#8b0000"/></g>
<g filter="url(#b3_0)"><ellipse cx="814.9" cy="160.3" rx="11" ry="7.9" fill="#990000"/></g>
<g filter="url(#b4_0)"><ellipse cx="579.7" cy="285.7" rx="15.7" ry="10.5" fill="#6b0000"/></g>
<g filter="url(#b5_0)"><path d="M112.5 452.8 163 442.1 223.5 447.7 284.1 456.2 364.8 450.1 372.9 467.9 284.1 476 203.4 490.1 142.8 474Z" fill="#660000"/></g>
<g filter="url(#b2_0)"><path d="M118.6 454.8 142.8 449.7 163 445.7 187.2 446.7 207.4 448.7 235.7 455.8 263.9 459.8 294.2 462.9 324.5 465.9 344.7 466.9 352.7 464.9 364.8 459.8 372.9 452.8 377.4 454.8 368.9 465.9 362.8 476 344.7 477.2 324.5 475.2 312.4 472.1 284.1 474.2 274 476.2 259.9 477.2 243.7 483.2 231.6 485.3 223.5 487.3 207.4 488.3 195.3 484.3 203.4 476.2 195.3 468.1 179.1 464.1 159 461 138.8 460.4 128.7 461Z" fill="#000000" stroke="#000000" stroke-width="2.6" stroke-linejoin="round"/></g>
<g filter="url(#b1_5)"><ellipse cx="201.3" cy="453.8" rx="9.1" ry="3.8" fill="#800000"/></g>
<g filter="url(#b2_0)"><path d="M130.7 461.9 148.9 461.4 163 460.8 171.5 464.9 167 470.1 150.9 472.1 140.8 469.1Z" fill="#f50000" stroke="#f50000" stroke-width="2.6" stroke-linejoin="round"/></g>
<g filter="url(#b4_0)"><ellipse cx="189.2" cy="476.4" rx="20.2" ry="10.5" fill="#8c0000"/></g>
<g filter="url(#b2_0)"><ellipse cx="179.5" cy="468.3" rx="8.1" ry="5.7" fill="#660000"/></g>
<g filter="url(#b1_0)"><ellipse cx="191.7" cy="478.4" rx="10.1" ry="2.8" fill="#a10000"/><ellipse cx="167" cy="482" rx="12.1" ry="2.8" fill="#590000" transform="rotate(25 167 482)"/></g>
<g filter="url(#b2_0)"><path d="M276 476 288.1 471.5 304.3 470.3 312.8 473 308.3 478.2 296.2 479.8 284.1 478.6Z" fill="#ff0000" stroke="#ff0000" stroke-width="2.6" stroke-linejoin="round"/></g>
<g filter="url(#b1_0)"><ellipse cx="318.8" cy="467.9" rx="8.1" ry="1.6" fill="#e60000"/></g>
<g filter="url(#b2_0)"><path d="M379 450.7 389.1 443.7 405.2 441.3 421.4 442.7 437.5 441.7 445.6 439.2 454.1 444.7 465.8 450.7 486 454.8 506.1 458.8 536.4 459 534.8 466.3 506.1 468.7 481.9 472.8 461.7 478.8 445.6 482.8 425.4 484.9 413.3 482.4 397.1 476 385 465.9 379 457.8Z" fill="#ed0000" stroke="#ed0000" stroke-width="2.6" stroke-linejoin="round"/></g>
<g filter="url(#b3_0)"><ellipse cx="405.2" cy="471.5" rx="17.2" ry="10.1" fill="#8c0000"/></g>
<g filter="url(#b2_0)"><ellipse cx="433.9" cy="462.3" rx="8.5" ry="4" fill="#330000"/><ellipse cx="413.3" cy="473.2" rx="9.3" ry="4" fill="#5c0000"/></g>
<g filter="url(#b3_0)"><ellipse cx="393.1" cy="465.9" rx="7.3" ry="7.3" fill="#a30000"/></g>
<g filter="url(#b1_5)"><path d="M378.6 450.7 389.1 443.3 405.2 440.9 418.1 442.1 422.6 447.7 413.3 453.4 405.2 457.4 393.1 458.4 380.6 456.4Z" fill="#ff0000" stroke="#ff0000" stroke-width="2.6" stroke-linejoin="round"/></g>
<g filter="url(#b2_0)"><ellipse cx="446" cy="444.5" rx="10.5" ry="4.4" fill="#fa0000"/><ellipse cx="475.9" cy="455" rx="21.2" ry="4" fill="#f70000" transform="rotate(8 475.9 455)"/><ellipse cx="477.9" cy="469.9" rx="30.3" ry="4.4" fill="#fa0000" transform="rotate(-12 477.9 469.9)"/></g>
<g filter="url(#b1_5)"><ellipse cx="433.9" cy="480" rx="14.5" ry="3.8" fill="#eb0000"/><ellipse cx="522.3" cy="462.9" rx="14.1" ry="3.2" fill="#f20000"/></g>
<g filter="url(#b2_0)"><path d="M413.3 487.1 437.5 485.1 456.1 482 451.6 487.3 433.5 491.3 417.3 490.3Z" fill="#1a0000" stroke="#1a0000" stroke-width="2.6" stroke-linejoin="round"/></g>
<g filter="url(#b2_5)"><path d="M437.5 439.6 465.8 433.6 506.1 430.6 536.4 433.6 546.5 437.6 566.7 435.6 607.1 437.6 607.1 447.7 582.9 454 566.7 458 546.5 460 526.3 454 506.1 455 496.1 451 516.2 446.9 506.1 443.9 475.9 444.9 455.7 441.9Z" fill="#0d0000" stroke="#0d0000" stroke-width="2.6" stroke-linejoin="round"/></g>
<g filter="url(#b1_5)"><ellipse cx="536.4" cy="450.1" rx="20.2" ry="3.6" fill="#450000"/></g>
<g filter="url(#b2_0)"><path d="M530.4 433.6 546.5 429.6 561.1 428.5 558.6 434.8 542.5 437.8Z" fill="#f50000" stroke="#f50000" stroke-width="2.6" stroke-linejoin="round"/></g>
<g filter="url(#b3_0)"><ellipse cx="586.9" cy="445.7" rx="20.2" ry="8.1" fill="#000000"/></g>
<g filter="url(#b2_0)"><path d="M574.8 465.9 607.1 458.2 607.1 464.9 582.9 469.1Z" fill="#e60000" stroke="#e60000" stroke-width="2.6" stroke-linejoin="round"/></g>
<g filter="url(#b1_0)"><ellipse cx="526.3" cy="464.3" rx="10.1" ry="2" fill="#e60000"/></g>
<g filter="url(#b4_0)"><path d="M542.2 435.2 570.1 431.1 607.2 433 644.3 438.5 690.7 442.2 690.7 448.4 672.1 453.9 646.2 455.8 623.9 454.9 597.9 461.3 579.4 463.2 560.8 461.3 542.2 463.2Z" fill="#260000"/></g>
<g filter="url(#b1_5)"><ellipse cx="549.7" cy="433.3" rx="11.1" ry="3.7" fill="#f70000"/></g>
<g filter="url(#b4_0)"><ellipse cx="579.4" cy="446.3" rx="24.1" ry="9.3" fill="#000000"/></g>
<g filter="url(#b2_0)"><ellipse cx="678.1" cy="447.4" rx="13" ry="4.5" fill="#1a0000"/></g>
<g filter="url(#b1_0)"><ellipse cx="696.6" cy="451.1" rx="7.4" ry="2" fill="#260000"/></g>
<g filter="url(#b2_0)"><path d="M579.4 468.6 603.5 461.2 623.9 456.5 638.7 459.3 642.5 463 631.3 465.1 620.2 461.3 607.2 464.1 590.5 468.8Z" fill="#f20000" stroke="#f20000" stroke-width="2.6" stroke-linejoin="round"/></g>
<g filter="url(#b1_5)"><ellipse cx="629.5" cy="460.4" rx="8.4" ry="3.5" fill="#ff0000"/></g>
<g filter="url(#b2_0)"><path d="M646.2 466.7 661 459.3 679.6 454.7 675.9 458.6 664.7 463.2 649.9 468.8Z" fill="#e60000" stroke="#e60000" stroke-width="2.6" stroke-linejoin="round"/></g>
<g filter="url(#b1_0)"><ellipse cx="646.2" cy="472.3" rx="5.6" ry="1.7" fill="#d90000" transform="rotate(-30 646.2 472.3)"/></g>
<g filter="url(#b2_0)"><path d="M705.5 452.8 727.8 451 739.3 451.9 731.5 456.2 720.4 457.3 709.3 456.2Z" fill="#f20000" stroke="#f20000" stroke-width="2.6" stroke-linejoin="round"/></g>
<g filter="url(#b1_0)"><ellipse cx="755.6" cy="456" rx="11.5" ry="1.9" fill="#d90000"/><ellipse cx="776.1" cy="460.2" rx="9.6" ry="1.5" fill="#d90000"/></g>
<g filter="url(#b1_5)"><path d="M668.4 462.1 690.7 458.4 709.3 457.5 724.1 460.2 746.4 461.2 764.9 460.2 783.5 459.3 783.5 461.7 746.4 463.2 720.4 462.8 690.7 463.2 672.1 464.1Z" fill="#1a0000" stroke="#1a0000" stroke-width="2.6" stroke-linejoin="round"/></g>
<g filter="url(#b2_0)"><path d="M789 456.5 802 454.7 820.6 456 831.7 454.7 850.3 451.9 861.4 451.9 876.3 457.5 880.3 461.2 868.8 466.9 854 474.3 842.9 479.9 839.2 476.2 835.4 468.8 824.3 461.3 809.5 460.4 805.7 463.2 789 463.2Z" fill="#ff0000" stroke="#ff0000" stroke-width="2.6" stroke-linejoin="round"/></g>
<g filter="url(#b1_0)"><ellipse cx="821" cy="463.4" rx="9.3" ry="2.6" fill="#260000" transform="rotate(25 821 463.4)"/><ellipse cx="832.1" cy="469" rx="4.6" ry="1.9" fill="#330000"/><ellipse cx="882.2" cy="456.7" rx="7.4" ry="2.8" fill="#050000"/><ellipse cx="815" cy="486.4" rx="11.5" ry="2" fill="#1a0000" transform="rotate(-20 815 486.4)"/><ellipse cx="822.8" cy="489.2" rx="2.8" ry="1.1" fill="#e60000"/></g>
<g filter="url(#b4_0)"><ellipse cx="727.8" cy="418.5" rx="92.8" ry="9.3" fill="#870000"/></g>
<g filter="url(#b1_5)"><path d="M235.6 510.8 180.1 490.8 210.7 490.3 213 489.2 228.5 486.1 242.5 483 259.6 480.6 275.1 480.6 290.6 482.2 306.2 483.8 314 483 312.4 480.6 304.6 478.3 303.1 476.8 313.9 476.3 315.5 479.1 321.7 479.1 337.2 479.1 352.8 479.9 360.5 478.3 355.9 472.9 360.5 468.2 366.7 463.6 369.8 460.5 372.2 457.3 372.9 452.7 379.1 451.7 376.1 455 371.4 463.6 368.3 466.7 369.8 471.3 376.1 477.5 382.3 482.2 383.8 484.5 368.3 486.9 362.1 488.4 366.7 492.3 383.8 496.2 399.3 498 407.1 501.6 414.9 498 430.4 496.9 440.8 496.2 452.5 494.6 451.7 492.7 440.8 493.4 440 491.2 453.3 487.6 468.8 484.5 475 480.6 484.3 476 487.4 472.9 503 471.6 521.6 470.5 530.9 469.5 546.4 471.3 561.9 469.5 574.4 467.4 580.6 469.8 593 466.7 608.5 462.8 617.9 459.7 624.1 462 630.3 465.1 642.7 465.9 645.8 469 639.6 472.1 636.5 475.2 641.1 476.3 650.5 472.1 661.3 468.2 673.8 464.3 686.2 462 701.7 462.8 717.2 461.2 732.7 460.5 748.3 462 763.8 462.8 779.3 461.7 787.8 459.3 788.7 462 796.2 462.5 805.5 463 804.6 464.8 810.1 466.7 817.6 467.2 821.3 469.5 826 472.8 832.5 473.2 838.1 473.7 839.9 475.6 834.4 477.4 826.9 480.2 821.3 481.6 812.9 483.5 806.4 485.8 800.8 488.1 799 490.9 799.9 492.3 825.1 491.7 771.7 510.8Z" fill="#800000" stroke="#800000" stroke-width="2.6" stroke-linejoin="round"/></g>
<g style="mix-blend-mode:lighten"><rect x="-5" y="-5" width="1020" height="525" fill="#000100"/></g>
<g filter="url(#b4_0)" style="mix-blend-mode:lighten"><path d="M571.3 122.2 609 118 621.6 82.3 671.9 88.6 755.8 86.5 818.6 97 839.6 113.8 835.4 143.1 810.3 176.7 734.8 178.8 671.9 168.3 642.5 170.4 617.4 147.3 579.7 147.3Z" fill="#001f00"/></g>
<g filter="url(#b5_0)" style="mix-blend-mode:lighten"><path d="M483.2 69.8 567.1 65.6 609 101.2 567.1 126.4 493.7 118Z" fill="#000d00"/></g>
<g filter="url(#b6_0)" style="mix-blend-mode:lighten"><path d="M562.5 34.7 624.3 40 697.4 32.2 778.4 34.7 853.5 45.3 830.8 82.5 741.2 88.5 645 85.5 573.2 79.5Z" fill="#000500"/><path d="M164.2 45.3 222.2 40 297.9 45.3 328.3 62 360.1 91.6 309.4 97.7 200.1 97.7 168.5 67.8Z" fill="#000500"/></g>
<g filter="url(#b4_0)" style="mix-blend-mode:lighten"><path d="M185.1 86.7 240.5 84.7 309.7 106.5 331.5 120.3 305.8 146 250.4 155.9 204.9 161.9 181.2 138.1Z" fill="#001a00"/><path d="M185.1 106.5 236.6 102.5 240.5 150 204.9 161.9 181.2 138.1Z" fill="#002900"/></g>
<g filter="url(#b1_5)" style="mix-blend-mode:lighten"><path d="M308.4 302.9 316.7 302.9 320.8 340.9 322.4 369.4 327.9 400.8 335.2 425.2 328.2 425.2 318.3 394.5 314.3 363 311.7 334.5Z" fill="#003300" stroke="#003300" stroke-width="2.6" stroke-linejoin="round"/></g>
<g filter="url(#b3_0)" style="mix-blend-mode:lighten"><path d="M109.1 448.7 131.1 448.7 153 448.7 174.9 448.7 196.8 448.7 218.7 448.7 240.7 448.7 262.6 448.7 284.5 448.7 306.4 448.7 328.3 448.7 350.2 448.7 372.2 448.7 394.1 448.7 416 448.7 437.9 448.7 459.8 448.7 481.8 448.7 503.7 448.7 525.6 448.7 547.5 448.7 569.4 448.7 591.3 448.7 613.3 448.7 635.2 448.7 657.1 448.7 679 448.7 700.9 448.7 722.9 448.7 744.8 448.7 766.7 448.7 788.6 448.7 810.5 448.7 832.4 448.7 854.4 448.7 876.3 448.7 898.2 448.7 825.1 491.7 799.9 492.3 799 490.9 800.8 488.1 806.4 485.8 812.9 483.5 821.3 481.6 826.9 480.2 834.4 477.4 839.9 475.6 838.1 473.7 832.5 473.2 826 472.8 821.3 469.5 817.6 467.2 810.1 466.7 804.6 464.8 805.5 463 796.2 462.5 788.7 462 787.8 459.3 779.3 461.7 763.8 462.8 748.3 462 732.7 460.5 717.2 461.2 701.7 462.8 686.2 462 673.8 464.3 661.3 468.2 650.5 472.1 641.1 476.3 636.5 475.2 639.6 472.1 645.8 469 642.7 465.9 630.3 465.1 624.1 462 617.9 459.7 608.5 462.8 593 466.7 580.6 469.8 574.4 467.4 561.9 469.5 546.4 471.3 530.9 469.5 521.6 470.5 503 471.6 487.4 472.9 484.3 476 475 480.6 468.8 484.5 453.3 487.6 440 491.2 440.8 493.4 451.7 492.7 452.5 494.6 440.8 496.2 430.4 496.9 414.9 498 407.1 501.6 399.3 498 383.8 496.2 366.7 492.3 362.1 488.4 368.3 486.9 383.8 484.5 382.3 482.2 376.1 477.5 369.8 471.3 368.3 466.7 371.4 463.6 376.1 455 379.1 451.7 372.9 452.7 372.2 457.3 369.8 460.5 366.7 463.6 360.5 468.2 355.9 472.9 360.5 478.3 352.8 479.9 337.2 479.1 321.7 479.1 315.5 479.1 313.9 476.3 303.1 476.8 304.6 478.3 312.4 480.6 314 483 306.2 483.8 290.6 482.2 275.1 480.6 259.6 480.6 242.5 483 228.5 486.1 213 489.2 210.7 490.3 180.1 490.8Z" fill="#001200"/></g>
<g filter="url(#b12_0)" style="mix-blend-mode:lighten"><rect x="-40" y="62" width="1087.3" height="386.7" fill="#000016"/></g>
</g>
<use href="#coast"/><use href="#bound"/>
<text class="t" x="503.7" y="-12">Bias: ifs-nemo</text>
<rect x="95.7" y="543.2" width="816" height="40.1" fill="url(#cb)" stroke="#000" stroke-width="1.67"/>
<path d="M142.9 583.3 v7.3" stroke="#000" stroke-width="1.67"/><text class="k" x="142.9" y="614.1">−10</text>
<path d="M323.3 583.3 v7.3" stroke="#000" stroke-width="1.67"/><text class="k" x="323.3" y="614.1">−5</text>
<path d="M503.7 583.3 v7.3" stroke="#000" stroke-width="1.67"/><text class="k" x="503.7" y="614.1">0</text>
<path d="M684 583.3 v7.3" stroke="#000" stroke-width="1.67"/><text class="k" x="684" y="614.1">5</text>
<path d="M864.4 583.3 v7.3" stroke="#000" stroke-width="1.67"/><text class="k" x="864.4" y="614.1">10</text>
<text class="k" x="503.7" y="643">W/m2/decade</text>
</g>
<g transform="translate(14.85,808.5)">
<g clip-path="url(#rob)" filter="url(#cm3)">
<rect x="-5" y="-5" width="1020" height="525" fill="#800000"/>
<g filter="url(#b14_0)"><ellipse cx="399.5" cy="135.1" rx="72.9" ry="43.9" fill="#880000"/></g>
<g filter="url(#b8_0)"><ellipse cx="286.7" cy="59.2" rx="82.5" ry="22.6" fill="#860000"/></g>
<g filter="url(#b12_0)"><ellipse cx="108" cy="144.5" rx="65.9" ry="25.3" fill="#7a0000"/></g>
<g filter="url(#b8_0)"><ellipse cx="88.1" cy="207.9" rx="83.1" ry="22.2" fill="#880000"/></g>
<g filter="url(#b6_0)"><ellipse cx="197.3" cy="223.7" rx="83.6" ry="15.8" fill="#8b0000"/></g>
<g filter="url(#b2_0)"><ellipse cx="140.3" cy="241.1" rx="111.8" ry="5.7" fill="#8f0000"/></g>
<g filter="url(#b6_0)"><ellipse cx="112.2" cy="264.9" rx="125.8" ry="12.7" fill="#780000"/><ellipse cx="200.3" cy="312.4" rx="124.1" ry="15.8" fill="#780000" transform="rotate(15 200.3 312.4)"/></g>
<g filter="url(#b4_0)"><ellipse cx="95.3" cy="334.5" rx="81.7" ry="9.5" fill="#870000" transform="rotate(12 95.3 334.5)"/></g>
<g filter="url(#b8_0)"><ellipse cx="152.6" cy="397.6" rx="100.3" ry="21.8" fill="#780000" transform="rotate(12 152.6 397.6)"/><ellipse cx="270" cy="428.2" rx="140.2" ry="17.9" fill="#750000"/><ellipse cx="419.8" cy="271.2" rx="61.5" ry="19" fill="#790000"/></g>
<g filter="url(#b6_0)"><ellipse cx="437.2" cy="359.9" rx="66.5" ry="12.7" fill="#8a0000"/></g>
<g filter="url(#b8_0)"><ellipse cx="607.8" cy="375.7" rx="65.1" ry="18.9" fill="#880000" transform="rotate(-20 607.8 375.7)"/></g>
<g filter="url(#b14_0)"><ellipse cx="723.5" cy="318.7" rx="96.2" ry="38" fill="#790000"/></g>
<g filter="url(#b12_0)"><ellipse cx="749.8" cy="406.9" rx="110.8" ry="24.6" fill="#790000"/></g>
<g filter="url(#b10_0)"><ellipse cx="871.2" cy="334.5" rx="38.1" ry="25.3" fill="#790000"/></g>
<g filter="url(#b12_0)"><ellipse cx="946.9" cy="350.4" rx="53.7" ry="31.6" fill="#7c0000"/></g>
<g filter="url(#b4_0)"><ellipse cx="921.5" cy="223.7" rx="78" ry="9.5" fill="#8e0000" transform="rotate(-12 921.5 223.7)"/></g>
<g filter="url(#b12_0)"><ellipse cx="933.5" cy="160.4" rx="67.2" ry="31.6" fill="#780000"/></g>
<g filter="url(#b6_0)"><ellipse cx="503.7" cy="437.1" rx="204.9" ry="14.7" fill="#770000"/></g>
<g filter="url(#b8_0)"><ellipse cx="716.3" cy="53.6" rx="127.5" ry="16.7" fill="#880000"/></g>
<g filter="url(#b2_0)"><ellipse cx="307.6" cy="334.5" rx="4.1" ry="12.7" fill="#730000"/></g>
<g filter="url(#b1_0)"><ellipse cx="322.7" cy="375.7" rx="1.8" ry="3.8" fill="#d90000"/><ellipse cx="326.9" cy="413.1" rx="2.4" ry="6.7" fill="#c70000"/><ellipse cx="311.3" cy="318.7" rx="1.4" ry="2.5" fill="#cc0000"/></g>
<g filter="url(#b4_0)"><ellipse cx="101.9" cy="67.1" rx="19.8" ry="9.9" fill="#8f0000"/></g>
<g filter="url(#b1_5)"><ellipse cx="131.6" cy="70" rx="9.9" ry="3.5" fill="#700000"/></g>
<g filter="url(#b6_0)"><ellipse cx="309.6" cy="75" rx="21" ry="12.9" fill="#900000"/></g>
<g filter="url(#b7_0)"><ellipse cx="212.7" cy="125.4" rx="37.1" ry="26" fill="#5c0000"/></g>
<g filter="url(#b1_5)"><ellipse cx="191.9" cy="124.4" rx="5.4" ry="4" fill="#140000"/></g>
<g filter="url(#b2_0)"><ellipse cx="209.2" cy="116.9" rx="6.4" ry="4.9" fill="#260000"/></g>
<g filter="url(#b1_5)"><ellipse cx="225" cy="126.8" rx="4.9" ry="3.7" fill="#1a0000"/></g>
<g filter="url(#b1_0)"><ellipse cx="205.2" cy="140.7" rx="4.9" ry="3" fill="#260000"/></g>
<g filter="url(#b3_0)"><ellipse cx="240.8" cy="114.9" rx="10.4" ry="6.2" fill="#400000"/><ellipse cx="238.8" cy="135.7" rx="7.4" ry="6.2" fill="#4c0000" transform="rotate(-40 238.8 135.7)"/></g>
<g filter="url(#b1_0)"><ellipse cx="254.7" cy="95.2" rx="7.4" ry="3" fill="#4c0000"/><ellipse cx="266.5" cy="101.1" rx="4.9" ry="2.5" fill="#590000"/></g>
<g filter="url(#b1_5)"><ellipse cx="287.9" cy="104.7" rx="7.4" ry="3.5" fill="#660000"/><ellipse cx="207.2" cy="129.6" rx="5.4" ry="3.5" fill="#e60000"/></g>
<g filter="url(#b1_0)"><ellipse cx="225" cy="109" rx="7.4" ry="3" fill="#cc0000"/><ellipse cx="252.7" cy="103.1" rx="3.7" ry="3" fill="#b20000"/></g>
<g filter="url(#b2_0)"><ellipse cx="228.9" cy="101.1" rx="4.9" ry="4.9" fill="#9e0000"/></g>
<g filter="url(#b3_0)"><ellipse cx="296.2" cy="120.9" rx="30.9" ry="7.9" fill="#a80000" transform="rotate(-12 296.2 120.9)"/></g>
<g filter="url(#b1_0)"><ellipse cx="282.3" cy="119.7" rx="2.5" ry="3.7" fill="#fa0000"/><ellipse cx="296.2" cy="122.7" rx="7.4" ry="2" fill="#f70000" transform="rotate(-15 296.2 122.7)"/><ellipse cx="306.1" cy="116.9" rx="7.4" ry="1.5" fill="#e60000" transform="rotate(-20 306.1 116.9)"/></g>
<g filter="url(#b2_0)"><ellipse cx="284.3" cy="128.8" rx="10.4" ry="4.9" fill="#c20000"/></g>
<g filter="url(#b1_5)"><path d="M327.5 107 341.3 98.7 351.2 96.7 359.5 100.7 355.1 107 347.2 111 342.9 107 335.4 105.8Z" fill="#080000" stroke="#080000" stroke-width="2.6" stroke-linejoin="round"/></g>
<g filter="url(#b2_0)"><ellipse cx="347.6" cy="105.8" rx="6.2" ry="5.4" fill="#000000"/></g>
<g filter="url(#b3_0)"><path d="M382.4 50.8 387.2 52 373 69 377.3 86.8 379.3 102.7 373 103.9 367.8 84.9 363.9 70Z" fill="#5c0000"/></g>
<g filter="url(#b1_5)"><ellipse cx="374.9" cy="92.8" rx="4" ry="8.7" fill="#400000" transform="rotate(-10 374.9 92.8)"/></g>
<g filter="url(#b12_0)"><ellipse cx="514.6" cy="107.6" rx="86.5" ry="36.7" fill="#950000"/></g>
<g filter="url(#b8_0)"><ellipse cx="692.8" cy="69.9" rx="157.2" ry="23.6" fill="#880000"/></g>
<g filter="url(#b4_0)"><ellipse cx="525" cy="126.5" rx="52.4" ry="10.5" fill="#9e0000"/></g>
<g filter="url(#b2_0)"><ellipse cx="592.1" cy="118.1" rx="15.7" ry="5.8" fill="#9e0000"/></g>
<g filter="url(#b6_0)"><ellipse cx="571.6" cy="91.3" rx="30.1" ry="14.7" fill="#b80000" transform="rotate(20 571.6 91.3)"/></g>
<g filter="url(#b3_0)"><ellipse cx="576.8" cy="89.2" rx="11" ry="6.8" fill="#d40000"/></g>
<g filter="url(#b2_0)"><path d="M622.5 112.9 629.9 108.7 636.6 116 645 126.5 640.3 127.8 629.9 122.5 623.6 118.3Z" fill="#ff0000" stroke="#ff0000" stroke-width="2.6" stroke-linejoin="round"/><ellipse cx="636.6" cy="133.2" rx="5.8" ry="6.8" fill="#990000"/></g>
<g filter="url(#b3_0)"><ellipse cx="598.8" cy="135.3" rx="18.9" ry="6.3" fill="#400000"/></g>
<g filter="url(#b4_0)"><ellipse cx="630.3" cy="145.8" rx="9.4" ry="13.6" fill="#260000" transform="rotate(-30 630.3 145.8)"/></g>
<g filter="url(#b3_0)"><ellipse cx="676.4" cy="112.3" rx="21.5" ry="7.9" fill="#330000"/></g>
<g filter="url(#b1_5)"><ellipse cx="630.3" cy="106" rx="7.9" ry="3.9" fill="#400000"/></g>
<g filter="url(#b3_0)"><ellipse cx="714.1" cy="131.1" rx="21.5" ry="7.9" fill="#730000"/></g>
<g filter="url(#b9_0)"><ellipse cx="789.2" cy="147.9" rx="62.9" ry="35.4" fill="#4c0000"/></g>
<g filter="url(#b4_0)"><ellipse cx="798" cy="135.3" rx="13.1" ry="21.5" fill="#080000"/></g>
<g filter="url(#b3_5)"><ellipse cx="772.8" cy="164.7" rx="11" ry="7.9" fill="#000000"/><ellipse cx="749.8" cy="154.2" rx="11" ry="9.4" fill="#0d0000"/></g>
<g filter="url(#b2_0)"><ellipse cx="735.1" cy="150" rx="13.6" ry="5.2" fill="#1f0000"/></g>
<g filter="url(#b3_0)"><ellipse cx="795.9" cy="160.5" rx="6.6" ry="6.6" fill="#140000"/></g>
<g filter="url(#b5_0)"><ellipse cx="827.3" cy="118.5" rx="16.2" ry="13.6" fill="#330000"/></g>
<g filter="url(#b3_0)"><ellipse cx="814.8" cy="106" rx="7.9" ry="7.9" fill="#400000"/></g>
<g filter="url(#b1_5)"><ellipse cx="739.3" cy="164.7" rx="11" ry="3.1" fill="#1a0000"/><ellipse cx="697" cy="116" rx="21" ry="3.7" fill="#ad0000" transform="rotate(30 697 116)"/><ellipse cx="684.8" cy="147.9" rx="11" ry="3.7" fill="#e00000"/></g>
<g filter="url(#b1_0)"><ellipse cx="699.5" cy="140.4" rx="7.9" ry="2.9" fill="#e00000" transform="rotate(-20 699.5 140.4)"/><ellipse cx="712" cy="147.9" rx="8.4" ry="2.9" fill="#e00000" transform="rotate(45 712 147.9)"/><ellipse cx="722.5" cy="158.4" rx="5.2" ry="2.4" fill="#d10000" transform="rotate(45 722.5 158.4)"/></g>
<g filter="url(#b2_0)"><ellipse cx="756.1" cy="135.3" rx="31.4" ry="5.8" fill="#990000"/><ellipse cx="791.7" cy="106" rx="7.9" ry="5" fill="#c20000" transform="rotate(30 791.7 106)"/></g>
<g filter="url(#b1_0)"><ellipse cx="756.1" cy="101.8" rx="2.1" ry="1.6" fill="#cc0000"/><ellipse cx="733" cy="106" rx="2.1" ry="1.6" fill="#cc0000"/><ellipse cx="806.4" cy="99.7" rx="2.1" ry="1.6" fill="#cc0000"/></g>
<g filter="url(#b9_0)"><ellipse cx="787.5" cy="185.6" rx="59" ry="21.5" fill="#5c0000"/></g>
<g filter="url(#b4_0)"><ellipse cx="751.9" cy="202.4" rx="26.2" ry="10.5" fill="#4c0000"/></g>
<g filter="url(#b8_0)"><ellipse cx="714.1" cy="185.6" rx="26.2" ry="21" fill="#6b0000"/></g>
<g filter="url(#b7_0)"><ellipse cx="839.9" cy="164.7" rx="21.5" ry="16.2" fill="#660000"/></g>
<g filter="url(#b5_0)"><ellipse cx="850.4" cy="85" rx="13.6" ry="13.6" fill="#420000" transform="rotate(30 850.4 85)"/></g>
<g filter="url(#b1_5)"><ellipse cx="852.5" cy="89.2" rx="3.7" ry="11" fill="#260000" transform="rotate(-30 852.5 89.2)"/></g>
<g filter="url(#b6_0)"><ellipse cx="888.1" cy="76.6" rx="13.6" ry="18.9" fill="#9e0000"/></g>
<g filter="url(#b2_0)"><ellipse cx="867.2" cy="141.6" rx="5.2" ry="10.5" fill="#4c0000" transform="rotate(30 867.2 141.6)"/></g>
<g filter="url(#b12_0)"><ellipse cx="567" cy="244.3" rx="55" ry="27.5" fill="#610000"/></g>
<g filter="url(#b3_0)"><ellipse cx="567" cy="244.3" rx="16.2" ry="7.9" fill="#4c0000"/></g>
<g filter="url(#b6_0)"><ellipse cx="525" cy="217.1" rx="78.6" ry="15.7" fill="#750000"/></g>
<g filter="url(#b3_0)"><ellipse cx="682.7" cy="235.9" rx="27.5" ry="7.9" fill="#8f0000"/></g>
<g filter="url(#b2_0)"><ellipse cx="881.4" cy="206.2" rx="68.1" ry="5.2" fill="#8f0000" transform="rotate(-15 881.4 206.2)"/></g>
<g filter="url(#b12_0)"><ellipse cx="902.4" cy="143.3" rx="52.4" ry="26.2" fill="#780000"/></g>
<g filter="url(#b4_0)"><path d="M118.5 455.9 191.2 446.9 247.7 457 275.9 467 243.6 481.2 207.3 492.3 148.8 476.1Z" fill="#bf0000"/></g>
<g filter="url(#b2_0)"><path d="M122.5 458 142.7 454.9 173 452.9 191.2 449.9 203.3 448.9 223.4 452.9 243.6 459 263.8 464 272.3 468.1 263.8 470.3 243.6 468.3 231.5 472.3 235.6 477.3 243.6 479.4 235.6 483.4 223.4 485.4 215.4 487.4 203.3 490.5 195.2 492.5 179 487.4 166.9 481.4 150.8 474.3 138.7 468.3Z" fill="#ff0000" stroke="#ff0000" stroke-width="2.6" stroke-linejoin="round"/></g>
<g filter="url(#b1_0)"><ellipse cx="191.6" cy="469.3" rx="8.1" ry="2.2" fill="#800000"/><ellipse cx="161.3" cy="473.9" rx="6.1" ry="1.8" fill="#330000"/><ellipse cx="223.9" cy="474.3" rx="8.1" ry="2.2" fill="#b20000"/><ellipse cx="260.2" cy="471.9" rx="10.1" ry="1.8" fill="#1a0000"/></g>
<g filter="url(#b2_0)"><path d="M284 479.2 300.2 478.1 312.7 480.2 312.3 483.4 294.1 482.8Z" fill="#0d0000" stroke="#0d0000" stroke-width="2.6" stroke-linejoin="round"/><path d="M314.3 475.1 334.5 473.1 353 475.1 352.6 478.4 332.5 477.3 316.3 478.4Z" fill="#260000" stroke="#260000" stroke-width="2.6" stroke-linejoin="round"/><path d="M273.9 472.1 294.1 469.1 314.3 466 334.5 465 352.6 460 364.7 454.9 369.2 458 360.7 466.2 350.6 472.3 334.5 472.3 314.3 474.3 292.1 477.3 275.9 477.3Z" fill="#ff0000" stroke="#ff0000" stroke-width="2.6" stroke-linejoin="round"/></g>
<g filter="url(#b4_0)"><path d="M465.7 445.9 526.2 433.3 562.6 431.3 607 439.8 607 458 566.6 460.4Z" fill="#b20000"/></g>
<g filter="url(#b2_0)"><path d="M380.9 449.9 393 444.8 413.2 443.8 445.5 439.8 452 443.8 465.7 445.9 485.9 443.8 506 441.8 526.2 439.8 556.5 437.8 567 440.8 552.5 448.1 536.3 454.1 526.2 460.2 516.1 466.2 502 470.3 485.9 474.3 465.7 477.3 449.5 482.4 449.9 488.4 433.4 490.5 413.2 487.4 397 482.4 384.9 474.3 380.9 464.2 374.8 457Z" fill="#ff0000" stroke="#ff0000" stroke-width="2.6" stroke-linejoin="round"/></g>
<g filter="url(#b2_5)"><path d="M384.9 464 393 460.4 413.2 461.6 429.3 459.6 445.5 461 462 463 459.6 468.3 445.5 472.3 429.3 474.3 413.2 472.3 397 472.3 387 470.3Z" fill="#590000" stroke="#590000" stroke-width="2.6" stroke-linejoin="round"/></g>
<g filter="url(#b2_0)"><ellipse cx="399.5" cy="466.6" rx="12.5" ry="4.8" fill="#050000"/></g>
<g filter="url(#b1_0)"><ellipse cx="437.8" cy="462.2" rx="10.5" ry="2.8" fill="#0d0000"/><ellipse cx="439.8" cy="471.3" rx="10.5" ry="2.2" fill="#1a0000"/></g>
<g filter="url(#b1_5)"><ellipse cx="421.7" cy="467.2" rx="10.1" ry="3.2" fill="#6b0000"/></g>
<g filter="url(#b1_0)"><ellipse cx="435.8" cy="438.8" rx="16.6" ry="1.8" fill="#4c0000"/><ellipse cx="476.2" cy="438.8" rx="10.5" ry="1.4" fill="#590000"/></g>
<g filter="url(#b3_0)"><ellipse cx="536.7" cy="454.1" rx="26.6" ry="8.9" fill="#ff0000" transform="rotate(-10 536.7 454.1)"/></g>
<g filter="url(#b2_0)"><ellipse cx="587.2" cy="451.1" rx="16.6" ry="4.8" fill="#c20000"/></g>
<g filter="url(#b1_5)"><ellipse cx="510.5" cy="458.2" rx="5" ry="3.8" fill="#730000"/></g>
<g filter="url(#b2_0)"><path d="M516.1 465 546.4 464 574.7 459 586.8 461 607 465 607 468.3 576.7 466.2 546.4 468.3 516.1 469.3Z" fill="#1a0000" stroke="#1a0000" stroke-width="2.6" stroke-linejoin="round"/></g>
<g filter="url(#b3_0)"><ellipse cx="562.3" cy="439.8" rx="22.2" ry="6.5" fill="#a60000"/><path d="M542.1 435.8 558.3 431.7 582.5 443.8 602.7 447.9 619.3 453.9 602.7 458.2 572.4 460.2 554.3 466.2 542.1 467.2Z" fill="#cc0000"/><ellipse cx="550.2" cy="458" rx="12.5" ry="6.1" fill="#f70000"/></g>
<g filter="url(#b1_0)"><ellipse cx="578.9" cy="462.2" rx="7.3" ry="2.6" fill="#0d0000"/></g>
<g filter="url(#b2_0)"><path d="M620.9 459 628.9 455.9 647.1 454.9 663.3 457 683.4 453.9 699.6 450.9 715.7 450.3 731.9 451.9 736.3 454.9 723.8 458.2 703.6 457.2 687.5 459.2 673.4 462.2 663.3 465.2 651.2 468.3 645.1 473.3 641.1 475.3 639 471.3 643.1 465.2 631 464.2 622.9 462.2Z" fill="#ff0000" stroke="#ff0000" stroke-width="2.6" stroke-linejoin="round"/></g>
<g filter="url(#b1_0)"><ellipse cx="675.8" cy="461.2" rx="7.3" ry="1.4" fill="#0d0000" transform="rotate(-20 675.8 461.2)"/><ellipse cx="700" cy="460.6" rx="5" ry="1.2" fill="#1a0000"/><ellipse cx="692.7" cy="448.9" rx="3" ry="1.4" fill="#330000"/><ellipse cx="730.3" cy="459.8" rx="8.1" ry="1" fill="#1a0000"/><ellipse cx="744.4" cy="458.2" rx="8.5" ry="2" fill="#d90000"/><ellipse cx="774.7" cy="454.1" rx="16.6" ry="1.2" fill="#260000"/><ellipse cx="809" cy="451.7" rx="6.1" ry="0.8" fill="#4c0000"/></g>
<g filter="url(#b2_0)"><path d="M788.4 455.9 804.6 455.9 809 460.4 796.5 462.6 789.4 461.8Z" fill="#ff0000" stroke="#ff0000" stroke-width="2.6" stroke-linejoin="round"/><path d="M824.7 455.9 840.9 452.9 857 449.9 873.2 452.9 889.3 455.9 879.3 465.4 861.1 474.7 844.9 479.6 838.9 477.3 842.9 468.1 834.8 466 836.9 460.4Z" fill="#ff0000" stroke="#ff0000" stroke-width="2.6" stroke-linejoin="round"/><path d="M806.6 462 814.7 459.6 828.8 460.4 835.2 465 832.8 470.7 822.7 469.3 812.6 466.6Z" fill="#050000" stroke="#050000" stroke-width="2.6" stroke-linejoin="round"/></g>
<g filter="url(#b4_0)"><ellipse cx="784.4" cy="431.7" rx="60.6" ry="10.1" fill="#770000"/></g>
<g filter="url(#b1_5)"><path d="M235.6 510.8 180.1 490.8 210.7 490.3 213 489.2 228.5 486.1 242.5 483 259.6 480.6 275.1 480.6 290.6 482.2 306.2 483.8 314 483 312.4 480.6 304.6 478.3 303.1 476.8 313.9 476.3 315.5 479.1 321.7 479.1 337.2 479.1 352.8 479.9 360.5 478.3 355.9 472.9 360.5 468.2 366.7 463.6 369.8 460.5 372.2 457.3 372.9 452.7 379.1 451.7 376.1 455 371.4 463.6 368.3 466.7 369.8 471.3 376.1 477.5 382.3 482.2 383.8 484.5 368.3 486.9 362.1 488.4 366.7 492.3 383.8 496.2 399.3 498 407.1 501.6 414.9 498 430.4 496.9 440.8 496.2 452.5 494.6 451.7 492.7 440.8 493.4 440 491.2 453.3 487.6 468.8 484.5 475 480.6 484.3 476 487.4 472.9 503 471.6 521.6 470.5 530.9 469.5 546.4 471.3 561.9 469.5 574.4 467.4 580.6 469.8 593 466.7 608.5 462.8 617.9 459.7 624.1 462 630.3 465.1 642.7 465.9 645.8 469 639.6 472.1 636.5 475.2 641.1 476.3 650.5 472.1 661.3 468.2 673.8 464.3 686.2 462 701.7 462.8 717.2 461.2 732.7 460.5 748.3 462 763.8 462.8 779.3 461.7 787.8 459.3 788.7 462 796.2 462.5 805.5 463 804.6 464.8 810.1 466.7 817.6 467.2 821.3 469.5 826 472.8 832.5 473.2 838.1 473.7 839.9 475.6 834.4 477.4 826.9 480.2 821.3 481.6 812.9 483.5 806.4 485.8 800.8 488.1 799 490.9 799.9 492.3 825.1 491.7 771.7 510.8Z" fill="#870000" stroke="#870000" stroke-width="2.6" stroke-linejoin="round"/></g>
<g filter="url(#b2_5)"><path d="M364.7 488.2 384.9 480.2 397 484.2 413.2 488.2 449.5 492.3 454 496.3 405.1 501.6 364.7 494.5Z" fill="#ab0000" stroke="#ab0000" stroke-width="2.6" stroke-linejoin="round"/><path d="M177 488.2 195.2 491.3 215.4 487.8 235.6 486.8 250.1 495.9 263.8 497.1 274.3 503.2 263.8 506.8 235.6 504.4 223.4 504.4 203.3 502.4 187.1 496.3Z" fill="#ed0000" stroke="#ed0000" stroke-width="2.6" stroke-linejoin="round"/></g>
<g filter="url(#b3_0)"><ellipse cx="274.3" cy="500.8" rx="12.5" ry="6.1" fill="#b20000"/></g>
<g filter="url(#b2_5)"><path d="M776.3 496.3 800.5 489.3 820.7 485.2 833.2 487.2 824.7 493.5 804.6 499.5 788.4 504.2 778.3 502.2Z" fill="#eb0000" stroke="#eb0000" stroke-width="2.6" stroke-linejoin="round"/></g>
<g style="mix-blend-mode:lighten"><rect x="-5" y="-5" width="1020" height="525" fill="#000100"/></g>
<g filter="url(#b4_0)" style="mix-blend-mode:lighten"><path d="M571.2 122.3 608.9 118.1 621.5 82.5 671.8 88.8 755.7 86.7 818.5 97.2 839.5 113.9 835.3 143.3 810.2 176.8 734.7 178.9 671.8 168.4 642.4 170.5 617.3 147.5 579.6 147.5Z" fill="#001f00"/></g>
<g filter="url(#b5_0)" style="mix-blend-mode:lighten"><path d="M483.1 69.9 567 65.7 608.9 101.4 567 126.5 493.6 118.1Z" fill="#000d00"/></g>
<g filter="url(#b6_0)" style="mix-blend-mode:lighten"><path d="M562.5 34.7 624.3 40 697.4 32.2 778.4 34.7 853.5 45.3 830.8 82.5 741.2 88.5 645 85.5 573.2 79.5Z" fill="#000800"/><path d="M164.2 45.3 222.2 40 297.9 45.3 328.3 62 360.1 91.6 309.4 97.7 200.1 97.7 168.5 67.8Z" fill="#000800"/></g>
<g filter="url(#b4_0)" style="mix-blend-mode:lighten"><path d="M185 86.8 240.4 84.9 309.6 106.6 331.4 120.5 305.7 146.2 250.3 156.1 204.8 162 181.1 138.3Z" fill="#001a00"/><path d="M185 106.6 236.5 102.7 240.4 150.2 204.8 162 181.1 138.3Z" fill="#002900"/></g>
<g filter="url(#b1_5)" style="mix-blend-mode:lighten"><path d="M308.4 302.9 316.7 302.9 320.8 340.9 322.4 369.4 327.9 400.8 335.2 425.2 328.2 425.2 318.3 394.5 314.3 363 311.7 334.5Z" fill="#003300" stroke="#003300" stroke-width="2.6" stroke-linejoin="round"/></g>
<g filter="url(#b3_0)" style="mix-blend-mode:lighten"><path d="M109.1 448.7 131.1 448.7 153 448.7 174.9 448.7 196.8 448.7 218.7 448.7 240.7 448.7 262.6 448.7 284.5 448.7 306.4 448.7 328.3 448.7 350.2 448.7 372.2 448.7 394.1 448.7 416 448.7 437.9 448.7 459.8 448.7 481.8 448.7 503.7 448.7 525.6 448.7 547.5 448.7 569.4 448.7 591.3 448.7 613.3 448.7 635.2 448.7 657.1 448.7 679 448.7 700.9 448.7 722.9 448.7 744.8 448.7 766.7 448.7 788.6 448.7 810.5 448.7 832.4 448.7 854.4 448.7 876.3 448.7 898.2 448.7 825.1 491.7 799.9 492.3 799 490.9 800.8 488.1 806.4 485.8 812.9 483.5 821.3 481.6 826.9 480.2 834.4 477.4 839.9 475.6 838.1 473.7 832.5 473.2 826 472.8 821.3 469.5 817.6 467.2 810.1 466.7 804.6 464.8 805.5 463 796.2 462.5 788.7 462 787.8 459.3 779.3 461.7 763.8 462.8 748.3 462 732.7 460.5 717.2 461.2 701.7 462.8 686.2 462 673.8 464.3 661.3 468.2 650.5 472.1 641.1 476.3 636.5 475.2 639.6 472.1 645.8 469 642.7 465.9 630.3 465.1 624.1 462 617.9 459.7 608.5 462.8 593 466.7 580.6 469.8 574.4 467.4 561.9 469.5 546.4 471.3 530.9 469.5 521.6 470.5 503 471.6 487.4 472.9 484.3 476 475 480.6 468.8 484.5 453.3 487.6 440 491.2 440.8 493.4 451.7 492.7 452.5 494.6 440.8 496.2 430.4 496.9 414.9 498 407.1 501.6 399.3 498 383.8 496.2 366.7 492.3 362.1 488.4 368.3 486.9 383.8 484.5 382.3 482.2 376.1 477.5 369.8 471.3 368.3 466.7 371.4 463.6 376.1 455 379.1 451.7 372.9 452.7 372.2 457.3 369.8 460.5 366.7 463.6 360.5 468.2 355.9 472.9 360.5 478.3 352.8 479.9 337.2 479.1 321.7 479.1 315.5 479.1 313.9 476.3 303.1 476.8 304.6 478.3 312.4 480.6 314 483 306.2 483.8 290.6 482.2 275.1 480.6 259.6 480.6 242.5 483 228.5 486.1 213 489.2 210.7 490.3 180.1 490.8Z" fill="#001200"/></g>
<g filter="url(#b12_0)" style="mix-blend-mode:lighten"><rect x="-40" y="62" width="1087.3" height="386.7" fill="#000016"/></g>
</g>
<use href="#coast"/><use href="#bound"/>
<text class="t" x="503.7" y="-12">Bias: icon</text>
<rect x="95.7" y="543.2" width="816" height="40.1" fill="url(#cb)" stroke="#000" stroke-width="1.67"/>
<path d="M142.9 583.3 v7.3" stroke="#000" stroke-width="1.67"/><text class="k" x="142.9" y="614.1">−10</text>
<path d="M323.3 583.3 v7.3" stroke="#000" stroke-width="1.67"/><text class="k" x="323.3" y="614.1">−5</text>
<path d="M503.7 583.3 v7.3" stroke="#000" stroke-width="1.67"/><text class="k" x="503.7" y="614.1">0</text>
<path d="M684 583.3 v7.3" stroke="#000" stroke-width="1.67"/><text class="k" x="684" y="614.1">5</text>
<path d="M864.4 583.3 v7.3" stroke="#000" stroke-width="1.67"/><text class="k" x="864.4" y="614.1">10</text>
<text class="k" x="503.7" y="643">W/m2/decade</text>
</g>
</svg></body></html>
